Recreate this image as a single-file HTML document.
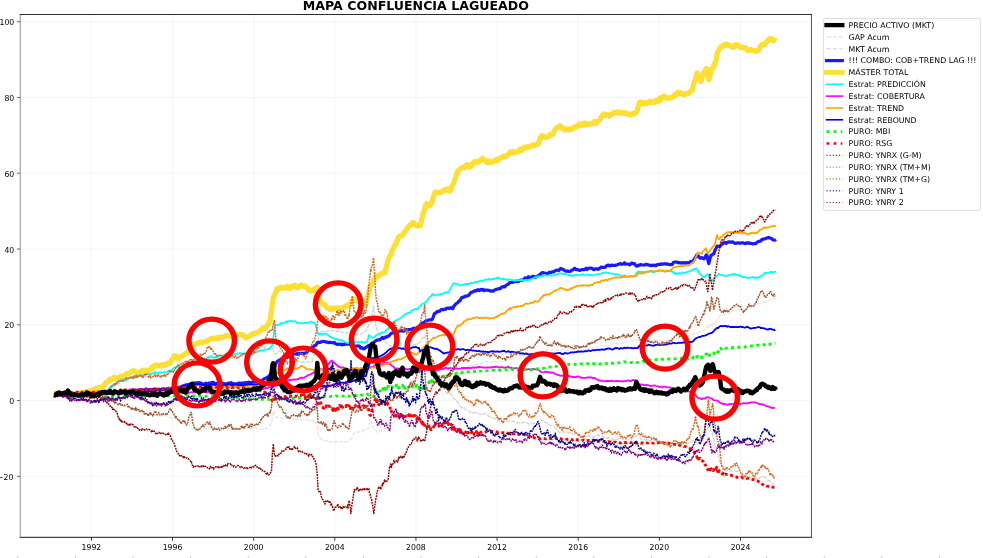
<!DOCTYPE html>
<html lang="es"><head><meta charset="utf-8"><title>MAPA CONFLUENCIA LAGUEADO</title>
<style>html,body{margin:0;padding:0;background:#fff;overflow:hidden}svg{display:block}</style></head>
<body>
<svg width="983" height="558" viewBox="0 0 983 558" style="display:block">
<rect x="0" y="0" width="983" height="558" fill="#fff"/>
<g stroke="#b0b0b0" stroke-opacity="0.2" stroke-width="0.63"><line x1="91.40" y1="14.5" x2="91.40" y2="537.35"/><line x1="172.54" y1="14.5" x2="172.54" y2="537.35"/><line x1="253.67" y1="14.5" x2="253.67" y2="537.35"/><line x1="334.81" y1="14.5" x2="334.81" y2="537.35"/><line x1="415.94" y1="14.5" x2="415.94" y2="537.35"/><line x1="497.08" y1="14.5" x2="497.08" y2="537.35"/><line x1="578.22" y1="14.5" x2="578.22" y2="537.35"/><line x1="659.35" y1="14.5" x2="659.35" y2="537.35"/><line x1="740.49" y1="14.5" x2="740.49" y2="537.35"/><line x1="20.25" y1="476.33" x2="811.45" y2="476.33"/><line x1="20.25" y1="400.56" x2="811.45" y2="400.56"/><line x1="20.25" y1="324.79" x2="811.45" y2="324.79"/><line x1="20.25" y1="249.02" x2="811.45" y2="249.02"/><line x1="20.25" y1="173.24" x2="811.45" y2="173.24"/><line x1="20.25" y1="97.47" x2="811.45" y2="97.47"/><line x1="20.25" y1="21.70" x2="811.45" y2="21.70"/></g>
<clipPath id="c"><rect x="20.25" y="14.5" width="791.2" height="522.85"/></clipPath>
<g clip-path="url(#c)">
<path d="M54.3,395.1 L55.3,394.5 L56.3,394.5 L57.3,394.5 L58.3,394.7 L59.3,394.0 L60.3,394.0 L61.3,393.8 L62.2,393.6 L63.2,393.6 L64.2,393.8 L65.2,393.9 L66.2,393.8 L67.2,394.3 L68.2,394.1 L69.2,393.0 L70.2,394.2 L71.2,394.2 L72.2,394.0 L73.2,394.4 L74.2,394.6 L75.2,394.6 L76.2,394.3 L77.2,394.5 L78.1,393.9 L79.1,394.8 L80.1,394.3 L81.1,394.4 L82.1,394.5 L83.1,394.7 L84.1,394.6 L85.1,394.9 L86.1,393.4 L87.1,393.9 L88.1,394.2 L89.1,394.3 L90.1,395.1 L91.1,394.5 L92.1,394.6 L93.0,393.9 L94.0,394.4 L95.0,393.9 L96.0,393.7 L97.0,395.2 L98.0,395.3 L99.0,395.1 L100.0,395.1 L101.0,394.9 L102.0,395.1 L103.0,396.1 L104.0,395.8 L105.0,396.8 L106.0,396.7 L107.0,397.6 L108.0,397.9 L109.0,399.4 L110.0,400.1 L111.0,400.1 L112.0,399.7 L113.0,400.2 L114.0,400.9 L115.0,401.1 L116.0,402.0 L117.0,402.9 L118.0,403.2 L119.0,403.4 L120.0,404.2 L121.0,404.4 L121.9,405.2 L122.9,405.3 L123.9,406.4 L124.9,406.4 L125.9,406.3 L126.9,406.9 L127.9,407.1 L128.9,407.3 L129.9,407.9 L131.0,408.8 L132.0,408.2 L133.0,409.0 L134.0,409.5 L135.1,410.0 L136.1,410.8 L137.1,410.6 L138.2,411.5 L139.2,411.7 L140.2,412.2 L141.2,412.5 L142.3,412.8 L143.3,413.1 L144.3,413.5 L145.3,414.4 L146.2,414.5 L147.2,414.5 L148.2,414.4 L149.2,414.0 L150.1,414.2 L151.1,415.0 L152.1,414.1 L153.1,414.5 L154.1,414.8 L155.0,414.7 L156.0,414.9 L157.0,415.2 L158.0,415.8 L158.9,415.8 L159.9,416.0 L160.9,415.5 L161.9,415.6 L162.8,415.3 L163.8,415.3 L164.8,415.0 L165.8,415.6 L166.8,416.5 L167.9,416.5 L168.9,416.8 L169.9,417.4 L170.9,417.6 L171.9,418.3 L173.0,418.5 L174.0,418.3 L175.0,418.4 L176.0,419.4 L177.0,420.0 L178.0,420.8 L179.0,421.0 L180.0,421.4 L180.9,421.0 L181.9,422.2 L182.9,422.1 L183.9,423.0 L184.9,422.8 L185.9,423.1 L186.9,423.8 L188.0,424.5 L189.0,425.1 L190.1,426.4 L191.2,427.4 L192.2,428.2 L193.3,428.7 L194.3,428.3 L195.3,428.2 L196.2,428.1 L197.2,428.2 L198.2,428.5 L199.2,428.3 L200.2,427.9 L201.2,427.7 L202.1,428.3 L203.1,428.2 L204.1,428.1 L205.1,428.1 L206.1,428.1 L207.1,428.0 L208.0,428.2 L209.0,428.2 L210.0,426.7 L211.0,427.1 L212.0,428.5 L213.0,427.6 L214.0,427.7 L215.0,428.2 L216.0,428.0 L217.0,428.5 L218.0,427.8 L219.0,427.4 L220.0,427.6 L221.0,427.5 L222.0,427.4 L223.0,428.0 L224.0,428.2 L225.0,428.3 L226.0,428.1 L227.0,428.4 L228.0,428.4 L229.0,428.1 L230.0,428.5 L231.0,428.7 L232.0,428.6 L233.0,428.8 L234.0,428.2 L235.0,428.3 L236.0,428.2 L237.0,428.9 L238.0,428.9 L239.0,429.6 L240.0,429.7 L241.0,429.0 L242.0,428.3 L243.0,428.6 L244.0,428.4 L245.0,428.4 L246.0,428.0 L247.0,428.5 L248.0,428.6 L249.0,428.7 L250.0,428.7 L251.0,428.3 L251.9,427.5 L252.9,427.8 L253.9,427.8 L254.9,427.9 L255.8,428.5 L256.8,428.4 L257.8,429.0 L258.8,428.8 L259.7,428.9 L260.7,428.9 L261.7,429.0 L262.6,428.2 L263.6,428.7 L264.6,428.6 L265.6,428.1 L266.5,428.4 L267.5,428.5 L268.6,427.4 L269.6,425.9 L270.7,424.3 L271.8,421.9 L272.6,416.6 L273.5,410.8 L274.4,413.1 L275.2,415.2 L276.1,417.7 L277.1,417.2 L278.1,417.6 L279.1,417.6 L280.1,417.3 L281.1,417.7 L282.1,418.0 L283.0,418.8 L284.0,419.0 L285.0,418.1 L286.0,417.6 L287.0,418.2 L288.0,418.5 L289.0,418.4 L290.0,418.1 L291.0,418.5 L291.9,418.4 L292.9,418.5 L293.9,419.2 L294.9,419.4 L295.8,419.1 L296.8,418.8 L297.8,419.0 L298.8,420.0 L299.8,419.6 L300.7,420.3 L301.7,419.7 L302.7,419.7 L303.7,420.0 L304.6,419.6 L305.6,419.8 L306.6,419.3 L307.6,419.9 L308.5,420.4 L309.5,420.0 L310.5,420.2 L311.6,420.3 L312.7,419.9 L313.8,421.8 L314.8,422.1 L315.9,422.6 L317.0,422.8 L318.0,433.3 L319.1,436.3 L320.2,437.2 L321.3,439.3 L322.4,439.6 L323.4,440.0 L324.5,440.7 L325.6,440.7 L326.6,440.6 L327.7,440.8 L328.7,441.3 L329.8,441.8 L330.8,442.1 L331.8,442.5 L332.8,441.9 L333.9,442.2 L334.9,442.2 L335.9,441.9 L336.9,441.4 L337.9,441.9 L339.0,441.5 L340.0,441.4 L341.0,441.1 L342.0,442.1 L343.0,441.9 L344.0,441.7 L345.0,441.6 L346.0,441.7 L347.0,441.8 L348.0,441.2 L349.1,440.0 L350.1,439.5 L351.2,439.0 L352.3,436.7 L353.3,435.0 L354.4,433.0 L355.4,432.0 L356.3,432.1 L357.3,431.8 L358.2,432.3 L359.2,432.0 L360.1,431.8 L361.1,431.0 L362.0,431.1 L363.0,430.3 L364.1,430.1 L365.2,430.2 L366.2,429.0 L367.3,428.8 L368.4,428.7 L369.4,424.0 L370.5,420.0 L371.6,423.3 L372.7,426.5 L373.8,429.3 L374.9,429.8 L376.0,430.1 L377.0,432.1 L378.1,432.6 L379.2,431.7 L380.2,430.4 L381.3,430.6 L382.4,429.2 L383.4,429.2 L384.5,428.7 L385.6,427.7 L386.7,426.5 L387.8,425.8 L388.8,424.6 L389.9,424.4 L391.0,424.3 L392.0,423.8 L393.0,423.2 L394.0,422.0 L395.0,421.4 L396.0,420.2 L397.0,419.6 L398.0,419.4 L399.0,419.7 L400.0,418.6 L401.0,417.3 L402.0,415.4 L403.0,414.8 L404.0,413.5 L405.0,412.2 L406.0,410.9 L407.0,410.5 L408.0,409.6 L409.0,409.0 L410.0,407.9 L411.0,407.0 L412.0,406.6 L413.0,405.6 L414.0,404.7 L415.0,404.0 L416.0,402.6 L417.0,400.9 L418.0,399.6 L419.0,398.2 L420.0,397.7 L421.0,397.1 L422.0,396.8 L423.0,396.5 L424.0,395.5 L425.0,395.0 L426.0,394.9 L427.0,394.1 L428.0,393.7 L429.0,392.8 L430.0,391.7 L431.0,391.1 L432.0,389.7 L433.0,389.7 L434.0,388.9 L435.0,388.9 L436.0,387.5 L437.0,387.0 L438.0,386.5 L439.0,385.7 L440.0,385.1 L441.0,384.2 L441.9,383.4 L442.9,382.5 L443.9,382.1 L444.8,381.6 L445.8,381.5 L446.8,380.9 L447.8,380.3 L448.7,379.6 L449.7,378.6 L450.7,378.3 L451.6,378.3 L452.6,377.3 L453.7,376.4 L454.7,375.7 L455.8,374.3 L456.8,373.4 L457.9,372.1 L458.9,372.0 L460.0,371.0 L461.0,370.7 L462.0,369.6 L462.9,369.4 L463.9,368.7 L464.9,368.5 L465.9,367.8 L466.9,367.5 L467.8,366.8 L468.8,366.7 L469.8,367.1 L470.8,365.9 L471.7,365.1 L472.7,365.2 L473.7,365.2 L474.7,364.7 L475.8,364.7 L476.8,364.5 L477.8,364.3 L478.8,364.4 L479.9,363.5 L480.9,363.4 L481.9,363.1 L482.9,362.4 L484.0,362.4 L485.0,361.5 L486.0,361.1 L487.0,362.0 L488.0,361.5 L489.0,362.4 L490.0,362.7 L491.0,362.2 L492.0,361.7 L493.0,360.9 L494.0,361.4 L495.0,361.0 L496.0,362.1 L497.0,361.4 L498.0,361.7 L499.0,360.7 L500.0,361.1 L501.0,361.8 L502.0,361.3 L503.0,360.7 L504.0,360.4 L505.0,360.4 L506.0,360.6 L507.0,360.0 L508.0,358.9 L509.0,359.0 L510.0,359.3 L511.0,359.8 L512.0,359.1 L513.0,358.6 L514.0,357.9 L515.0,357.9 L516.0,358.2 L517.0,357.1 L518.0,356.8 L519.0,356.0 L520.0,355.6 L521.0,355.5 L522.0,355.5 L523.0,354.9 L524.0,354.6 L525.0,355.0 L526.0,354.8 L527.0,354.6 L528.0,354.2 L529.0,353.6 L530.0,353.4 L531.0,353.2 L532.0,352.8 L533.0,352.8 L534.0,352.3 L535.0,352.4 L536.0,352.0 L537.0,352.1 L538.0,351.5 L539.0,351.1 L540.0,350.6 L541.0,351.3 L542.0,351.3 L543.0,351.1 L544.0,351.1 L545.0,350.5 L546.0,350.5 L547.0,350.1 L548.0,349.4 L549.0,349.5 L550.0,349.3 L551.0,350.2 L552.0,349.9 L553.0,349.8 L554.0,350.4 L555.0,350.3 L556.0,349.7 L557.0,350.1 L558.0,349.9 L559.0,350.8 L560.0,350.2 L561.0,350.0 L562.0,349.1 L563.0,349.5 L564.0,350.8 L565.0,350.7 L566.0,350.3 L567.0,350.6 L568.0,350.6 L569.0,350.6 L570.0,351.8 L571.0,352.2 L572.0,352.3 L573.0,352.4 L574.0,351.4 L575.0,350.4 L576.0,350.8 L577.0,350.8 L578.0,350.5 L579.0,350.3 L580.0,350.4 L581.0,350.3 L582.0,350.0 L583.0,349.9 L584.0,349.4 L585.0,349.0 L586.0,349.5 L587.0,348.9 L588.0,349.5 L589.0,349.1 L590.0,348.6 L591.0,348.7 L592.0,348.0 L593.0,347.6 L594.0,347.3 L595.0,347.2 L596.0,347.3 L597.0,347.8 L598.0,347.4 L599.0,346.5 L600.0,345.9 L601.0,345.2 L602.0,345.8 L603.0,346.1 L604.1,345.9 L605.1,345.8 L606.1,345.7 L607.1,345.6 L608.1,345.5 L609.1,345.3 L610.1,344.5 L611.2,344.9 L612.2,345.1 L613.2,344.0 L614.2,343.9 L615.2,343.4 L616.2,343.7 L617.3,343.5 L618.3,344.0 L619.3,344.1 L620.3,343.4 L621.3,342.9 L622.3,342.5 L623.4,342.7 L624.4,342.1 L625.4,342.3 L626.4,341.5 L627.4,342.0 L628.5,342.0 L629.5,341.2 L630.5,340.8 L631.5,340.9 L632.5,340.9 L633.5,339.6 L634.6,340.0 L635.6,340.7 L636.6,340.2 L637.6,339.7 L638.6,340.5 L639.6,340.5 L640.7,340.6 L641.7,340.8 L642.7,340.1 L643.7,340.0 L644.7,339.8 L645.8,339.7 L646.8,340.0 L647.8,339.9 L648.8,340.9 L649.8,341.1 L650.8,341.3 L651.9,340.4 L652.9,340.6 L653.9,340.7 L654.9,340.9 L655.9,341.1 L656.9,340.8 L658.0,340.6 L659.0,341.2 L660.0,342.1 L661.0,342.6 L662.0,341.7 L663.0,340.9 L664.1,340.8 L665.1,340.8 L666.1,341.3 L667.1,340.7 L668.1,340.0 L669.2,340.4 L670.2,339.8 L671.2,339.3 L672.2,339.5 L673.2,339.3 L674.3,338.8 L675.3,338.7 L676.3,338.6 L677.3,338.5 L678.3,338.2 L679.4,338.5 L680.4,338.2 L681.4,337.9 L682.4,338.1 L683.4,337.3 L684.5,337.4 L685.5,337.3 L686.5,336.7 L687.5,336.5 L688.5,335.5 L689.6,335.5 L690.6,334.9 L691.6,334.5 L692.6,334.4 L693.6,333.8 L694.6,333.7 L695.6,333.5 L696.7,333.5 L697.7,333.1 L698.7,332.9 L699.7,331.9 L700.7,331.3 L701.7,331.2 L702.7,330.9 L703.8,330.2 L704.8,329.1 L705.8,328.0 L706.8,327.2 L707.9,327.3 L708.9,326.2 L709.9,325.6 L710.9,325.2 L711.9,324.5 L713.0,323.2 L714.0,323.3 L715.0,322.2 L716.0,321.3 L717.0,320.2 L718.0,318.5 L719.0,317.4 L720.0,315.9 L721.0,315.2 L722.0,314.6 L723.0,314.6 L724.1,314.4 L725.1,314.0 L726.1,313.5 L727.1,313.1 L728.1,313.1 L729.2,313.1 L730.2,312.4 L731.2,312.0 L732.2,310.8 L733.3,310.3 L734.3,310.0 L735.3,309.8 L736.3,310.3 L737.3,309.4 L738.3,309.9 L739.4,310.2 L740.4,310.9 L741.4,310.1 L742.4,310.1 L743.4,310.2 L744.5,310.0 L745.5,309.0 L746.5,308.5 L747.5,307.9 L748.5,307.9 L749.6,308.0 L750.6,308.2 L751.6,307.7 L752.6,307.3 L753.6,306.9 L754.7,305.7 L755.7,305.4 L756.7,305.2 L757.7,304.3 L758.7,303.3 L759.7,303.3 L760.7,303.1 L761.7,303.1 L762.8,302.0 L763.8,301.8 L764.8,302.6 L765.8,302.6 L766.8,301.9 L767.8,301.3 L768.7,300.8 L769.7,300.1 L770.6,299.8 L771.6,299.6 L772.5,298.9 L773.5,298.8 L774.4,298.7 L775.4,297.9" fill="none" stroke="#d8d8d8" stroke-width="1.2" stroke-dasharray="4.4 1.2" stroke-opacity="0.7" stroke-linecap="butt" stroke-linejoin="round"/>
<path d="M54.3,394.2 L55.3,394.8 L56.3,394.1 L57.3,394.6 L58.3,394.2 L59.3,394.1 L60.3,395.0 L61.3,394.7 L62.2,394.4 L63.2,394.6 L64.2,394.9 L65.2,394.5 L66.2,394.6 L67.2,393.8 L68.2,393.7 L69.2,393.6 L70.2,393.1 L71.2,392.7 L72.2,392.4 L73.2,393.0 L74.2,393.3 L75.2,393.4 L76.2,393.6 L77.2,393.1 L78.1,393.4 L79.1,393.7 L80.1,394.1 L81.1,393.5 L82.1,393.4 L83.1,392.6 L84.1,392.8 L85.1,392.1 L86.1,392.1 L87.1,393.4 L88.1,392.4 L89.1,393.4 L90.1,393.6 L91.1,393.5 L92.1,393.8 L93.0,393.9 L94.0,394.3 L95.0,393.9 L96.0,393.4 L97.0,393.2 L98.0,392.8 L99.0,393.1 L100.0,392.9 L101.0,393.2 L102.0,391.8 L103.0,391.1 L104.0,390.6 L105.0,389.6 L106.0,390.8 L107.0,389.1 L108.0,389.0 L109.0,388.7 L110.0,389.4 L111.0,387.7 L112.0,388.1 L113.0,387.0 L114.0,386.4 L115.0,385.4 L116.0,385.3 L117.0,384.0 L118.0,383.5 L119.0,383.1 L120.0,383.3 L121.0,381.0 L122.0,381.4 L123.0,381.4 L124.0,380.6 L125.0,380.4 L126.0,379.7 L127.0,380.3 L128.0,379.8 L129.0,379.2 L130.0,378.7 L131.0,378.3 L132.0,378.0 L133.0,377.3 L134.0,378.3 L135.0,376.7 L136.0,374.9 L137.0,375.7 L138.0,376.2 L139.0,376.6 L140.0,376.6 L141.0,376.5 L142.0,376.7 L143.0,377.2 L144.0,376.6 L145.0,376.4 L146.0,377.4 L147.0,377.2 L148.0,376.3 L149.0,377.4 L150.0,377.3 L151.0,376.5 L152.0,375.7 L153.0,376.0 L154.0,375.6 L155.0,375.2 L156.0,374.9 L157.0,375.1 L158.0,375.9 L159.0,375.6 L160.0,374.9 L161.0,375.6 L162.0,375.6 L163.0,376.0 L164.0,376.4 L165.0,375.9 L166.0,375.1 L167.0,374.4 L168.0,373.3 L169.0,373.3 L170.0,373.5 L171.0,372.7 L172.0,371.8 L173.0,371.0 L174.0,370.1 L175.0,369.4 L176.0,369.0 L177.0,368.3 L178.0,367.9 L179.0,366.9 L180.0,367.1 L181.0,366.8 L182.0,365.8 L183.0,364.5 L184.0,364.7 L185.0,365.1 L186.0,364.2 L187.0,363.6 L188.0,363.0 L189.0,363.0 L190.0,362.1 L191.0,362.3 L192.0,361.5 L193.0,361.5 L194.0,360.8 L195.0,360.0 L196.0,359.0 L197.0,358.7 L198.0,358.7 L199.0,359.0 L200.0,358.8 L201.0,358.1 L202.0,358.2 L203.0,358.4 L204.0,357.8 L205.0,357.2 L206.0,356.8 L207.0,357.1 L208.0,356.9 L209.0,356.0 L210.0,356.1 L211.0,355.9 L212.0,355.6 L213.0,356.5 L214.0,356.8 L215.0,356.3 L216.0,356.4 L217.0,356.7 L218.0,356.3 L219.0,356.4 L220.0,356.8 L221.0,355.9 L222.0,356.5 L223.0,357.0 L224.0,357.2 L225.0,356.4 L226.0,356.9 L227.0,356.5 L228.0,357.1 L229.0,357.5 L230.0,357.5 L231.0,357.0 L232.0,356.9 L233.0,357.6 L234.0,357.1 L235.0,357.6 L236.0,357.6 L237.0,357.2 L238.0,358.3 L239.0,357.6 L240.0,358.2 L241.0,356.4 L242.0,355.2 L243.0,356.1 L244.0,356.4 L245.0,356.0 L246.0,355.8 L247.0,354.8 L248.0,354.7 L249.0,354.5 L250.0,354.6 L251.0,355.2 L252.0,355.1 L253.0,354.6 L254.0,353.6 L255.0,352.9 L256.0,352.5 L257.0,351.8 L258.0,351.9 L259.0,350.6 L260.0,351.1 L261.0,349.6 L262.0,349.5 L263.0,348.1 L264.0,348.3 L265.0,347.2 L266.0,346.5 L267.0,345.9 L268.0,344.5 L269.0,343.2 L270.0,341.7 L271.0,345.2 L272.0,347.3 L273.0,349.5 L273.9,351.2 L274.9,353.8 L275.8,354.0 L276.9,353.2 L277.9,351.9 L279.0,351.1 L280.0,351.2 L281.0,352.3 L282.0,354.1 L283.0,355.8 L284.0,357.2 L285.0,357.3 L286.0,357.5 L287.0,357.7 L288.0,357.3 L289.0,357.2 L290.0,358.4 L291.0,359.0 L292.0,359.3 L293.0,360.2 L294.0,359.8 L295.0,360.5 L296.0,360.8 L297.0,361.0 L298.0,361.3 L299.0,361.4 L300.0,361.5 L301.0,361.5 L302.0,362.5 L303.0,361.9 L304.0,362.2 L305.0,362.3 L306.0,361.8 L307.0,362.2 L308.0,361.6 L309.0,362.3 L310.0,361.7 L311.0,361.6 L312.0,362.0 L313.0,359.0 L314.0,355.9 L315.0,352.6 L316.0,348.7 L317.0,344.7 L318.1,340.6 L319.1,336.2 L320.2,331.1 L321.2,331.9 L322.1,331.9 L323.1,331.4 L324.1,331.9 L325.0,331.3 L326.0,331.2 L327.0,331.6 L328.0,330.7 L329.0,331.0 L330.1,330.3 L331.1,330.9 L332.1,330.4 L333.1,330.5 L334.1,330.1 L335.1,330.4 L336.1,331.4 L337.0,331.7 L338.0,330.9 L339.0,331.9 L340.0,332.5 L341.0,332.1 L342.0,332.7 L343.0,331.9 L344.0,331.9 L345.0,332.5 L346.0,332.9 L347.0,333.2 L348.0,332.1 L349.0,331.2 L350.0,331.7 L351.0,331.5 L352.0,332.1 L352.9,332.1 L353.9,333.3 L354.9,334.1 L355.9,334.5 L356.8,334.6 L357.8,334.8 L358.8,335.0 L359.8,334.5 L360.9,333.9 L361.9,333.3 L362.9,332.3 L364.0,332.6 L365.0,331.7 L366.1,330.4 L367.1,328.9 L368.2,326.2 L369.3,323.6 L370.3,322.9 L371.4,320.9 L372.4,313.5 L373.5,305.9 L374.5,313.7 L375.4,320.7 L376.4,328.6 L377.4,330.3 L378.4,332.2 L379.4,332.9 L380.4,335.6 L381.4,337.6 L382.4,337.8 L383.5,338.9 L384.5,340.4 L385.6,341.9 L386.6,343.0 L387.7,344.7 L388.8,345.2 L389.9,345.2 L390.9,345.8 L392.0,347.1 L393.0,347.0 L394.0,347.8 L395.0,348.4 L396.0,348.7 L397.0,349.1 L398.0,348.9 L399.0,349.0 L400.0,348.8 L401.0,348.4 L402.0,347.6 L403.0,347.6 L404.0,347.2 L405.0,346.7 L406.0,347.2 L407.0,347.5 L408.0,347.2 L409.0,347.8 L410.0,347.8 L411.0,347.4 L412.0,346.2 L413.0,344.9 L414.0,344.9 L415.0,344.6 L416.0,344.4 L417.0,343.9 L418.0,343.9 L419.0,342.8 L420.0,342.5 L421.0,340.6 L422.0,338.4 L423.0,337.5 L424.0,337.5 L425.0,335.3 L426.0,340.8 L427.0,345.1 L428.0,349.7 L429.0,354.3 L430.0,359.0 L431.0,363.0 L432.0,367.8 L433.0,370.4 L434.0,373.1 L435.0,374.9 L436.0,378.0 L437.0,381.0 L438.0,383.9 L439.0,383.8 L440.0,385.2 L441.0,385.5 L442.0,387.5 L443.0,389.3 L444.0,390.1 L445.0,390.9 L446.0,392.1 L447.0,393.2 L448.0,393.3 L449.0,394.0 L450.0,393.4 L451.0,394.3 L452.0,395.4 L453.0,396.9 L453.9,399.0 L454.9,399.3 L455.9,399.5 L456.9,401.4 L457.9,402.5 L458.8,404.1 L459.8,405.7 L460.8,406.4 L461.7,407.5 L462.7,408.4 L463.7,407.6 L464.7,408.2 L465.6,409.8 L466.6,409.8 L467.6,410.7 L468.6,411.0 L469.5,411.2 L470.5,412.6 L471.4,413.0 L472.4,412.6 L473.4,413.1 L474.3,412.4 L475.2,412.4 L476.2,413.3 L477.1,413.5 L478.1,413.1 L479.1,413.7 L480.0,414.1 L481.1,414.7 L482.2,414.9 L483.2,414.3 L484.3,413.9 L485.4,413.9 L486.5,413.8 L487.6,415.2 L488.7,416.2 L489.8,416.9 L490.8,417.0 L491.9,417.0 L493.0,417.9 L494.1,418.1 L495.1,418.9 L496.2,418.6 L497.3,419.5 L498.3,421.2 L499.4,421.2 L500.4,420.6 L501.3,420.9 L502.3,422.0 L503.2,422.5 L504.2,421.9 L505.1,421.5 L506.1,421.4 L507.0,421.0 L508.0,421.2 L509.0,421.3 L509.9,420.8 L510.9,421.0 L511.9,421.3 L512.9,421.3 L513.8,421.1 L514.8,422.1 L515.8,423.2 L516.8,422.8 L517.7,422.5 L518.7,422.8 L519.7,422.7 L520.7,422.3 L521.8,423.3 L522.8,422.6 L523.8,422.4 L524.8,422.4 L525.8,422.3 L526.8,422.6 L527.9,423.2 L528.9,424.0 L529.9,424.0 L530.9,423.8 L531.9,423.0 L532.9,423.3 L534.0,423.0 L535.0,423.3 L536.0,424.0 L537.0,422.9 L537.9,421.6 L538.8,420.1 L539.8,419.2 L540.8,420.1 L541.9,420.3 L542.9,421.0 L544.0,422.4 L545.0,422.3 L546.0,422.7 L547.0,422.8 L548.0,424.3 L549.0,424.8 L550.1,425.3 L551.1,425.6 L552.1,425.9 L553.1,426.2 L554.2,426.3 L555.3,427.8 L556.4,429.2 L557.4,429.5 L558.5,431.3 L559.6,432.7 L560.6,431.8 L561.5,431.8 L562.5,432.0 L563.5,431.9 L564.5,432.4 L565.4,431.8 L566.4,432.1 L567.4,432.4 L568.4,432.9 L569.3,432.8 L570.3,432.7 L571.3,433.5 L572.2,432.8 L573.2,434.0 L574.2,434.3 L575.1,434.2 L576.1,434.7 L577.1,434.5 L578.0,434.5 L579.0,435.5 L580.1,435.6 L581.1,436.4 L582.2,436.1 L583.2,435.7 L584.3,435.6 L585.4,436.9 L586.4,436.8 L587.5,436.4 L588.5,435.9 L589.6,435.6 L590.6,435.9 L591.7,436.3 L592.8,436.8 L593.8,437.1 L594.9,436.8 L595.9,436.1 L597.0,435.6 L598.0,434.6 L599.0,435.0 L600.0,436.0 L601.0,436.3 L602.0,436.9 L603.0,436.5 L604.0,437.5 L605.0,437.9 L606.0,438.1 L607.0,438.5 L608.0,437.5 L609.0,437.9 L610.0,437.9 L611.0,439.2 L611.9,439.0 L612.9,438.7 L613.9,439.3 L614.9,438.7 L615.8,439.6 L616.8,439.0 L617.8,439.1 L618.8,438.7 L619.8,439.4 L620.7,438.3 L621.7,439.1 L622.7,438.9 L623.7,439.2 L624.6,438.8 L625.6,439.3 L626.6,439.5 L627.6,439.9 L628.5,440.0 L629.5,440.2 L630.5,440.6 L631.6,439.3 L632.7,437.9 L633.8,436.8 L634.8,436.8 L635.9,435.9 L637.0,435.9 L638.1,436.4 L639.1,436.6 L640.2,437.9 L641.3,439.5 L642.3,439.6 L643.4,439.6 L644.4,439.3 L645.4,440.1 L646.3,439.8 L647.3,439.7 L648.3,440.3 L649.3,440.3 L650.2,440.4 L651.2,440.1 L652.2,439.9 L653.2,440.3 L654.1,440.5 L655.1,440.9 L656.1,440.6 L657.1,440.8 L658.0,441.1 L659.0,441.0 L660.0,441.3 L661.0,441.8 L662.0,441.7 L663.0,441.7 L664.0,441.2 L665.0,441.7 L666.0,441.8 L667.0,441.8 L668.0,441.6 L669.0,442.3 L670.0,443.7 L671.0,443.5 L672.0,443.3 L673.0,443.5 L674.0,443.1 L675.0,443.3 L676.0,443.1 L677.0,443.1 L678.0,443.6 L679.0,443.9 L680.0,444.0 L681.0,443.8 L682.0,444.2 L683.0,443.9 L684.0,444.3 L685.0,443.8 L685.9,443.6 L686.9,443.8 L687.9,443.7 L688.9,442.5 L689.9,442.3 L690.9,442.4 L691.8,441.6 L692.8,440.4 L693.8,440.7 L694.8,441.5 L695.9,442.3 L696.9,442.8 L697.9,443.3 L699.0,443.8 L700.0,444.8 L701.0,442.8 L701.9,440.9 L702.9,438.5 L703.8,437.2 L704.8,434.9 L705.7,433.3 L706.7,430.1 L707.8,428.4 L708.8,426.4 L709.9,428.1 L710.9,430.7 L712.0,432.5 L713.1,436.8 L714.2,441.1 L715.3,446.7 L716.4,450.2 L717.4,453.6 L718.5,456.3 L719.5,460.3 L720.6,463.8 L721.7,464.8 L722.8,466.2 L723.8,466.8 L724.9,469.0 L726.0,470.0 L727.0,470.8 L728.0,470.6 L728.9,470.5 L729.9,471.0 L730.9,471.2 L731.9,470.7 L732.9,471.0 L733.9,471.5 L734.8,471.4 L735.8,470.9 L736.8,471.2 L737.8,471.4 L738.7,472.0 L739.7,472.8 L740.7,473.4 L741.7,473.9 L742.6,473.7 L743.6,474.8 L744.6,475.3 L745.6,475.8 L746.5,476.5 L747.5,478.0 L748.5,477.0 L749.5,476.4 L750.4,477.3 L751.4,477.0 L752.4,478.0 L753.4,477.4 L754.4,477.4 L755.4,478.1 L756.3,478.6 L757.3,478.6 L758.3,478.7 L759.4,478.0 L760.5,477.2 L761.5,476.7 L762.6,477.0 L763.7,476.7 L764.8,477.2 L765.8,478.1 L766.9,479.2 L767.9,480.4 L769.0,480.7 L770.1,481.1 L771.2,481.9 L772.2,483.7 L773.3,483.8 L774.4,484.6" fill="none" stroke="#c4c4c4" stroke-width="1.2" stroke-dasharray="4.4 1.2" stroke-opacity="0.8" stroke-linecap="butt" stroke-linejoin="round"/>
<path d="M54.3,394.2 L55.3,394.4 L56.3,394.1 L57.3,394.3 L58.3,394.6 L59.2,394.6 L60.2,395.1 L61.2,394.3 L62.2,394.2 L63.2,393.9 L64.2,393.6 L65.2,393.8 L66.2,394.0 L67.2,394.2 L68.1,394.4 L69.1,395.3 L70.1,395.1 L71.1,393.9 L72.1,394.1 L73.1,393.8 L74.1,393.7 L75.1,394.4 L76.0,394.1 L77.0,393.2 L78.0,393.7 L79.0,393.7 L80.0,393.3 L81.0,393.2 L82.0,393.2 L83.0,393.5 L84.0,393.5 L85.0,393.7 L86.0,394.6 L87.0,393.9 L88.0,393.5 L89.0,393.5 L90.0,394.1 L91.0,393.6 L92.0,394.3 L93.0,393.4 L94.0,393.0 L95.0,393.3 L96.0,393.0 L97.0,393.0 L98.0,393.4 L99.0,393.8 L100.0,393.7 L101.0,393.4 L102.0,393.9 L103.0,393.8 L104.0,393.4 L105.0,393.8 L106.0,393.0 L107.0,393.0 L108.0,393.2 L109.0,393.0 L110.0,392.6 L111.0,392.7 L112.0,392.4 L113.0,392.1 L114.0,391.8 L115.0,392.6 L116.0,392.2 L117.0,392.7 L118.0,392.6 L119.0,392.2 L120.0,392.4 L121.0,392.2 L122.0,392.1 L123.0,391.3 L124.0,391.5 L125.0,391.9 L126.0,391.9 L127.0,392.1 L128.0,392.4 L129.0,392.1 L130.0,392.6 L131.0,391.2 L132.0,391.0 L133.0,389.8 L134.0,390.7 L135.0,390.8 L136.0,391.5 L137.0,390.9 L138.0,389.9 L139.0,390.7 L140.0,390.0 L141.0,389.5 L142.1,389.7 L143.1,390.2 L144.2,389.9 L145.2,390.0 L146.2,389.0 L147.3,390.1 L148.3,389.8 L149.4,389.7 L150.4,389.8 L151.4,389.7 L152.5,389.7 L153.5,389.1 L154.5,389.1 L155.5,389.4 L156.6,389.8 L157.6,389.5 L158.6,389.4 L159.7,389.4 L160.7,389.5 L161.7,389.4 L162.7,389.1 L163.8,388.8 L164.8,389.4 L165.8,389.2 L166.8,388.9 L167.9,390.3 L168.9,389.8 L169.9,389.4 L170.9,388.8 L172.0,387.9 L173.0,388.4 L174.0,388.0 L175.0,387.8 L176.1,388.0 L177.1,388.1 L178.1,387.7 L179.1,387.2 L180.1,387.7 L181.1,387.1 L182.1,386.0 L183.1,386.0 L184.1,385.6 L185.0,385.2 L186.0,385.1 L187.0,384.7 L188.0,385.2 L189.0,384.5 L190.0,384.0 L191.1,384.1 L192.2,383.2 L193.3,383.4 L194.4,382.9 L195.4,383.4 L196.4,382.8 L197.5,383.2 L198.5,382.5 L199.5,382.7 L200.6,383.1 L201.6,383.5 L202.6,384.5 L203.6,384.9 L204.6,383.7 L205.6,383.2 L206.7,383.9 L207.7,383.9 L208.7,383.0 L209.7,383.4 L210.7,382.8 L211.7,382.7 L212.7,382.4 L213.7,382.6 L214.8,383.9 L215.8,383.7 L216.8,383.4 L217.8,384.4 L218.8,383.6 L219.8,383.4 L220.8,383.2 L221.9,383.5 L222.9,383.3 L223.9,384.0 L224.9,383.7 L225.9,383.9 L226.9,383.9 L228.0,383.4 L229.0,383.1 L230.0,383.4 L231.0,382.6 L232.0,383.2 L233.1,383.6 L234.1,383.8 L235.1,383.9 L236.1,384.0 L237.1,383.7 L238.2,384.0 L239.2,383.0 L240.2,383.6 L241.2,383.1 L242.2,383.4 L243.2,383.1 L244.3,382.9 L245.3,382.6 L246.3,383.4 L247.3,382.6 L248.3,382.1 L249.4,382.5 L250.4,382.6 L251.4,382.6 L252.4,382.0 L253.3,381.7 L254.3,382.1 L255.3,381.4 L256.2,381.7 L257.2,381.8 L258.2,381.5 L259.2,380.7 L260.1,381.5 L261.1,381.1 L262.0,380.5 L263.0,379.8 L263.9,378.9 L264.9,378.5 L265.8,378.2 L266.8,377.4 L267.7,377.2 L268.8,376.5 L269.9,375.1 L270.9,373.5 L272.0,372.6 L272.9,370.8 L273.9,369.0 L274.9,366.4 L275.8,363.6 L277.2,361.4 L278.1,361.0 L278.9,360.3 L279.8,360.1 L280.7,359.4 L281.8,358.6 L282.9,359.1 L283.9,357.5 L285.0,357.5 L286.1,357.4 L287.2,357.4 L288.2,356.7 L289.3,356.4 L290.3,355.4 L291.3,355.2 L292.3,354.0 L293.4,353.9 L294.4,354.0 L295.4,354.0 L296.4,353.7 L297.4,354.3 L298.4,353.3 L299.4,353.5 L300.5,353.3 L301.5,353.3 L302.5,353.2 L303.5,354.0 L304.5,353.0 L305.4,353.0 L306.4,352.8 L307.4,351.7 L308.3,350.6 L309.3,349.4 L310.2,348.5 L311.2,349.1 L312.1,347.2 L313.1,347.0 L314.2,345.7 L315.2,345.7 L316.3,344.5 L317.4,342.6 L318.4,342.3 L319.4,342.4 L320.4,342.3 L321.3,341.7 L322.3,341.5 L323.3,341.3 L324.3,341.5 L325.3,341.8 L326.3,342.1 L327.3,342.0 L328.3,342.6 L329.4,342.4 L330.4,342.3 L331.4,342.5 L332.4,342.8 L333.4,343.0 L334.4,342.5 L335.4,343.7 L336.4,344.0 L337.4,344.5 L338.4,344.1 L339.4,344.3 L340.4,344.3 L341.3,344.2 L342.3,344.9 L343.3,344.3 L344.3,344.5 L345.3,343.6 L346.3,344.2 L347.3,344.2 L348.2,344.0 L349.2,344.3 L350.1,343.8 L351.1,344.1 L352.1,345.0 L353.0,344.3 L354.0,345.7 L354.9,346.5 L355.9,346.3 L356.8,346.0 L357.8,345.9 L358.8,346.0 L359.7,346.5 L360.7,348.1 L361.6,347.6 L362.6,348.3 L363.5,349.0 L364.5,348.5 L365.6,347.5 L366.8,347.0 L367.9,345.7 L369.0,345.5 L370.1,345.6 L371.1,344.4 L372.1,343.1 L373.2,342.8 L374.2,342.2 L375.3,341.1 L376.3,340.5 L377.4,340.0 L378.4,339.9 L379.5,340.0 L380.5,339.2 L381.5,338.3 L382.5,337.5 L383.6,338.5 L384.6,337.9 L385.7,336.8 L386.8,337.1 L387.8,336.2 L388.9,335.9 L389.9,334.7 L390.9,333.7 L391.9,333.0 L393.0,333.0 L394.0,332.7 L395.0,332.3 L396.0,332.9 L396.9,332.7 L397.9,331.4 L398.9,331.2 L399.9,331.0 L400.8,330.2 L401.8,331.0 L402.8,330.9 L403.9,331.1 L404.9,330.3 L405.9,329.6 L406.9,330.0 L407.9,329.8 L409.0,329.5 L410.0,329.5 L411.0,329.3 L412.0,328.9 L413.1,328.4 L414.1,328.2 L415.1,329.1 L416.1,328.5 L417.1,327.3 L418.2,327.6 L419.2,326.4 L420.2,325.1 L421.2,324.1 L422.2,322.9 L423.2,323.3 L424.3,322.3 L425.3,321.3 L426.3,320.8 L427.3,320.7 L428.3,320.0 L429.4,319.8 L430.4,319.8 L431.4,319.9 L432.4,319.1 L433.4,316.5 L434.4,313.5 L435.4,313.2 L436.4,312.3 L437.4,311.3 L438.5,311.5 L439.5,311.2 L440.5,310.3 L441.5,309.5 L442.5,309.4 L443.6,309.8 L444.6,309.0 L445.6,309.3 L446.6,308.3 L447.6,308.1 L448.6,308.2 L449.6,308.6 L450.7,307.7 L451.7,308.1 L452.7,308.8 L453.7,306.4 L454.8,305.1 L455.8,304.0 L456.8,303.1 L457.8,302.6 L458.8,301.1 L459.9,300.9 L460.9,299.0 L461.9,297.4 L462.9,297.4 L463.9,297.2 L464.9,296.0 L465.9,296.2 L467.0,296.1 L468.0,295.7 L469.0,294.9 L470.0,293.6 L471.0,292.4 L472.1,292.2 L473.1,291.8 L474.1,291.1 L475.1,290.5 L476.1,290.9 L477.1,290.1 L478.1,289.7 L479.2,290.6 L480.2,289.9 L481.2,289.3 L482.2,290.2 L483.2,289.4 L484.2,290.7 L485.2,290.1 L486.3,290.1 L487.3,290.0 L488.3,290.2 L489.3,290.5 L490.3,291.1 L491.4,290.8 L492.4,291.2 L493.4,291.1 L494.4,290.0 L495.4,289.8 L496.5,289.3 L497.5,289.0 L498.5,288.8 L499.5,288.7 L500.6,288.4 L501.6,287.0 L502.6,286.9 L503.6,286.5 L504.6,286.9 L505.6,285.8 L506.6,285.0 L507.7,284.3 L508.7,284.0 L509.7,282.6 L510.7,282.5 L511.7,282.3 L512.8,282.2 L513.8,281.9 L514.8,281.6 L515.8,281.5 L516.8,280.8 L517.9,281.7 L518.9,281.3 L519.9,280.2 L520.9,280.0 L521.9,280.3 L522.9,279.7 L524.0,279.3 L525.0,277.9 L526.0,278.6 L527.0,278.2 L528.0,276.9 L529.0,276.9 L530.0,277.7 L531.0,277.6 L532.0,276.6 L533.1,276.4 L534.1,276.6 L535.1,277.4 L536.1,277.0 L537.1,276.6 L538.2,275.7 L539.2,275.2 L540.2,274.2 L541.3,273.3 L542.3,272.6 L543.3,272.7 L544.3,273.5 L545.3,273.2 L546.4,273.6 L547.4,273.5 L548.4,273.1 L549.4,272.2 L550.4,272.7 L551.5,272.2 L552.5,271.8 L553.5,272.0 L554.5,271.3 L555.5,270.6 L556.5,270.2 L557.5,270.0 L558.6,270.7 L559.6,269.5 L560.6,268.4 L561.6,268.8 L562.6,269.4 L563.7,269.7 L564.7,270.6 L565.7,271.1 L566.7,271.3 L567.7,270.9 L568.7,271.4 L569.8,271.5 L570.8,271.3 L571.8,270.1 L572.8,270.0 L573.8,269.1 L574.8,268.3 L575.8,269.4 L576.8,269.7 L577.8,269.7 L578.9,270.1 L579.9,270.4 L580.9,269.9 L581.9,269.7 L582.9,269.7 L583.9,269.7 L585.0,269.3 L586.0,268.3 L587.0,269.5 L588.0,268.6 L589.0,268.1 L590.1,268.3 L591.1,268.1 L592.1,268.4 L593.1,269.4 L594.1,269.6 L595.2,268.9 L596.2,268.9 L597.2,268.8 L598.2,269.3 L599.2,268.7 L600.2,267.9 L601.2,267.0 L602.2,267.3 L603.3,267.3 L604.3,267.3 L605.3,267.2 L606.2,266.0 L607.2,265.6 L608.1,264.9 L609.1,265.7 L610.1,265.9 L611.2,265.0 L612.2,265.4 L613.2,265.3 L614.2,265.3 L615.3,265.5 L616.3,265.0 L617.3,264.7 L618.3,264.3 L619.3,264.0 L620.3,263.6 L621.4,264.2 L622.4,264.2 L623.4,263.8 L624.4,262.8 L625.4,264.2 L626.4,264.0 L627.5,264.0 L628.5,264.2 L629.5,264.8 L630.5,264.3 L631.5,263.1 L632.6,263.4 L633.6,263.7 L634.6,263.7 L635.6,265.5 L636.6,266.1 L637.6,265.9 L638.7,265.1 L639.7,265.3 L640.7,264.5 L641.7,265.0 L642.7,265.0 L643.8,265.0 L644.8,265.1 L645.8,264.3 L646.8,264.4 L647.8,264.8 L648.9,264.8 L649.9,265.5 L650.9,265.7 L651.9,265.1 L652.9,265.6 L653.9,265.2 L654.9,265.3 L656.0,265.7 L657.0,264.8 L658.0,264.4 L659.0,264.5 L660.0,264.5 L661.0,263.8 L662.0,264.2 L663.0,264.1 L664.1,263.9 L665.1,263.7 L666.1,264.2 L667.1,263.9 L668.2,264.4 L669.2,264.4 L670.2,264.6 L671.2,264.6 L672.2,264.6 L673.2,262.7 L674.3,262.0 L675.3,262.0 L676.3,262.1 L677.3,262.0 L678.3,262.9 L679.4,262.5 L680.4,262.7 L681.4,263.1 L682.4,262.8 L683.4,262.7 L684.4,262.8 L685.5,263.3 L686.5,262.6 L687.5,262.9 L688.5,262.8 L689.5,262.6 L690.5,261.4 L691.5,261.8 L692.6,261.2 L693.6,260.4 L694.6,258.4 L695.6,257.4 L696.6,255.1 L697.6,255.6 L698.7,256.4 L699.7,257.7 L700.7,258.2 L701.8,257.6 L702.8,258.4 L703.8,258.9 L704.8,257.8 L705.8,255.7 L706.8,254.6 L707.8,259.8 L708.8,263.6 L709.8,259.2 L710.9,255.4 L711.9,255.1 L712.9,254.0 L713.9,253.7 L714.9,250.3 L716.0,248.5 L717.0,246.2 L718.0,246.4 L719.0,246.4 L720.0,246.4 L721.0,244.9 L722.1,244.4 L723.1,242.9 L724.1,243.0 L725.1,242.6 L726.2,243.4 L727.2,242.3 L728.2,242.2 L729.2,241.9 L730.2,242.1 L731.2,242.2 L732.2,241.8 L733.3,242.2 L734.3,243.1 L735.3,243.5 L736.4,243.2 L737.4,242.9 L738.4,242.8 L739.4,243.1 L740.4,243.1 L741.4,243.0 L742.5,242.8 L743.5,242.9 L744.5,243.5 L745.5,243.6 L746.5,242.9 L747.5,243.2 L748.5,242.8 L749.6,243.3 L750.6,243.4 L751.6,243.4 L752.6,244.0 L753.6,243.7 L754.7,243.5 L755.7,243.6 L756.7,242.5 L757.7,241.9 L758.7,241.3 L759.8,241.3 L760.8,240.8 L761.8,239.7 L762.8,239.1 L763.8,239.1 L764.8,238.8 L765.8,238.5 L766.9,237.8 L767.9,238.0 L768.9,237.4 L769.9,238.0 L770.9,238.3 L771.9,238.8 L773.0,240.0 L774.0,240.0 L775.0,240.2 L776.0,239.5" fill="none" stroke="#0000ff" stroke-width="3.2" stroke-opacity="0.9" stroke-linecap="butt" stroke-linejoin="round"/>
<path d="M54.3,393.8 L55.0,393.6 L55.7,394.1 L56.4,393.2 L57.1,393.6 L57.8,393.0 L58.5,393.9 L59.1,394.1 L59.8,394.6 L60.5,394.2 L61.2,394.3 L61.9,394.1 L62.6,393.7 L63.3,393.9 L64.0,393.4 L64.7,393.1 L65.3,393.2 L66.0,392.8 L66.7,392.2 L67.3,392.7 L68.0,392.0 L68.7,392.0 L69.3,392.5 L70.0,392.7 L70.7,393.1 L71.3,393.6 L72.0,395.0 L72.7,394.6 L73.5,394.4 L74.2,394.5 L74.9,395.1 L75.6,394.4 L76.3,393.9 L77.1,394.8 L77.8,393.7 L78.5,393.5 L79.2,393.8 L80.0,394.6 L80.7,393.7 L81.4,392.4 L82.1,392.8 L82.7,392.4 L83.4,392.2 L84.1,392.3 L84.8,392.1 L85.4,392.0 L86.1,391.5 L86.8,391.8 L87.5,392.0 L88.2,391.5 L88.9,390.9 L89.6,391.0 L90.2,390.8 L90.9,390.1 L91.6,389.8 L92.3,390.2 L93.0,389.9 L93.7,389.5 L94.3,389.4 L95.0,389.2 L95.7,389.0 L96.3,388.0 L97.0,388.9 L97.7,388.6 L98.3,388.0 L99.0,388.3 L99.7,387.8 L100.4,387.2 L101.0,387.0 L101.7,387.2 L102.4,386.4 L103.1,386.2 L103.7,386.1 L104.4,384.5 L105.1,383.6 L105.8,383.4 L106.5,382.0 L107.1,381.5 L107.8,381.6 L108.5,381.4 L109.2,380.8 L109.8,379.2 L110.5,379.8 L111.2,379.1 L111.9,379.1 L112.6,378.9 L113.2,377.9 L113.9,377.4 L114.6,377.2 L115.3,378.4 L116.0,377.8 L116.6,377.8 L117.3,377.7 L118.0,377.9 L118.7,378.0 L119.4,378.0 L120.0,377.3 L120.7,376.1 L121.4,376.8 L122.1,376.8 L122.8,377.0 L123.4,376.4 L124.1,375.7 L124.8,375.5 L125.5,374.5 L126.2,373.9 L126.8,373.4 L127.5,373.5 L128.2,374.1 L128.9,373.7 L129.6,373.4 L130.2,372.8 L130.9,372.2 L131.6,371.4 L132.3,371.4 L133.0,370.6 L133.6,370.7 L134.3,370.8 L135.0,371.7 L135.7,372.2 L136.3,372.7 L137.0,373.2 L137.7,372.8 L138.4,372.8 L139.1,373.1 L139.7,372.4 L140.4,372.3 L141.1,371.6 L141.8,370.6 L142.4,370.6 L143.1,370.2 L143.8,370.2 L144.5,370.3 L145.1,370.7 L145.8,370.0 L146.5,371.4 L147.1,372.0 L147.8,371.7 L148.5,370.6 L149.2,370.1 L149.8,369.9 L150.5,369.4 L151.2,368.9 L151.9,367.4 L152.5,366.6 L153.2,367.0 L153.9,366.5 L154.6,365.7 L155.2,365.5 L155.9,365.1 L156.6,365.0 L157.3,365.9 L157.9,365.7 L158.6,366.1 L159.3,365.9 L160.0,365.1 L160.7,365.0 L161.3,366.0 L162.0,365.3 L162.7,364.7 L163.4,365.3 L164.1,365.0 L164.7,364.8 L165.4,365.2 L166.1,364.0 L166.8,364.2 L167.5,363.7 L168.1,363.1 L168.8,363.0 L169.5,363.7 L170.2,363.5 L170.9,361.3 L171.6,359.8 L172.3,359.4 L173.1,358.3 L173.8,356.2 L174.5,355.9 L175.2,355.9 L175.8,355.8 L176.4,356.4 L177.1,357.4 L177.8,358.5 L178.4,359.1 L179.1,358.2 L179.8,357.4 L180.4,356.5 L181.1,356.4 L181.8,356.0 L182.5,356.0 L183.1,355.2 L183.8,354.9 L184.5,354.4 L185.2,353.8 L185.9,353.2 L186.6,352.7 L187.3,352.2 L188.0,352.4 L188.7,351.3 L189.4,349.6 L190.2,348.8 L190.9,347.7 L191.6,347.1 L192.3,345.5 L193.0,345.0 L193.6,344.5 L194.3,344.4 L195.0,344.4 L195.7,344.1 L196.3,343.7 L197.0,343.7 L197.7,343.5 L198.3,343.4 L199.0,342.7 L199.7,342.8 L200.3,342.2 L201.0,341.9 L201.7,342.1 L202.3,342.9 L203.0,342.8 L203.7,342.2 L204.5,341.6 L205.2,341.7 L205.9,341.7 L206.7,341.6 L207.4,340.8 L208.2,340.4 L208.9,339.8 L209.6,339.6 L210.3,339.2 L210.9,339.1 L211.6,338.3 L212.3,338.1 L213.0,338.7 L213.6,338.3 L214.3,338.7 L215.0,338.1 L215.7,338.1 L216.4,338.3 L217.0,337.8 L217.7,337.5 L218.4,338.7 L219.1,337.9 L219.8,337.4 L220.4,337.1 L221.1,337.2 L221.8,337.1 L222.5,337.4 L223.1,337.4 L223.8,336.9 L224.5,336.5 L225.2,335.9 L225.9,335.4 L226.7,335.4 L227.4,336.0 L228.1,336.0 L228.8,336.2 L229.6,336.3 L230.3,335.9 L231.0,336.5 L231.7,335.7 L232.4,335.2 L233.1,334.9 L233.8,335.4 L234.6,335.0 L235.3,334.5 L236.0,334.7 L236.7,335.0 L237.4,334.6 L238.1,334.3 L238.9,334.6 L239.6,334.6 L240.3,334.5 L241.0,334.3 L241.7,334.8 L242.3,335.3 L243.0,334.8 L243.7,336.0 L244.4,336.4 L245.0,336.6 L245.7,338.0 L246.4,338.0 L247.1,337.2 L247.8,336.9 L248.5,336.8 L249.2,336.7 L249.9,336.2 L250.6,335.2 L251.3,334.7 L252.0,334.1 L252.7,333.6 L253.4,333.9 L254.1,333.6 L254.7,333.7 L255.4,333.1 L256.1,332.6 L256.8,332.7 L257.4,332.3 L258.1,332.8 L258.8,331.7 L259.4,331.5 L260.1,331.1 L260.7,329.9 L261.4,330.2 L262.1,329.8 L262.7,328.0 L263.4,328.4 L264.1,328.7 L264.8,327.5 L265.5,328.2 L266.1,327.4 L266.8,325.9 L267.5,325.9 L268.1,324.7 L268.8,323.0 L269.4,321.1 L270.0,321.2 L270.6,316.2 L271.3,312.1 L271.9,307.5 L272.6,303.0 L273.2,298.7 L273.9,295.9 L274.7,295.1 L275.4,293.3 L276.2,291.0 L277.0,288.7 L277.7,288.4 L278.3,289.5 L279.0,289.2 L279.7,288.5 L280.3,287.5 L281.0,287.8 L281.7,287.2 L282.4,287.4 L283.0,287.9 L283.7,288.3 L284.4,287.9 L285.1,287.3 L285.8,287.2 L286.4,288.1 L287.1,287.7 L287.8,286.3 L288.5,287.3 L289.2,287.0 L289.8,288.7 L290.5,287.2 L291.2,286.5 L291.9,286.3 L292.6,286.7 L293.3,286.4 L293.9,285.8 L294.6,285.3 L295.3,286.3 L296.0,286.6 L296.7,286.4 L297.4,287.7 L298.0,287.5 L298.7,287.4 L299.4,286.3 L300.0,286.0 L300.7,285.4 L301.4,284.9 L302.1,285.7 L302.8,286.3 L303.4,286.5 L304.1,286.7 L304.8,286.0 L305.5,286.2 L306.2,287.4 L306.8,288.0 L307.5,288.3 L308.2,289.5 L308.8,289.7 L309.5,290.2 L310.2,290.9 L310.9,290.4 L311.5,291.1 L312.2,290.9 L312.9,290.8 L313.6,290.9 L314.2,288.8 L314.9,288.8 L315.6,288.0 L316.3,287.5 L317.0,287.1 L317.7,287.5 L318.7,297.2 L319.4,299.7 L320.2,300.4 L320.9,301.8 L321.7,303.3 L322.4,304.4 L323.1,304.5 L323.8,304.5 L324.4,304.9 L325.1,304.7 L325.8,306.5 L326.5,307.3 L327.2,307.8 L327.8,308.3 L328.5,308.2 L329.2,308.5 L329.9,309.6 L330.6,308.7 L331.4,308.1 L332.1,309.0 L332.8,309.4 L333.5,308.8 L334.3,308.4 L335.0,307.9 L335.7,308.6 L336.4,307.9 L337.1,307.9 L337.8,308.1 L338.5,308.9 L339.2,308.4 L339.9,308.4 L340.6,308.0 L341.3,307.8 L342.0,307.7 L342.7,307.7 L343.4,308.0 L344.1,307.1 L344.7,306.5 L345.4,306.1 L346.1,306.2 L346.8,306.4 L347.5,305.1 L348.1,305.2 L348.8,304.3 L349.5,304.7 L350.2,303.8 L350.9,302.5 L351.6,301.6 L352.2,301.2 L352.9,300.0 L353.6,299.7 L354.3,299.1 L355.0,299.5 L355.8,300.1 L356.5,300.9 L357.3,300.5 L358.0,300.9 L358.7,301.5 L359.3,300.7 L360.0,302.0 L360.7,302.3 L361.3,302.7 L362.0,303.3 L362.7,303.9 L363.4,304.5 L364.1,305.1 L364.8,304.8 L365.5,305.6 L366.2,303.0 L366.8,299.8 L367.5,297.1 L368.3,294.5 L369.1,291.5 L369.8,288.7 L370.6,285.4 L371.3,284.8 L371.9,284.7 L372.6,283.1 L373.3,280.6 L373.9,280.7 L374.6,279.0 L375.3,277.5 L376.0,275.8 L376.6,276.3 L377.3,276.8 L378.0,276.7 L378.7,275.6 L379.3,275.8 L380.0,274.8 L380.7,273.6 L381.4,273.5 L382.1,273.5 L382.8,273.3 L383.4,273.3 L384.1,271.7 L384.8,273.0 L385.6,269.5 L386.4,266.9 L387.1,263.2 L387.9,260.4 L388.6,258.9 L389.3,256.6 L390.0,255.8 L390.8,254.9 L391.5,252.7 L392.2,250.2 L392.9,249.1 L393.6,247.4 L394.3,246.3 L394.9,244.9 L395.6,244.4 L396.3,242.7 L397.0,240.5 L397.7,239.8 L398.4,237.3 L399.0,236.8 L399.7,236.2 L400.4,236.0 L401.1,235.9 L401.7,235.4 L402.4,235.3 L403.1,234.0 L403.8,233.2 L404.6,232.0 L405.3,231.0 L406.1,230.1 L406.8,228.8 L407.6,227.9 L408.3,226.8 L409.0,226.6 L409.7,225.4 L410.4,224.6 L411.0,225.1 L411.7,223.9 L412.4,222.7 L413.1,223.4 L413.7,222.8 L414.4,223.7 L415.1,224.5 L415.7,224.9 L416.4,225.7 L417.1,225.8 L417.8,226.1 L418.4,225.1 L419.1,225.2 L419.8,224.7 L420.5,225.5 L421.2,222.2 L421.9,218.1 L422.6,215.4 L423.3,212.8 L423.9,211.7 L424.6,209.4 L425.3,206.1 L425.9,204.5 L426.6,203.5 L427.4,204.2 L428.1,204.2 L428.9,205.2 L429.7,206.0 L430.4,205.1 L431.2,203.6 L431.9,201.7 L432.7,199.3 L433.4,197.1 L434.1,194.8 L434.8,192.4 L435.5,192.6 L436.1,191.9 L436.8,192.6 L437.5,192.6 L438.1,192.9 L438.8,192.9 L439.5,192.4 L440.2,192.3 L440.9,192.4 L441.5,191.7 L442.2,191.5 L442.9,190.7 L443.6,190.8 L444.3,190.5 L444.9,189.4 L445.6,190.1 L446.3,189.1 L447.0,189.0 L447.8,189.1 L448.5,189.2 L449.2,191.0 L450.0,191.1 L450.8,188.6 L451.6,187.5 L452.3,185.3 L453.1,184.1 L453.9,183.1 L454.6,180.1 L455.4,177.7 L456.1,175.4 L456.8,173.6 L457.5,171.7 L458.2,170.8 L458.9,169.9 L459.6,169.6 L460.3,169.1 L461.0,167.8 L461.7,167.9 L462.4,167.6 L463.1,167.7 L463.8,167.6 L464.5,167.9 L465.2,165.8 L465.9,165.3 L466.6,165.0 L467.3,164.4 L468.0,165.5 L468.7,166.1 L469.4,166.8 L470.1,166.3 L470.8,166.7 L471.4,165.9 L472.1,164.6 L472.8,163.3 L473.4,162.2 L474.1,162.1 L474.8,161.4 L475.4,162.6 L476.1,161.8 L476.8,162.0 L477.5,162.0 L478.2,162.2 L478.9,161.2 L479.6,160.4 L480.2,160.7 L480.9,160.6 L481.6,159.0 L482.3,158.2 L483.0,159.0 L483.8,159.6 L484.5,160.1 L485.2,160.8 L485.9,160.5 L486.6,162.5 L487.4,162.6 L488.1,163.0 L488.8,162.7 L489.5,161.2 L490.3,161.8 L491.0,161.7 L491.7,162.3 L492.4,161.9 L493.1,162.0 L493.8,161.0 L494.4,160.5 L495.1,160.4 L495.8,159.7 L496.5,159.3 L497.2,159.6 L497.8,160.4 L498.5,159.4 L499.2,159.3 L499.9,158.0 L500.6,157.5 L501.3,157.5 L502.1,157.5 L502.8,156.5 L503.5,156.7 L504.2,156.4 L504.9,156.8 L505.7,156.6 L506.4,156.1 L507.1,155.2 L507.8,154.9 L508.6,153.9 L509.3,153.2 L510.0,152.1 L510.7,151.8 L511.4,151.6 L512.0,152.0 L512.7,152.3 L513.4,151.5 L514.1,151.7 L514.8,152.0 L515.4,152.4 L516.1,151.9 L516.8,151.8 L517.5,151.2 L518.2,151.6 L518.8,150.3 L519.5,150.5 L520.2,149.0 L520.9,150.4 L521.6,150.6 L522.2,148.8 L522.9,148.6 L523.6,147.9 L524.3,147.1 L525.0,147.4 L525.6,147.1 L526.3,148.0 L527.0,147.4 L527.7,146.6 L528.4,146.7 L529.0,146.9 L529.7,147.1 L530.4,146.9 L531.1,145.7 L531.8,145.3 L532.5,145.4 L533.2,145.0 L534.0,145.6 L534.7,145.2 L535.4,145.1 L536.1,144.8 L536.8,144.8 L537.5,143.8 L538.3,143.9 L539.0,141.6 L539.8,139.5 L540.6,137.0 L541.3,136.9 L541.9,135.7 L542.6,135.8 L543.3,136.9 L544.0,137.2 L544.7,136.9 L545.3,137.7 L546.0,137.4 L546.7,137.4 L547.4,137.1 L548.1,136.5 L548.7,136.5 L549.4,135.4 L550.1,134.4 L550.8,135.4 L551.4,134.7 L552.1,134.4 L552.8,134.5 L553.5,132.9 L554.3,131.0 L555.0,129.9 L555.8,128.3 L556.6,128.3 L557.3,127.5 L558.1,126.8 L558.9,126.7 L559.6,126.0 L560.2,125.8 L560.9,127.1 L561.6,128.3 L562.3,128.4 L563.0,128.1 L563.6,129.2 L564.3,129.6 L565.0,130.2 L565.6,129.0 L566.3,129.5 L567.0,129.4 L567.7,128.9 L568.4,129.5 L569.0,129.8 L569.7,129.1 L570.4,128.8 L571.1,129.5 L571.7,129.3 L572.4,128.7 L573.1,128.6 L573.8,128.1 L574.5,126.9 L575.1,126.6 L575.8,126.7 L576.5,126.9 L577.2,125.7 L577.9,125.2 L578.6,124.9 L579.2,124.1 L579.9,125.0 L580.6,125.0 L581.3,125.4 L582.0,123.7 L582.7,123.5 L583.3,125.0 L584.0,123.9 L584.7,123.0 L585.4,123.7 L586.1,124.9 L586.7,125.0 L587.4,124.1 L588.1,124.5 L588.8,124.3 L589.5,124.0 L590.2,123.7 L590.8,123.7 L591.5,123.7 L592.2,123.7 L592.9,123.7 L593.6,123.1 L594.2,121.7 L594.9,122.4 L595.6,121.6 L596.3,123.4 L596.9,122.4 L597.6,121.4 L598.3,120.9 L599.1,120.4 L599.8,119.4 L600.6,118.4 L601.4,116.9 L602.1,115.7 L602.7,115.8 L603.4,114.6 L604.1,113.9 L604.8,115.0 L605.5,115.4 L606.2,114.7 L607.0,114.8 L607.7,115.6 L608.4,116.1 L609.1,115.2 L609.8,116.0 L610.5,114.2 L611.2,114.4 L611.9,114.5 L612.5,114.0 L613.2,113.7 L613.9,112.4 L614.6,112.3 L615.3,112.9 L616.0,112.4 L616.6,112.9 L617.3,112.9 L618.0,111.8 L618.7,112.1 L619.3,113.1 L620.0,112.3 L620.7,112.9 L621.4,113.3 L622.2,112.5 L622.9,112.6 L623.6,113.3 L624.3,113.6 L625.1,112.7 L625.8,113.3 L626.5,113.4 L627.2,113.4 L627.9,114.3 L628.6,114.3 L629.3,114.2 L630.1,114.5 L630.8,114.5 L631.5,115.0 L632.2,114.4 L632.9,113.2 L633.6,114.0 L634.3,113.9 L635.0,113.4 L635.6,112.7 L636.3,112.1 L637.0,111.7 L637.8,108.1 L638.6,105.8 L639.4,102.9 L640.1,102.2 L640.8,102.5 L641.5,102.3 L642.2,102.3 L643.0,102.7 L643.7,104.1 L644.4,102.7 L645.1,102.7 L645.8,102.9 L646.5,102.8 L647.1,103.4 L647.8,102.6 L648.5,102.2 L649.2,102.1 L649.8,101.3 L650.5,102.2 L651.2,101.4 L651.9,101.9 L652.5,102.6 L653.2,101.8 L653.9,101.5 L654.6,101.3 L655.4,102.2 L656.1,101.7 L656.8,100.2 L657.5,101.0 L658.2,101.3 L659.0,99.5 L659.7,98.1 L660.4,100.3 L661.1,99.4 L661.9,97.1 L662.6,97.4 L663.4,97.4 L664.1,95.9 L664.8,97.3 L665.4,97.8 L666.1,97.8 L666.8,97.5 L667.5,98.1 L668.1,97.8 L668.8,98.3 L669.5,98.5 L670.2,97.7 L671.0,97.6 L671.7,97.6 L672.4,97.2 L673.1,96.5 L673.9,96.6 L674.6,94.6 L675.3,94.4 L676.1,94.1 L676.8,94.5 L677.5,92.5 L678.2,92.3 L679.0,92.2 L679.7,92.3 L680.4,93.9 L681.1,93.7 L681.8,93.5 L682.4,93.8 L683.1,94.4 L683.8,94.2 L684.5,94.8 L685.1,93.3 L685.8,93.8 L686.5,93.7 L687.2,93.7 L687.8,93.9 L688.5,92.9 L689.2,92.6 L689.9,92.3 L690.5,91.5 L691.2,90.8 L691.9,90.4 L692.6,89.2 L693.2,85.7 L693.9,83.5 L694.7,81.0 L695.5,79.0 L696.2,75.5 L697.0,73.0 L697.7,74.1 L698.4,75.0 L699.0,75.6 L699.7,77.6 L700.4,80.3 L701.1,81.5 L701.8,78.6 L702.4,77.0 L703.1,74.1 L703.9,71.9 L704.6,71.3 L705.4,69.8 L706.1,68.4 L706.8,71.3 L707.5,74.0 L708.1,77.1 L708.8,79.8 L709.6,77.5 L710.4,73.4 L711.2,69.4 L712.0,68.3 L712.8,68.1 L713.5,66.6 L714.3,64.1 L715.0,64.5 L715.6,61.5 L716.3,59.4 L717.3,52.7 L718.1,51.7 L718.8,50.2 L719.6,48.1 L720.4,47.6 L721.1,46.7 L721.8,46.5 L722.5,46.7 L723.1,46.0 L723.8,44.6 L724.5,44.3 L725.2,45.0 L725.8,45.3 L726.5,44.2 L727.2,44.3 L727.8,44.5 L728.5,44.9 L729.2,45.3 L729.9,45.6 L730.5,45.7 L731.2,46.4 L731.9,47.2 L732.6,47.3 L733.4,46.4 L734.1,47.0 L734.9,46.0 L735.6,44.7 L736.3,45.5 L737.1,44.9 L737.8,44.8 L738.5,46.1 L739.2,46.4 L740.0,47.2 L740.7,47.7 L741.4,47.1 L742.1,47.5 L742.8,47.3 L743.4,47.6 L744.1,47.9 L744.8,47.9 L745.5,47.7 L746.3,48.9 L747.0,49.6 L747.8,50.6 L748.5,50.5 L749.3,50.4 L750.1,50.0 L750.9,49.4 L751.7,50.0 L752.5,50.5 L753.2,50.4 L754.0,51.0 L754.7,50.8 L755.4,51.0 L756.1,50.7 L756.9,51.2 L757.6,50.9 L758.3,50.4 L759.0,49.9 L759.7,47.2 L760.4,46.2 L761.1,45.4 L761.8,44.4 L762.4,45.2 L763.1,45.2 L763.8,45.0 L764.4,44.4 L765.1,44.3 L765.8,42.9 L766.5,42.0 L767.2,41.2 L768.0,40.7 L768.7,39.3 L769.5,39.6 L770.2,38.5 L771.0,39.0 L771.8,39.4 L772.5,39.2 L773.3,40.7 L774.0,40.5 L774.8,40.8 L775.5,40.7 L776.3,41.2" fill="none" stroke="#ffd700" stroke-width="5.2" stroke-opacity="0.8" stroke-linecap="butt" stroke-linejoin="round"/>
<path d="M54.3,394.4 L55.3,393.6 L56.3,393.5 L57.3,393.8 L58.3,394.6 L59.3,394.4 L60.3,393.6 L61.3,393.9 L62.2,393.5 L63.2,394.2 L64.2,394.0 L65.2,394.7 L66.2,394.4 L67.2,393.8 L68.2,393.3 L69.2,393.4 L70.2,393.8 L71.2,394.4 L72.2,394.3 L73.2,393.8 L74.2,394.0 L75.2,393.4 L76.2,393.8 L77.2,393.5 L78.1,394.2 L79.1,394.4 L80.1,394.3 L81.1,393.6 L82.1,393.9 L83.1,394.0 L84.1,393.6 L85.1,393.4 L86.1,394.1 L87.1,393.7 L88.1,393.9 L89.1,394.3 L90.1,393.4 L91.1,394.2 L92.1,394.4 L93.0,393.7 L94.0,393.3 L95.0,392.9 L96.0,393.6 L97.0,392.5 L98.0,393.3 L99.0,393.5 L100.0,393.2 L101.0,392.8 L102.0,392.6 L103.0,392.3 L104.0,392.5 L105.0,391.8 L106.0,391.4 L106.9,390.8 L107.9,389.6 L108.8,388.8 L109.8,387.6 L110.7,386.7 L111.7,386.0 L112.7,386.0 L113.8,384.8 L114.8,383.9 L115.8,383.1 L116.8,382.2 L117.9,381.1 L118.9,381.3 L119.9,380.5 L121.0,379.9 L122.0,379.4 L123.0,379.5 L124.1,380.4 L125.1,380.7 L126.2,379.9 L127.2,379.1 L128.2,378.4 L129.3,377.4 L130.3,377.4 L131.3,377.2 L132.3,377.9 L133.3,377.2 L134.3,376.5 L135.3,375.8 L136.3,375.3 L137.3,376.0 L138.3,376.2 L139.3,375.7 L140.3,375.2 L141.3,375.6 L142.3,375.5 L143.3,375.6 L144.3,375.4 L145.3,374.8 L146.3,374.0 L147.3,374.1 L148.3,374.1 L149.3,374.0 L150.3,374.1 L151.3,374.0 L152.3,373.3 L153.3,373.2 L154.3,372.1 L155.2,372.7 L156.2,372.6 L157.1,373.0 L158.1,373.2 L159.1,372.5 L160.0,372.4 L161.0,372.8 L161.9,372.4 L162.9,372.3 L163.8,372.0 L164.8,372.3 L165.8,372.3 L166.9,371.8 L167.9,371.2 L169.0,370.5 L170.0,371.3 L171.0,370.5 L172.0,369.6 L172.9,368.8 L173.9,367.9 L174.9,367.6 L175.9,367.8 L176.9,366.7 L177.9,366.9 L178.9,367.0 L179.9,366.9 L181.0,366.9 L182.0,367.5 L183.0,367.2 L184.0,367.4 L185.0,367.3 L186.0,365.9 L187.0,366.2 L188.0,365.6 L189.0,364.8 L190.0,364.7 L191.0,364.9 L192.0,363.7 L193.0,362.8 L194.0,362.5 L195.0,361.3 L196.0,360.8 L197.0,360.8 L198.0,360.9 L199.0,360.8 L200.0,360.6 L201.0,360.5 L202.0,359.6 L203.0,359.0 L204.0,358.6 L204.9,358.3 L205.9,358.6 L206.8,358.6 L207.8,357.3 L208.8,357.5 L209.7,356.9 L210.7,356.4 L211.7,357.1 L212.7,357.5 L213.8,357.6 L214.8,357.4 L215.8,357.7 L216.8,356.7 L217.8,356.8 L218.8,356.3 L219.9,355.9 L220.9,355.3 L221.9,356.2 L222.9,356.7 L223.9,356.6 L225.0,355.9 L226.0,355.8 L227.0,355.2 L228.0,355.0 L229.0,355.6 L230.0,355.8 L231.0,355.5 L232.0,355.3 L233.0,354.7 L234.0,354.5 L235.0,354.1 L236.0,354.0 L237.0,353.5 L238.0,353.7 L239.0,353.3 L240.0,353.1 L241.0,353.1 L242.1,353.8 L243.1,354.0 L244.1,353.4 L245.2,353.0 L246.2,353.5 L247.3,353.6 L248.3,353.5 L249.3,353.7 L250.4,354.4 L251.4,354.2 L252.4,354.3 L253.3,353.4 L254.3,352.9 L255.3,352.7 L256.2,352.3 L257.2,351.7 L258.2,351.0 L259.2,350.8 L260.1,350.5 L261.1,350.4 L262.1,350.6 L263.2,350.4 L264.2,350.4 L265.2,349.8 L266.2,349.5 L267.2,349.2 L268.3,349.0 L269.3,348.8 L270.4,347.2 L271.4,346.3 L272.5,345.2 L273.7,334.9 L274.4,326.4 L275.3,325.5 L276.3,325.3 L277.2,325.1 L278.2,324.6 L279.2,324.6 L280.1,324.1 L281.1,323.1 L282.1,323.2 L283.1,323.3 L284.1,322.6 L285.1,322.7 L286.1,321.3 L287.1,322.3 L288.1,321.4 L289.1,321.2 L290.1,321.1 L291.1,320.9 L292.2,321.5 L293.2,321.5 L294.2,321.4 L295.2,321.1 L296.3,322.2 L297.3,323.1 L298.3,322.8 L299.3,322.8 L300.3,323.4 L301.3,323.1 L302.3,323.3 L303.3,323.3 L304.3,323.1 L305.3,322.9 L306.3,323.0 L307.3,322.7 L308.3,322.6 L309.4,322.3 L310.4,321.6 L311.4,321.7 L312.4,322.1 L313.5,322.9 L314.5,322.8 L315.6,324.9 L316.6,328.4 L317.4,331.5 L318.1,334.0 L319.1,334.0 L320.1,334.1 L321.1,334.0 L322.1,334.6 L323.0,334.1 L324.0,333.9 L325.0,333.5 L326.0,333.7 L327.0,334.3 L328.0,335.0 L329.0,335.9 L330.1,337.1 L331.1,337.0 L332.1,337.9 L333.1,338.3 L334.1,338.4 L335.1,338.6 L336.0,339.2 L337.0,338.8 L338.0,340.0 L339.0,340.1 L339.9,339.9 L340.9,339.6 L341.9,340.6 L342.9,341.1 L343.8,341.6 L344.8,341.7 L345.8,342.4 L346.8,342.7 L347.7,343.1 L348.7,342.7 L349.6,342.7 L350.6,342.2 L351.6,342.1 L352.5,341.9 L353.5,342.0 L354.4,342.1 L355.4,342.2 L356.3,342.2 L357.3,342.3 L358.3,342.0 L359.3,341.7 L360.3,341.6 L361.3,342.0 L362.3,342.2 L363.3,342.4 L364.3,343.1 L365.3,342.0 L366.3,342.1 L367.3,341.3 L368.1,338.3 L368.8,335.2 L369.9,335.8 L371.0,336.9 L372.0,337.7 L373.1,337.8 L374.2,337.2 L375.2,336.4 L376.3,334.9 L377.4,334.9 L378.4,334.1 L379.5,333.6 L380.5,333.3 L381.5,332.7 L382.5,332.3 L383.6,332.5 L384.6,331.9 L385.6,331.1 L386.5,329.9 L387.5,328.9 L388.4,328.9 L389.4,328.7 L390.3,327.9 L391.4,327.1 L392.5,324.8 L393.5,323.4 L394.6,321.4 L395.6,320.9 L396.6,320.5 L397.6,319.3 L398.6,319.4 L399.6,318.6 L400.6,317.9 L401.5,317.2 L402.5,316.7 L403.5,315.5 L404.5,314.6 L405.5,314.4 L406.5,313.8 L407.5,313.1 L408.5,312.9 L409.4,313.1 L410.4,312.0 L411.4,310.5 L412.3,310.4 L413.3,309.6 L414.2,309.5 L415.2,308.9 L416.2,308.8 L417.1,309.3 L418.1,308.6 L419.1,306.9 L420.2,305.8 L421.2,304.9 L422.2,303.8 L423.2,303.6 L424.3,303.0 L425.3,302.6 L426.3,301.7 L427.3,300.3 L428.3,298.9 L429.4,297.7 L430.4,296.7 L431.4,295.4 L432.4,293.9 L433.4,295.2 L434.4,295.6 L435.4,295.1 L436.4,294.7 L437.5,294.6 L438.5,294.8 L439.5,294.6 L440.5,293.8 L441.5,294.0 L442.6,294.1 L443.6,293.2 L444.6,292.5 L445.6,292.6 L446.6,292.0 L447.7,292.5 L448.7,292.5 L449.7,289.8 L450.7,288.5 L451.7,286.2 L452.7,284.4 L453.7,283.5 L454.7,283.4 L455.7,283.8 L456.8,283.7 L457.8,284.7 L458.8,284.4 L459.8,285.6 L460.9,285.3 L461.9,284.8 L462.9,284.8 L463.9,284.3 L464.9,284.7 L465.9,283.8 L467.0,284.0 L468.0,284.2 L469.0,284.1 L470.0,282.9 L471.0,283.3 L472.1,283.2 L473.1,283.2 L474.1,282.2 L475.1,282.0 L476.1,282.2 L477.1,281.8 L478.2,281.6 L479.2,281.1 L480.2,280.8 L481.2,280.6 L482.2,281.5 L483.3,280.8 L484.3,280.1 L485.3,279.4 L486.3,279.7 L487.3,279.7 L488.4,279.4 L489.4,278.7 L490.4,279.8 L491.4,279.4 L492.4,279.0 L493.4,279.1 L494.4,278.7 L495.5,278.7 L496.5,277.9 L497.5,278.0 L498.5,277.4 L499.5,278.5 L500.6,278.8 L501.6,278.9 L502.6,279.1 L503.6,278.7 L504.6,279.1 L505.7,279.4 L506.7,279.9 L507.7,279.6 L508.7,279.5 L509.7,279.7 L510.8,279.9 L511.8,280.0 L512.8,280.2 L513.8,280.5 L514.8,280.5 L515.8,280.5 L516.9,280.4 L517.9,279.8 L518.9,280.3 L519.9,280.2 L520.9,280.1 L521.9,279.6 L523.0,280.4 L524.0,280.6 L525.0,280.0 L526.0,279.9 L527.0,280.0 L528.0,280.5 L529.0,279.9 L530.1,279.9 L531.1,279.0 L532.1,278.7 L533.1,278.4 L534.1,278.0 L535.2,277.3 L536.2,277.5 L537.2,276.8 L538.2,276.4 L539.2,276.3 L540.3,276.7 L541.3,276.7 L542.3,276.1 L543.3,275.4 L544.3,274.9 L545.3,275.2 L546.3,275.6 L547.3,275.9 L548.4,275.6 L549.4,275.1 L550.4,275.3 L551.4,275.8 L552.4,275.5 L553.4,275.3 L554.5,274.7 L555.5,274.3 L556.5,274.7 L557.5,273.9 L558.5,274.2 L559.6,273.5 L560.6,273.2 L561.6,273.7 L562.6,274.0 L563.6,273.8 L564.7,274.0 L565.7,274.2 L566.7,274.5 L567.7,274.6 L568.7,275.2 L569.8,274.9 L570.8,275.6 L571.8,276.1 L572.8,275.6 L573.8,275.6 L574.8,275.2 L575.8,274.6 L576.8,274.9 L577.8,275.3 L578.9,275.0 L579.9,275.1 L580.9,275.0 L581.9,274.1 L582.9,274.3 L583.9,275.0 L584.9,275.5 L586.0,274.8 L587.0,274.3 L588.0,274.8 L589.0,274.8 L590.0,275.0 L591.1,274.9 L592.1,275.3 L593.1,275.6 L594.1,275.0 L595.1,274.7 L596.2,274.4 L597.2,274.4 L598.2,274.2 L599.2,274.0 L600.2,273.9 L601.3,273.5 L602.3,272.9 L603.3,273.0 L604.3,272.8 L605.3,272.4 L606.3,272.4 L607.3,272.8 L608.2,272.9 L609.2,273.0 L610.2,273.4 L611.2,273.7 L612.2,273.7 L613.2,273.7 L614.2,274.1 L615.2,274.8 L616.2,274.4 L617.3,274.5 L618.3,274.5 L619.3,274.8 L620.3,275.6 L621.3,276.5 L622.3,276.2 L623.4,275.6 L624.4,275.4 L625.4,275.9 L626.4,276.4 L627.5,276.6 L628.5,276.7 L629.5,276.2 L630.5,275.9 L631.5,276.0 L632.6,276.5 L633.6,276.2 L634.6,275.9 L635.6,275.0 L636.6,272.7 L637.6,272.0 L638.6,271.4 L639.6,271.9 L640.7,271.7 L641.7,272.3 L642.7,271.9 L643.7,272.0 L644.7,272.2 L645.7,272.0 L646.8,271.5 L647.8,271.6 L648.8,271.5 L649.8,271.8 L650.8,270.4 L651.8,271.5 L652.9,272.4 L653.9,272.2 L654.9,271.5 L655.9,271.2 L656.9,271.0 L658.0,270.7 L659.0,271.5 L660.0,270.4 L661.0,270.3 L662.0,270.7 L663.0,270.3 L664.1,271.4 L665.1,271.2 L666.1,271.2 L667.1,271.0 L668.1,271.0 L669.2,270.8 L670.2,271.4 L671.2,271.0 L672.2,271.4 L673.2,272.5 L674.3,272.6 L675.3,274.2 L676.3,273.7 L677.3,273.4 L678.4,273.9 L679.4,272.9 L680.4,273.6 L681.4,272.8 L682.4,272.4 L683.5,272.7 L684.5,273.2 L685.5,272.6 L686.5,272.2 L687.5,271.9 L688.5,271.5 L689.5,271.3 L690.6,271.0 L691.6,270.4 L692.6,269.9 L693.6,269.0 L694.6,269.2 L695.6,268.7 L696.6,268.5 L697.6,270.3 L698.7,271.8 L699.7,273.5 L700.7,274.5 L701.8,275.8 L702.8,276.5 L703.8,277.2 L704.8,276.8 L705.8,275.5 L706.8,275.4 L707.8,274.3 L708.8,275.8 L709.8,278.0 L710.9,280.4 L711.9,281.4 L712.9,279.8 L714.0,278.9 L715.0,278.5 L716.0,276.3 L717.0,275.5 L718.0,274.6 L719.0,273.6 L720.0,275.0 L721.0,275.1 L722.0,275.2 L723.1,275.1 L724.1,275.8 L725.1,276.1 L726.1,275.9 L727.1,275.4 L728.1,275.5 L729.2,275.2 L730.2,274.6 L731.2,274.4 L732.2,274.1 L733.3,274.7 L734.3,273.8 L735.3,274.5 L736.3,274.8 L737.3,274.9 L738.4,275.0 L739.4,275.8 L740.4,275.7 L741.4,276.5 L742.4,276.8 L743.4,277.0 L744.5,276.9 L745.5,277.2 L746.5,277.7 L747.5,278.4 L748.5,278.1 L749.5,277.7 L750.5,277.5 L751.6,277.4 L752.6,276.8 L753.6,277.5 L754.6,278.1 L755.6,277.2 L756.7,277.8 L757.7,277.4 L758.7,277.5 L759.7,277.3 L760.7,276.2 L761.8,275.8 L762.8,274.8 L763.8,274.0 L764.8,273.0 L765.8,273.1 L766.8,273.0 L767.9,273.3 L768.9,273.0 L769.9,272.1 L770.9,271.9 L771.9,272.6 L772.9,272.0 L774.0,272.2 L775.0,271.7 L776.0,271.9" fill="none" stroke="#00ffff" stroke-width="1.8" stroke-linecap="butt" stroke-linejoin="round"/>
<path d="M54.3,394.1 L55.3,394.3 L56.3,394.2 L57.3,394.1 L58.3,393.8 L59.3,393.9 L60.3,394.3 L61.3,394.3 L62.3,394.5 L63.3,394.4 L64.3,394.4 L65.3,394.3 L66.3,393.7 L67.3,394.1 L68.3,394.2 L69.3,394.3 L70.2,393.6 L71.2,393.3 L72.2,393.3 L73.2,393.5 L74.2,393.8 L75.2,393.8 L76.2,394.0 L77.2,393.8 L78.2,393.9 L79.2,394.0 L80.2,393.7 L81.2,394.3 L82.2,394.3 L83.2,394.4 L84.2,394.0 L85.2,393.7 L86.2,393.6 L87.2,393.7 L88.2,393.9 L89.2,393.9 L90.2,393.7 L91.2,393.4 L92.2,393.4 L93.2,393.9 L94.2,393.6 L95.2,393.7 L96.2,393.8 L97.2,393.3 L98.2,393.5 L99.2,393.9 L100.2,393.2 L101.2,393.3 L102.2,393.4 L103.1,393.2 L104.1,393.5 L105.1,393.5 L106.1,393.1 L107.1,393.5 L108.1,393.7 L109.1,393.9 L110.1,394.1 L111.1,394.0 L112.1,393.8 L113.1,393.2 L114.1,393.5 L115.1,393.3 L116.1,393.2 L117.1,392.9 L118.1,392.8 L119.1,392.9 L120.1,393.5 L121.1,392.8 L122.1,392.6 L123.1,393.0 L124.1,393.6 L125.1,393.6 L126.1,392.9 L127.1,392.3 L128.1,392.8 L129.1,392.8 L130.1,392.7 L131.1,393.2 L132.1,393.5 L133.1,393.4 L134.1,393.4 L135.0,393.4 L136.0,393.8 L137.0,393.7 L138.0,393.6 L139.0,393.5 L140.0,392.9 L141.0,393.4 L142.0,393.5 L143.0,393.5 L144.0,392.7 L145.0,392.7 L146.0,393.1 L147.0,392.5 L148.0,392.7 L149.0,393.1 L150.0,392.7 L151.0,393.3 L152.0,393.3 L153.0,393.1 L154.0,393.1 L155.0,393.2 L156.0,393.1 L157.0,393.3 L158.0,392.9 L159.0,392.7 L160.0,393.1 L161.0,392.9 L162.0,392.6 L163.0,392.9 L164.0,393.3 L165.0,392.9 L166.0,392.4 L167.0,392.4 L168.0,392.5 L169.0,392.4 L170.0,392.9 L171.0,392.4 L172.0,392.9 L173.0,392.3 L174.0,392.2 L175.0,392.5 L176.0,392.8 L177.0,392.9 L178.0,392.8 L179.0,392.7 L180.0,392.6 L181.0,392.6 L182.0,392.5 L183.0,392.5 L184.0,392.6 L185.0,392.4 L186.0,392.6 L187.0,392.6 L188.0,393.0 L189.0,392.8 L190.0,392.4 L191.0,392.2 L192.0,392.1 L193.0,392.4 L194.0,392.2 L195.0,392.2 L196.0,392.7 L197.0,391.6 L198.0,391.5 L199.0,391.8 L200.0,392.0 L201.0,392.0 L202.0,391.9 L203.0,392.1 L204.0,392.1 L205.0,391.8 L206.0,392.6 L207.0,392.3 L208.0,391.9 L209.0,391.8 L210.0,391.7 L211.0,391.7 L212.0,390.9 L213.0,391.1 L214.0,391.7 L215.0,391.3 L216.0,391.5 L217.0,391.8 L218.0,392.0 L219.0,392.3 L220.0,391.4 L221.0,391.4 L222.0,391.4 L223.0,391.6 L224.0,391.9 L225.0,390.9 L226.0,391.5 L227.0,391.0 L228.0,391.4 L229.0,391.0 L230.0,391.2 L231.0,391.6 L232.0,391.5 L233.0,391.4 L234.0,391.6 L235.0,391.5 L236.0,391.4 L237.0,391.8 L238.0,391.8 L239.0,391.5 L240.0,392.2 L241.0,391.4 L242.0,391.5 L243.0,391.3 L244.0,391.2 L245.0,391.4 L246.0,391.3 L247.0,391.4 L248.0,390.8 L249.0,390.4 L250.0,390.8 L251.0,390.4 L252.0,390.1 L253.0,389.7 L254.0,390.3 L255.0,390.3 L256.0,390.5 L257.0,389.8 L258.0,389.6 L259.0,389.0 L260.0,389.2 L260.9,389.5 L261.9,388.8 L262.9,389.1 L263.9,389.0 L264.9,388.5 L265.9,387.7 L266.9,388.1 L267.9,387.8 L268.9,387.4 L269.9,387.4 L270.9,387.3 L271.9,387.3 L272.9,386.3 L273.9,386.2 L274.9,386.1 L275.9,385.8 L276.9,384.9 L277.9,384.1 L278.9,384.0 L279.9,383.5 L280.9,383.0 L281.9,382.9 L282.9,382.1 L283.9,380.9 L284.9,380.8 L285.9,380.2 L286.8,380.6 L287.8,380.5 L288.8,380.1 L289.8,380.0 L290.8,380.0 L291.7,379.7 L292.7,379.8 L293.7,379.3 L294.7,379.5 L295.7,379.6 L296.6,379.7 L297.6,379.0 L298.6,379.1 L299.6,378.2 L300.6,378.0 L301.5,377.5 L302.5,378.1 L303.5,377.7 L304.6,377.3 L305.7,376.7 L306.8,376.1 L307.8,375.3 L308.9,374.8 L310.0,374.7 L311.0,374.0 L312.0,373.5 L312.9,373.2 L313.9,372.4 L314.9,371.4 L316.0,370.1 L317.0,369.2 L318.1,367.3 L319.2,367.8 L320.3,368.8 L321.4,369.6 L322.4,369.3 L323.3,369.2 L324.3,368.9 L325.3,367.3 L326.4,365.8 L327.4,364.8 L328.4,364.2 L329.4,362.9 L330.5,361.6 L331.5,360.4 L332.5,361.0 L333.6,362.2 L334.6,363.0 L335.6,364.3 L336.6,364.6 L337.7,366.0 L338.7,366.9 L339.7,366.7 L340.7,367.5 L341.8,367.7 L342.8,367.3 L343.8,367.6 L344.8,368.2 L345.9,368.4 L346.9,369.0 L347.9,369.4 L348.9,369.6 L349.9,369.8 L351.0,370.3 L352.0,370.4 L353.0,370.5 L354.0,369.6 L355.0,370.0 L356.0,370.2 L357.0,369.9 L358.0,369.6 L359.0,370.1 L360.0,369.2 L361.0,369.4 L362.0,370.0 L363.0,369.3 L364.0,369.4 L365.0,369.7 L366.0,369.0 L367.0,368.7 L368.0,368.5 L368.9,367.7 L369.9,367.3 L370.9,367.1 L371.9,367.0 L372.9,366.5 L373.9,366.1 L374.9,365.4 L375.8,365.1 L376.8,365.2 L377.8,364.8 L378.8,364.2 L379.8,363.8 L380.7,364.5 L381.7,364.4 L382.6,364.0 L383.6,362.8 L384.5,362.9 L385.5,362.9 L386.4,363.1 L387.4,362.7 L388.4,363.2 L389.3,364.0 L390.3,364.0 L391.2,365.2 L392.2,366.0 L393.1,366.4 L394.1,367.6 L395.0,368.7 L396.0,368.7 L397.0,368.5 L397.9,368.7 L398.9,368.7 L399.8,368.6 L400.8,368.4 L401.8,369.1 L402.7,369.3 L403.7,368.6 L404.6,368.3 L405.6,369.0 L406.5,369.1 L407.5,369.5 L408.5,369.4 L409.6,368.9 L410.6,369.0 L411.7,368.4 L412.7,368.5 L413.8,368.8 L414.8,369.2 L415.8,369.0 L416.9,369.1 L417.9,369.4 L419.0,369.6 L420.0,369.8 L421.0,369.8 L422.0,369.6 L423.1,369.9 L424.1,369.9 L425.1,369.6 L426.1,369.6 L427.1,369.8 L428.1,369.9 L429.2,370.0 L430.2,370.1 L431.2,370.2 L432.2,370.2 L433.2,369.9 L434.3,370.3 L435.3,370.7 L436.3,370.8 L437.3,370.4 L438.3,370.3 L439.3,369.7 L440.4,369.0 L441.4,369.1 L442.4,368.8 L443.4,369.0 L444.4,368.5 L445.4,367.8 L446.4,367.8 L447.5,368.7 L448.5,368.5 L449.5,368.1 L450.5,368.0 L451.5,368.3 L452.5,368.5 L453.6,368.5 L454.6,368.8 L455.6,368.7 L456.6,368.5 L457.6,368.5 L458.7,368.8 L459.7,368.7 L460.7,368.7 L461.7,368.0 L462.7,367.8 L463.8,368.0 L464.8,367.8 L465.8,368.0 L466.8,368.0 L467.8,368.0 L468.9,367.6 L469.9,368.3 L470.9,368.2 L471.9,367.6 L472.9,367.4 L473.9,368.0 L475.0,367.4 L476.0,367.5 L477.0,367.5 L478.0,367.2 L479.0,366.8 L480.0,367.0 L481.1,367.1 L482.1,367.5 L483.1,367.6 L484.1,367.4 L485.1,367.6 L486.1,367.6 L487.1,367.5 L488.1,367.5 L489.1,367.4 L490.2,367.6 L491.2,367.2 L492.2,367.2 L493.2,367.3 L494.2,367.0 L495.2,367.0 L496.1,366.6 L497.1,366.8 L498.1,367.2 L499.1,367.4 L500.1,367.4 L501.0,367.3 L502.0,366.9 L503.0,367.6 L504.0,367.6 L505.0,367.8 L505.9,367.3 L506.9,367.2 L507.9,366.6 L509.0,367.4 L510.1,368.0 L511.1,367.6 L512.2,368.0 L513.3,368.6 L514.4,368.3 L515.4,368.0 L516.5,368.2 L517.5,368.4 L518.5,368.3 L519.6,368.8 L520.6,369.1 L521.7,369.4 L522.7,369.7 L523.7,370.1 L524.8,370.2 L525.8,369.6 L526.8,369.4 L527.9,369.2 L528.9,369.1 L529.9,369.3 L531.0,369.4 L532.0,369.6 L533.1,369.2 L534.1,369.0 L535.1,369.3 L536.2,369.3 L537.2,369.4 L538.2,370.0 L539.2,370.4 L540.1,371.3 L541.1,372.0 L542.1,372.4 L543.1,372.3 L544.2,372.3 L545.2,371.6 L546.2,371.8 L547.3,372.2 L548.3,372.0 L549.4,372.4 L550.4,372.6 L551.4,372.3 L552.5,372.5 L553.5,372.6 L554.5,373.4 L555.4,374.0 L556.4,374.4 L557.3,374.6 L558.3,375.1 L559.3,375.3 L560.3,375.7 L561.4,375.8 L562.4,375.6 L563.4,375.4 L564.5,375.6 L565.5,375.7 L566.5,375.6 L567.5,375.9 L568.4,376.0 L569.4,376.2 L570.4,376.5 L571.3,376.4 L572.3,377.2 L573.2,376.9 L574.2,377.1 L575.2,377.0 L576.1,377.3 L577.1,376.4 L578.1,376.4 L579.0,376.8 L580.0,377.1 L581.0,377.8 L581.9,377.6 L582.9,377.8 L583.9,377.8 L584.9,377.8 L585.8,377.8 L586.8,377.5 L587.8,377.6 L588.8,377.2 L589.7,377.7 L590.7,377.4 L591.7,377.5 L592.7,378.2 L593.6,377.9 L594.6,377.9 L595.7,378.8 L596.8,379.3 L597.8,379.7 L598.9,380.5 L599.9,380.7 L600.9,380.9 L601.9,380.5 L602.9,381.1 L604.0,381.4 L605.0,381.1 L606.0,381.0 L607.0,380.8 L608.0,381.2 L609.0,380.8 L610.0,381.0 L611.0,380.8 L612.1,380.7 L613.1,381.0 L614.1,381.4 L615.1,381.2 L616.1,380.9 L617.1,381.2 L618.1,381.0 L619.2,381.1 L620.2,381.4 L621.2,381.5 L622.2,381.0 L623.2,381.6 L624.3,381.2 L625.3,381.2 L626.3,380.8 L627.3,380.7 L628.4,380.2 L629.4,380.9 L630.4,381.2 L631.4,380.5 L632.4,380.1 L633.5,379.8 L634.5,380.5 L635.5,380.3 L636.5,381.5 L637.5,382.5 L638.4,383.6 L639.4,384.4 L640.4,384.7 L641.4,384.4 L642.4,384.7 L643.4,385.0 L644.4,385.2 L645.4,385.2 L646.3,385.0 L647.3,385.2 L648.3,385.2 L649.3,385.8 L650.3,386.0 L651.3,385.8 L652.3,385.7 L653.3,385.6 L654.3,385.5 L655.3,385.7 L656.3,386.0 L657.4,386.3 L658.4,386.5 L659.4,387.2 L660.4,386.7 L661.4,386.7 L662.4,387.6 L663.4,386.7 L664.4,386.7 L665.5,386.9 L666.5,387.1 L667.5,387.3 L668.5,387.3 L669.5,387.5 L670.5,387.7 L671.5,388.2 L672.5,387.8 L673.5,387.9 L674.5,388.4 L675.5,388.5 L676.5,388.7 L677.5,389.4 L678.5,389.5 L679.5,390.0 L680.5,390.5 L681.5,390.7 L682.5,391.1 L683.5,391.2 L684.5,390.9 L685.5,391.1 L686.4,391.4 L687.4,391.3 L688.3,391.4 L689.3,391.7 L690.2,391.4 L691.2,391.7 L692.1,392.3 L693.1,391.9 L694.2,393.2 L695.2,394.4 L696.3,396.2 L697.4,397.5 L698.5,398.1 L699.5,398.2 L700.6,398.7 L701.7,399.2 L702.8,398.3 L703.9,398.6 L705.0,398.5 L706.0,397.5 L707.1,397.5 L708.2,397.1 L709.3,397.8 L710.3,398.3 L711.4,398.3 L712.5,399.0 L713.5,400.1 L714.6,400.3 L715.7,400.4 L716.8,400.6 L717.9,400.9 L718.9,401.8 L720.0,402.8 L721.1,403.2 L722.2,403.4 L723.2,404.3 L724.3,404.0 L725.4,404.0 L726.4,404.5 L727.5,404.8 L728.5,404.3 L729.5,404.0 L730.5,404.2 L731.5,404.2 L732.5,403.8 L733.5,403.8 L734.4,403.7 L735.4,403.9 L736.4,403.8 L737.4,403.7 L738.4,403.5 L739.4,403.8 L740.4,404.0 L741.4,403.6 L742.4,403.7 L743.4,403.2 L744.4,403.2 L745.4,403.3 L746.4,403.6 L747.3,403.2 L748.3,403.0 L749.3,402.9 L750.3,402.3 L751.3,402.4 L752.3,402.3 L753.3,402.4 L754.3,402.4 L755.2,402.2 L756.2,402.8 L757.1,403.3 L758.1,403.4 L759.0,404.0 L760.0,404.1 L760.9,404.2 L761.9,404.6 L762.9,404.4 L763.8,404.7 L764.8,405.2 L765.7,405.9 L766.7,406.1 L767.6,406.4 L768.6,406.5 L769.5,406.9 L770.5,407.7 L771.6,407.4 L772.6,408.2 L773.7,407.9 L774.8,407.9" fill="none" stroke="#ff00ff" stroke-width="1.8" stroke-linecap="butt" stroke-linejoin="round"/>
<path d="M54.3,394.3 L55.3,395.3 L56.3,395.2 L57.3,395.1 L58.3,394.9 L59.3,394.6 L60.3,394.6 L61.3,394.3 L62.3,393.8 L63.3,393.5 L64.3,393.2 L65.3,393.6 L66.3,393.9 L67.3,394.5 L68.3,394.4 L69.3,394.2 L70.2,394.3 L71.2,394.0 L72.2,393.1 L73.2,393.8 L74.2,393.5 L75.2,393.6 L76.2,393.5 L77.2,394.7 L78.2,394.6 L79.2,394.2 L80.2,393.4 L81.2,393.7 L82.2,393.2 L83.2,393.7 L84.2,392.9 L85.2,393.0 L86.2,393.5 L87.2,393.0 L88.2,393.1 L89.2,393.2 L90.2,393.5 L91.2,393.1 L92.2,393.3 L93.2,394.0 L94.2,392.9 L95.2,392.6 L96.2,392.9 L97.2,392.6 L98.2,392.1 L99.2,393.0 L100.2,393.3 L101.2,393.5 L102.2,393.6 L103.1,393.5 L104.1,392.7 L105.1,391.7 L106.1,392.3 L107.1,391.9 L108.1,392.2 L109.1,392.5 L110.1,391.9 L111.1,392.0 L112.1,392.9 L113.1,392.9 L114.1,392.0 L115.1,392.0 L116.1,392.1 L117.1,392.4 L118.1,392.6 L119.1,392.3 L120.1,392.1 L121.1,392.5 L122.1,391.7 L123.1,392.3 L124.1,392.3 L125.1,391.9 L126.1,391.6 L127.1,391.8 L128.1,391.2 L129.1,390.5 L130.1,391.2 L131.1,392.0 L132.1,391.8 L133.1,391.7 L134.1,391.7 L135.0,391.2 L136.0,391.5 L137.0,391.8 L138.0,391.7 L139.0,391.9 L140.0,391.2 L141.0,391.4 L142.0,391.0 L143.0,390.9 L144.0,391.2 L145.0,391.2 L146.0,391.6 L147.0,391.6 L148.0,390.9 L149.0,391.5 L150.0,390.6 L151.0,390.7 L152.0,390.9 L153.0,390.8 L154.0,391.0 L155.0,390.8 L156.0,390.3 L157.0,390.7 L158.0,390.6 L159.0,390.1 L160.0,390.2 L161.0,390.3 L162.0,390.4 L163.0,390.0 L164.0,390.1 L165.0,390.0 L166.0,390.7 L167.0,390.2 L168.0,390.5 L169.0,390.2 L170.0,390.4 L171.0,391.0 L172.0,390.2 L173.0,390.0 L174.0,389.4 L175.0,389.1 L176.0,389.0 L177.0,389.2 L178.0,389.6 L179.0,389.8 L180.0,389.3 L181.0,389.2 L182.0,388.5 L183.0,389.0 L184.0,388.8 L185.0,388.4 L186.0,388.3 L187.0,388.7 L188.0,388.7 L189.0,388.9 L190.0,388.6 L191.0,388.6 L192.0,388.4 L193.0,387.8 L194.0,387.9 L195.0,388.0 L196.0,387.8 L197.0,388.3 L198.0,389.0 L199.0,389.1 L200.0,388.6 L201.0,387.8 L202.0,387.8 L203.0,387.6 L204.0,387.8 L205.0,388.3 L206.0,388.0 L207.1,387.3 L208.1,388.0 L209.1,387.9 L210.1,388.3 L211.1,387.7 L212.1,388.6 L213.1,387.7 L214.1,387.7 L215.1,387.9 L216.1,386.7 L217.1,386.7 L218.1,386.4 L219.1,387.5 L220.2,387.7 L221.2,387.1 L222.2,386.5 L223.2,386.1 L224.2,386.7 L225.2,386.6 L226.2,387.0 L227.2,386.8 L228.2,386.2 L229.2,387.3 L230.2,387.4 L231.2,386.9 L232.3,386.8 L233.3,387.4 L234.3,387.5 L235.3,386.7 L236.3,387.4 L237.3,386.9 L238.3,387.1 L239.3,386.4 L240.3,386.3 L241.3,386.8 L242.3,386.2 L243.3,386.4 L244.3,386.7 L245.4,386.3 L246.4,387.0 L247.4,387.0 L248.4,386.7 L249.4,387.0 L250.4,387.3 L251.4,387.4 L252.4,386.7 L253.3,386.6 L254.3,386.2 L255.3,385.3 L256.2,385.1 L257.2,385.8 L258.1,384.9 L259.1,384.9 L260.1,385.3 L261.0,384.5 L262.0,384.2 L263.0,383.2 L264.0,382.9 L265.0,381.8 L266.0,381.5 L267.0,380.6 L268.0,380.3 L269.0,379.1 L270.0,378.4 L271.0,378.5 L272.0,378.2 L273.0,375.6 L274.0,375.5 L275.0,373.9 L276.0,373.2 L277.1,373.2 L278.1,372.5 L279.1,371.9 L280.2,370.8 L281.2,371.0 L282.3,371.5 L283.3,370.2 L284.3,370.3 L285.2,370.0 L286.2,369.6 L287.2,368.4 L288.2,368.5 L289.2,368.7 L290.1,369.5 L291.1,368.8 L292.1,368.7 L293.1,368.6 L294.1,369.2 L295.0,368.6 L296.0,368.8 L297.0,368.5 L297.9,368.0 L298.8,367.9 L299.8,367.0 L300.7,366.7 L301.6,365.7 L302.6,366.3 L303.5,366.9 L304.5,367.2 L305.4,368.1 L306.4,369.0 L307.3,369.2 L308.3,369.5 L309.3,369.5 L310.2,369.2 L311.2,369.3 L312.2,369.6 L313.2,369.8 L314.3,370.2 L315.4,369.9 L316.4,369.7 L317.5,368.9 L318.6,368.9 L319.7,369.3 L320.6,369.3 L321.6,369.6 L322.5,371.1 L323.5,371.4 L324.4,371.3 L325.4,371.1 L326.3,371.7 L327.2,372.8 L328.2,372.4 L329.1,372.4 L330.1,372.3 L331.1,371.7 L332.0,371.7 L333.0,371.4 L333.9,371.1 L334.9,371.3 L335.8,370.7 L336.8,370.2 L337.7,370.0 L338.7,370.5 L339.7,370.2 L340.6,370.9 L341.6,370.0 L342.5,369.7 L343.5,368.8 L344.4,369.0 L345.4,369.5 L346.3,370.0 L347.3,369.6 L348.2,369.3 L349.2,369.9 L350.1,369.4 L351.1,369.2 L352.0,369.3 L353.0,368.4 L353.9,368.6 L354.9,368.0 L355.9,367.9 L356.9,367.7 L357.9,368.0 L358.9,368.6 L360.0,368.6 L361.0,367.8 L362.0,368.1 L363.0,368.4 L364.0,368.9 L365.0,369.4 L366.0,368.5 L367.0,369.3 L368.0,368.6 L369.0,369.0 L370.0,368.4 L371.0,368.0 L372.0,367.7 L373.0,367.4 L374.0,367.5 L375.0,367.7 L376.0,367.9 L377.0,368.0 L378.0,366.7 L379.0,366.6 L380.0,366.4 L381.1,365.8 L382.1,365.6 L383.2,365.1 L384.2,364.3 L385.3,363.8 L386.3,364.1 L387.4,363.7 L388.4,363.8 L389.3,362.8 L390.3,362.1 L391.3,361.7 L392.2,361.3 L393.2,361.2 L394.1,360.6 L395.1,360.6 L396.0,360.4 L397.0,359.7 L397.9,359.5 L398.9,359.2 L399.8,359.3 L400.8,359.3 L401.8,358.9 L402.7,358.1 L403.7,357.9 L404.6,357.5 L405.6,356.4 L406.5,356.0 L407.5,354.9 L408.5,354.1 L409.4,353.1 L410.4,352.0 L411.3,352.9 L412.3,352.8 L413.2,353.3 L414.2,353.8 L415.2,354.6 L416.1,354.8 L417.2,354.3 L418.2,353.0 L419.3,351.9 L420.4,350.9 L421.5,349.9 L422.5,348.8 L423.6,347.4 L424.7,346.4 L425.6,345.4 L426.6,345.1 L427.5,343.6 L428.4,342.9 L429.4,341.5 L430.3,341.0 L431.3,339.9 L432.4,338.6 L433.4,338.1 L434.4,337.6 L435.4,337.6 L436.4,337.3 L437.5,336.7 L438.5,336.0 L439.5,335.6 L440.5,335.3 L441.5,335.4 L442.6,335.0 L443.6,335.0 L444.6,334.9 L445.6,334.9 L446.6,334.8 L447.6,334.6 L448.6,336.0 L449.7,335.7 L450.7,335.1 L451.7,334.9 L452.7,335.1 L453.7,333.9 L454.8,331.4 L455.8,328.7 L456.8,327.2 L457.8,325.5 L458.8,325.5 L459.9,325.8 L460.9,324.6 L461.9,324.0 L462.9,323.3 L463.9,321.3 L464.9,321.3 L465.9,320.7 L467.0,319.2 L468.0,319.6 L469.0,319.1 L470.0,319.2 L471.0,319.3 L472.1,318.8 L473.1,317.8 L474.1,317.9 L475.1,317.8 L476.1,317.4 L477.1,317.3 L478.1,317.5 L479.2,318.2 L480.2,317.9 L481.2,317.7 L482.2,318.1 L483.2,318.2 L484.3,318.0 L485.3,317.7 L486.3,317.4 L487.3,318.1 L488.3,318.2 L489.4,318.8 L490.4,318.3 L491.4,318.2 L492.4,318.2 L493.4,318.4 L494.4,317.7 L495.5,317.1 L496.5,317.0 L497.5,316.0 L498.5,316.2 L499.5,315.1 L500.6,314.1 L501.6,314.0 L502.6,313.4 L503.6,313.7 L504.6,313.2 L505.6,312.5 L506.6,310.8 L507.7,310.3 L508.7,309.4 L509.7,308.2 L510.7,309.1 L511.7,307.9 L512.8,307.5 L513.8,307.2 L514.8,306.9 L515.8,307.0 L516.8,307.0 L517.8,306.2 L518.8,306.3 L519.8,306.3 L520.9,306.0 L521.9,306.2 L522.9,305.4 L523.9,304.9 L524.9,304.3 L526.0,303.6 L527.0,303.5 L528.0,303.8 L529.0,303.6 L530.0,303.1 L531.1,302.7 L532.1,302.8 L533.1,302.9 L534.1,301.6 L535.2,301.0 L536.2,301.5 L537.2,301.7 L538.2,301.6 L539.2,300.8 L540.2,299.0 L541.2,297.6 L542.3,297.0 L543.3,295.5 L544.3,294.8 L545.3,295.5 L546.3,294.2 L547.3,294.3 L548.4,294.7 L549.4,294.6 L550.4,293.8 L551.4,292.7 L552.4,292.3 L553.5,291.3 L554.5,291.0 L555.5,290.4 L556.5,289.9 L557.5,289.8 L558.6,289.2 L559.6,288.3 L560.6,287.8 L561.6,288.1 L562.6,288.4 L563.7,288.7 L564.7,289.5 L565.7,289.6 L566.7,290.4 L567.7,290.1 L568.7,289.9 L569.7,289.4 L570.8,288.2 L571.8,288.9 L572.8,288.0 L573.8,287.1 L574.8,286.9 L575.8,286.9 L576.8,285.9 L577.8,285.6 L578.8,285.8 L579.9,285.8 L580.9,285.5 L581.9,285.3 L582.9,285.5 L583.9,285.2 L584.9,285.5 L586.0,285.5 L587.0,285.1 L588.0,285.8 L589.0,286.0 L590.0,284.8 L591.1,284.7 L592.1,285.2 L593.1,284.4 L594.1,283.2 L595.1,282.8 L596.2,282.5 L597.2,282.1 L598.2,282.2 L599.2,282.1 L600.3,281.9 L601.3,280.6 L602.3,280.4 L603.3,280.9 L604.3,280.4 L605.3,279.8 L606.2,279.7 L607.2,280.6 L608.2,279.5 L609.2,279.2 L610.2,278.9 L611.2,278.5 L612.2,278.5 L613.2,278.2 L614.2,277.7 L615.2,277.7 L616.3,277.5 L617.3,277.3 L618.3,277.5 L619.3,277.5 L620.3,277.5 L621.3,277.6 L622.3,276.9 L623.4,277.1 L624.4,277.0 L625.4,276.6 L626.4,276.9 L627.5,276.9 L628.5,276.8 L629.5,277.1 L630.5,276.5 L631.5,276.7 L632.6,276.4 L633.6,276.4 L634.6,276.4 L635.6,275.9 L636.7,275.2 L637.7,274.4 L638.7,272.8 L639.7,272.9 L640.7,273.5 L641.7,273.7 L642.7,273.4 L643.8,273.1 L644.8,272.5 L645.8,272.5 L646.8,271.8 L647.8,271.9 L648.8,271.4 L649.8,271.2 L650.8,270.9 L651.9,271.3 L652.9,271.2 L653.9,271.4 L654.9,271.5 L655.9,271.4 L657.0,270.9 L658.0,270.9 L659.0,270.3 L660.0,270.3 L661.0,270.8 L662.1,270.8 L663.1,270.9 L664.1,271.0 L665.1,271.9 L666.1,270.8 L667.2,270.5 L668.2,271.4 L669.2,270.8 L670.2,270.2 L671.2,270.2 L672.2,268.5 L673.3,267.8 L674.3,267.5 L675.3,267.2 L676.3,266.6 L677.3,266.7 L678.3,266.3 L679.4,266.4 L680.4,266.0 L681.4,266.1 L682.4,266.2 L683.4,266.3 L684.4,265.8 L685.4,265.3 L686.5,265.4 L687.5,265.7 L688.5,265.6 L689.5,265.0 L690.5,264.3 L691.5,263.5 L692.6,262.5 L693.6,262.8 L694.6,260.0 L695.7,257.5 L696.7,255.1 L697.7,252.3 L698.7,252.8 L699.7,253.2 L700.7,253.5 L701.7,253.9 L702.7,251.4 L703.8,250.7 L704.8,249.6 L705.8,248.1 L706.8,251.0 L707.8,253.6 L708.8,252.2 L709.9,251.0 L710.9,249.6 L711.9,248.1 L713.0,246.5 L714.0,245.6 L715.0,244.4 L716.0,239.0 L717.0,235.2 L718.0,237.6 L719.0,239.4 L720.0,238.1 L721.1,237.0 L722.1,236.4 L723.1,235.2 L724.1,234.8 L725.2,233.6 L726.2,232.7 L727.2,232.6 L728.2,232.1 L729.2,232.1 L730.2,232.2 L731.3,232.2 L732.3,232.1 L733.3,232.1 L734.3,232.7 L735.3,232.4 L736.3,232.9 L737.3,232.6 L738.4,232.9 L739.4,233.0 L740.4,232.7 L741.4,232.4 L742.4,233.4 L743.4,232.5 L744.5,232.9 L745.5,233.2 L746.5,233.9 L747.5,234.1 L748.5,234.4 L749.5,233.7 L750.5,233.1 L751.6,232.7 L752.6,232.9 L753.6,233.1 L754.7,233.4 L755.7,232.6 L756.7,233.1 L757.7,232.3 L758.7,231.3 L759.8,229.9 L760.8,229.7 L761.8,229.4 L762.8,228.5 L763.8,227.7 L764.8,227.1 L765.8,228.1 L766.8,227.4 L767.8,227.7 L768.8,227.2 L769.9,226.6 L770.9,226.4 L771.9,226.3 L772.9,226.4 L774.0,225.8 L775.0,226.1 L776.0,226.4" fill="none" stroke="#ffa500" stroke-width="1.8" stroke-linecap="butt" stroke-linejoin="round"/>
<path d="M54.3,393.9 L55.3,394.1 L56.3,394.5 L57.3,394.8 L58.3,394.8 L59.3,394.5 L60.3,394.4 L61.3,394.2 L62.2,393.7 L63.2,393.7 L64.2,394.2 L65.2,394.2 L66.2,394.0 L67.2,393.7 L68.2,393.8 L69.2,393.7 L70.2,393.8 L71.2,394.0 L72.2,393.3 L73.2,393.5 L74.2,393.2 L75.2,393.2 L76.2,393.1 L77.2,393.8 L78.1,394.0 L79.1,394.1 L80.1,393.7 L81.1,393.3 L82.1,393.4 L83.1,393.6 L84.1,393.6 L85.1,393.9 L86.1,393.7 L87.1,394.2 L88.1,394.2 L89.1,394.5 L90.1,394.2 L91.1,393.9 L92.1,393.5 L93.0,393.8 L94.0,394.0 L95.0,393.8 L96.0,393.8 L97.0,393.6 L98.0,393.4 L99.0,393.4 L100.0,392.9 L101.0,392.8 L102.0,393.1 L103.0,393.2 L104.0,393.5 L105.0,393.6 L106.0,393.5 L107.0,393.3 L108.0,392.5 L109.0,392.7 L110.0,392.6 L111.0,392.9 L112.0,392.8 L113.0,392.7 L114.0,392.5 L115.0,392.5 L116.0,392.0 L117.0,391.8 L118.0,392.5 L119.0,392.6 L120.0,392.4 L121.0,392.3 L122.0,392.2 L123.0,393.2 L124.0,392.9 L125.0,392.6 L126.0,392.2 L127.0,391.4 L128.0,391.7 L129.0,392.3 L130.0,392.4 L131.0,392.2 L132.0,391.9 L133.0,391.5 L134.0,391.6 L135.0,391.5 L136.0,391.2 L137.0,391.9 L138.0,391.4 L139.0,391.3 L140.0,390.6 L141.0,391.5 L142.0,391.4 L143.0,391.3 L144.0,391.4 L145.0,391.0 L146.0,390.9 L147.0,391.1 L148.0,390.8 L149.0,391.0 L150.0,391.3 L151.0,391.3 L152.0,391.5 L153.0,391.4 L154.0,391.5 L155.0,391.1 L156.0,390.9 L157.0,390.3 L158.0,390.2 L159.0,389.9 L160.0,389.9 L161.0,389.6 L162.0,389.8 L163.0,390.5 L164.0,389.9 L165.0,389.9 L166.0,389.9 L167.0,389.4 L168.0,389.3 L169.0,389.1 L170.0,389.2 L171.0,388.9 L172.0,389.7 L173.0,389.6 L174.0,389.5 L175.0,389.8 L176.0,389.6 L177.0,389.1 L178.0,388.9 L179.0,388.4 L180.0,388.1 L181.0,387.9 L182.0,386.8 L183.0,386.2 L184.0,386.1 L185.0,386.1 L186.0,385.7 L187.0,385.4 L188.0,385.5 L189.0,385.3 L190.0,384.8 L191.0,384.3 L192.0,383.5 L193.0,384.0 L194.0,384.2 L195.0,384.1 L196.0,384.5 L197.0,384.5 L198.0,384.6 L199.0,384.3 L200.0,384.9 L201.0,384.7 L202.0,384.9 L203.0,385.0 L204.0,384.8 L205.0,384.9 L206.0,384.8 L207.0,384.8 L208.0,384.9 L209.0,384.8 L210.0,385.1 L211.0,385.0 L212.0,384.7 L213.0,384.9 L214.0,384.8 L215.0,385.0 L216.0,384.3 L217.0,384.7 L218.0,384.1 L219.0,384.4 L220.0,385.6 L221.0,385.5 L222.0,385.6 L223.0,385.1 L224.0,384.7 L225.0,384.8 L226.0,385.0 L227.0,384.9 L228.0,384.7 L229.0,384.6 L230.0,384.6 L231.0,385.2 L232.0,385.1 L233.0,384.9 L234.0,384.9 L235.0,384.6 L236.0,384.4 L237.0,384.7 L238.0,385.2 L239.0,385.2 L240.0,384.7 L241.0,385.3 L242.0,385.2 L243.0,385.7 L244.0,385.3 L245.0,384.8 L246.0,384.9 L247.0,384.9 L248.0,384.6 L249.0,384.5 L250.0,384.6 L251.0,384.4 L252.0,384.7 L253.0,384.7 L254.0,384.4 L255.0,384.3 L256.0,384.5 L257.0,384.4 L258.0,383.9 L259.0,383.9 L260.0,384.4 L261.0,384.1 L262.0,383.6 L263.0,384.0 L264.0,384.4 L265.0,383.9 L266.0,382.8 L267.0,382.5 L268.0,383.2 L269.0,381.8 L270.0,380.8 L271.0,379.6 L272.0,378.2 L273.0,380.1 L274.0,381.4 L275.0,382.9 L276.0,384.4 L277.0,384.5 L278.0,385.3 L279.0,384.8 L280.0,384.6 L281.0,385.3 L282.0,385.1 L283.0,385.4 L284.0,385.4 L285.0,386.1 L286.0,386.2 L287.0,386.6 L288.0,386.5 L289.0,386.7 L290.0,386.3 L291.0,386.8 L292.0,387.0 L293.0,386.9 L294.0,386.9 L295.0,386.7 L296.0,386.7 L297.0,387.2 L298.0,386.7 L299.0,386.5 L300.0,386.7 L301.0,386.6 L302.0,386.3 L303.0,386.8 L304.0,387.1 L305.0,386.6 L306.0,387.0 L307.0,386.2 L308.0,386.6 L309.0,385.8 L310.0,386.0 L311.0,386.0 L312.0,386.0 L313.0,386.2 L314.0,385.9 L315.0,385.8 L316.0,385.7 L317.0,386.4 L318.0,386.2 L319.0,386.3 L320.0,386.3 L321.0,386.6 L322.0,386.2 L323.0,386.0 L324.0,386.0 L325.0,386.3 L326.0,385.9 L327.0,386.0 L328.0,386.0 L329.0,386.0 L330.0,385.8 L331.0,385.9 L332.0,385.3 L333.0,384.8 L334.0,384.4 L335.0,384.1 L336.0,383.7 L337.0,383.8 L338.0,383.8 L339.0,383.0 L340.0,383.1 L341.0,382.9 L342.0,382.7 L343.0,382.7 L344.0,383.0 L345.0,382.9 L346.0,382.0 L347.0,382.2 L348.0,381.9 L349.0,382.4 L350.0,382.0 L351.0,381.8 L352.0,381.6 L353.0,381.0 L354.0,380.7 L355.0,380.5 L356.0,380.9 L357.0,380.3 L358.0,380.0 L359.0,379.6 L360.0,379.2 L361.0,378.7 L362.0,378.6 L363.0,376.9 L364.0,376.5 L365.0,376.0 L366.0,376.0 L367.0,372.1 L368.0,368.8 L369.0,365.4 L370.0,362.8 L371.0,360.6 L372.0,358.0 L373.0,358.1 L373.9,357.9 L374.9,357.9 L375.9,357.7 L376.9,357.0 L377.8,357.2 L378.8,356.8 L379.8,356.5 L380.7,355.9 L381.7,355.6 L382.7,354.6 L383.6,354.5 L384.6,353.6 L385.6,352.8 L386.5,352.1 L387.5,350.8 L388.4,350.2 L389.4,349.4 L390.3,348.9 L391.3,348.7 L392.2,348.2 L393.2,348.0 L394.1,347.8 L395.1,348.0 L396.0,348.0 L397.0,348.2 L397.9,348.5 L398.9,348.1 L399.9,348.2 L400.8,348.5 L401.8,348.9 L402.7,348.4 L403.7,348.7 L404.6,349.2 L405.6,349.7 L406.5,349.8 L407.5,349.8 L408.4,350.1 L409.4,348.5 L410.4,348.7 L411.3,348.0 L412.2,347.5 L413.2,347.1 L414.2,347.4 L415.1,347.2 L416.1,347.0 L417.1,347.5 L418.0,348.0 L419.0,348.0 L420.0,351.6 L421.0,350.5 L422.0,350.3 L423.0,350.0 L424.1,349.8 L425.1,348.9 L426.1,348.7 L427.1,348.2 L428.1,347.0 L429.1,347.3 L430.2,347.2 L431.2,347.5 L432.2,348.0 L433.2,348.1 L434.2,348.8 L435.3,348.9 L436.3,348.6 L437.3,349.1 L438.3,349.8 L439.3,350.2 L440.4,351.0 L441.4,351.8 L442.4,352.6 L443.4,353.1 L444.4,353.6 L445.4,352.9 L446.5,352.8 L447.5,352.5 L448.5,352.3 L449.6,352.1 L450.6,351.5 L451.7,351.2 L452.7,350.7 L453.7,350.2 L454.8,349.6 L455.8,349.4 L456.9,349.7 L458.0,349.0 L459.1,349.3 L460.1,349.5 L461.2,349.5 L462.3,349.1 L463.3,349.1 L464.3,349.5 L465.2,349.8 L466.2,350.2 L467.2,349.9 L468.2,349.7 L469.2,350.2 L470.1,350.0 L471.1,350.1 L472.1,350.5 L473.1,350.7 L474.1,350.5 L475.1,350.8 L476.1,350.8 L477.1,351.2 L478.1,351.2 L479.1,350.9 L480.1,351.6 L481.1,351.5 L482.1,351.6 L483.1,351.4 L484.1,351.6 L485.1,351.6 L486.1,351.8 L487.1,351.9 L488.2,352.1 L489.2,352.1 L490.2,351.7 L491.2,351.4 L492.2,351.2 L493.2,351.6 L494.3,351.3 L495.3,351.8 L496.3,351.7 L497.3,351.5 L498.3,351.5 L499.4,351.9 L500.4,351.7 L501.4,351.4 L502.4,351.1 L503.4,350.8 L504.5,351.0 L505.5,351.7 L506.5,351.9 L507.5,351.7 L508.5,351.1 L509.6,351.9 L510.6,352.1 L511.6,351.6 L512.6,351.9 L513.6,351.8 L514.6,352.4 L515.7,352.7 L516.7,352.5 L517.7,352.0 L518.7,352.3 L519.7,353.4 L520.7,353.5 L521.7,353.2 L522.7,353.6 L523.7,353.4 L524.7,354.0 L525.7,353.4 L526.7,353.5 L527.7,354.2 L528.7,354.5 L529.7,354.6 L530.7,354.1 L531.7,354.1 L532.8,354.2 L533.8,353.9 L534.8,353.8 L535.8,354.0 L536.9,353.7 L537.9,353.7 L538.9,353.5 L539.9,353.0 L541.0,352.6 L542.0,352.6 L543.0,352.5 L544.0,353.1 L545.0,353.1 L546.1,352.6 L547.1,353.3 L548.1,354.0 L549.1,353.5 L550.1,353.6 L551.2,353.4 L552.2,353.6 L553.2,353.5 L554.2,353.6 L555.2,353.5 L556.3,353.3 L557.3,353.2 L558.3,353.1 L559.3,353.0 L560.3,353.0 L561.3,353.9 L562.3,353.8 L563.3,354.1 L564.3,353.2 L565.3,353.0 L566.3,353.3 L567.3,353.5 L568.3,353.4 L569.3,353.0 L570.3,352.5 L571.3,352.7 L572.3,352.2 L573.3,352.5 L574.3,352.4 L575.3,352.2 L576.3,352.1 L577.3,351.6 L578.2,351.4 L579.2,351.8 L580.2,351.6 L581.2,351.4 L582.1,351.7 L583.1,351.7 L584.1,351.6 L585.1,350.9 L586.0,351.3 L587.0,351.3 L588.0,350.7 L589.0,350.5 L590.0,350.8 L590.9,351.0 L591.9,350.5 L592.9,350.0 L593.9,350.4 L594.8,350.0 L595.8,350.2 L596.8,349.9 L597.8,349.8 L598.8,349.6 L599.7,350.0 L600.7,349.6 L601.7,349.5 L602.7,349.3 L603.6,349.9 L604.6,349.6 L605.6,349.0 L606.6,349.0 L607.5,348.5 L608.5,348.6 L609.5,348.4 L610.5,348.9 L611.5,349.3 L612.4,349.7 L613.4,349.1 L614.4,348.6 L615.4,347.9 L616.3,348.2 L617.3,348.0 L618.3,348.5 L619.3,349.0 L620.3,348.2 L621.3,348.2 L622.4,348.7 L623.4,348.0 L624.4,347.7 L625.4,348.1 L626.4,348.2 L627.4,347.5 L628.5,347.9 L629.5,347.8 L630.5,347.8 L631.5,347.9 L632.5,348.4 L633.5,348.4 L634.6,347.8 L635.6,348.2 L636.6,348.2 L637.6,348.1 L638.7,346.6 L639.8,345.3 L640.8,345.4 L641.8,345.8 L642.7,345.8 L643.7,345.7 L644.7,345.6 L645.7,345.6 L646.6,345.3 L647.6,345.3 L648.6,344.7 L649.6,344.9 L650.5,345.3 L651.5,345.3 L652.5,345.6 L653.5,345.8 L654.5,345.4 L655.4,344.8 L656.4,344.9 L657.4,344.5 L658.4,344.9 L659.3,344.8 L660.3,345.0 L661.3,344.8 L662.3,344.5 L663.3,345.0 L664.3,344.6 L665.2,344.5 L666.2,344.4 L667.2,344.1 L668.2,343.9 L669.2,343.4 L670.2,343.5 L671.1,343.7 L672.1,343.3 L673.1,342.8 L674.1,342.8 L675.1,343.1 L676.1,343.3 L677.0,343.2 L678.0,342.8 L679.0,342.8 L680.0,342.7 L681.0,342.9 L681.9,342.9 L682.9,342.4 L683.9,342.5 L684.8,342.5 L685.8,342.8 L686.8,343.2 L687.7,342.3 L688.7,342.1 L689.7,342.0 L690.6,341.9 L691.6,342.0 L692.6,341.6 L693.6,340.6 L694.6,339.4 L695.6,338.5 L696.6,338.1 L697.6,337.5 L698.7,337.2 L699.7,337.0 L700.7,336.9 L701.7,336.1 L702.7,335.9 L703.7,335.8 L704.8,335.6 L705.8,335.2 L706.8,334.8 L707.8,334.2 L708.8,333.7 L709.8,333.4 L710.9,333.0 L711.9,333.0 L712.9,331.9 L714.0,330.8 L715.0,329.7 L716.0,328.8 L717.0,327.9 L718.0,328.0 L719.1,326.9 L720.1,326.3 L721.1,325.8 L722.1,326.0 L723.1,326.3 L724.1,325.8 L725.1,326.1 L726.2,326.0 L727.2,326.8 L728.2,326.2 L729.2,326.6 L730.2,327.0 L731.2,326.9 L732.2,327.0 L733.2,326.9 L734.3,327.0 L735.3,327.2 L736.3,327.0 L737.3,327.2 L738.3,327.0 L739.4,327.1 L740.4,326.5 L741.4,327.0 L742.4,327.0 L743.4,327.2 L744.5,327.7 L745.5,327.3 L746.5,327.1 L747.5,326.6 L748.5,327.5 L749.6,327.9 L750.6,328.7 L751.6,328.3 L752.6,328.2 L753.6,328.0 L754.7,327.9 L755.7,327.8 L756.7,327.5 L757.7,327.2 L758.7,327.2 L759.7,327.1 L760.7,328.0 L761.7,327.9 L762.8,328.1 L763.8,328.3 L764.8,328.4 L765.8,329.1 L766.8,329.3 L767.8,329.6 L768.7,329.1 L769.7,329.0 L770.6,328.6 L771.6,329.4 L772.5,329.4 L773.5,329.8 L774.4,330.3 L775.4,329.8" fill="none" stroke="#0000ff" stroke-width="1.8" stroke-linecap="butt" stroke-linejoin="round"/>
<path d="M54.3,394.4 L54.8,394.4 L55.3,394.5 L55.8,394.5 L56.3,394.7 L56.8,394.5 L57.3,394.6 L57.8,394.7 L58.4,394.7 L58.9,394.8 L59.4,394.9 L59.9,395.3 L60.4,395.3 L60.9,395.2 L61.4,395.3 L61.9,395.2 L62.4,395.2 L62.9,395.3 L63.4,395.3 L63.9,395.3 L64.4,395.3 L64.9,395.3 L65.4,395.6 L65.9,395.8 L66.5,396.1 L67.0,395.9 L67.5,395.8 L68.0,395.8 L68.5,395.9 L69.0,395.9 L69.5,396.1 L70.0,396.0 L70.5,395.9 L71.0,396.1 L71.5,396.0 L72.0,396.2 L72.5,396.1 L73.0,396.1 L73.5,395.9 L74.0,395.9 L74.5,396.0 L75.0,396.1 L75.5,396.1 L76.0,396.1 L76.5,395.9 L77.0,396.0 L77.5,396.0 L78.0,395.9 L78.5,396.1 L79.0,396.1 L79.5,396.0 L80.0,396.0 L80.5,396.1 L81.0,396.1 L81.5,396.1 L82.0,396.1 L82.5,396.3 L83.0,396.4 L83.5,396.5 L84.0,396.3 L84.5,396.2 L85.0,396.3 L85.5,396.3 L86.0,396.4 L86.5,396.4 L87.0,396.4 L87.5,396.3 L88.0,396.3 L88.5,396.2 L89.0,396.1 L89.5,396.2 L90.0,396.1 L90.5,396.2 L91.0,396.4 L91.5,396.6 L92.0,396.5 L92.5,396.4 L93.0,396.5 L93.5,396.6 L94.0,396.6 L94.5,396.4 L95.0,396.3 L95.5,396.5 L96.0,396.3 L96.5,396.4 L97.0,396.6 L97.5,396.7 L98.0,396.5 L98.5,396.5 L99.0,396.4 L99.5,396.3 L100.0,396.4 L100.5,396.4 L101.0,396.5 L101.5,396.4 L102.0,396.4 L102.5,396.4 L103.0,396.5 L103.5,396.2 L104.0,396.5 L104.5,396.5 L105.0,396.6 L105.5,396.7 L106.0,396.7 L106.5,396.7 L107.0,396.7 L107.5,396.8 L108.0,396.8 L108.5,396.9 L109.0,396.8 L109.5,396.6 L110.0,396.7 L110.5,396.5 L111.0,396.6 L111.5,396.6 L112.0,396.4 L112.5,396.5 L113.0,396.5 L113.5,396.4 L114.0,396.4 L114.5,396.6 L115.0,396.7 L115.5,396.6 L116.0,396.6 L116.5,396.6 L117.0,396.5 L117.5,396.7 L118.0,396.6 L118.5,396.8 L119.0,396.5 L119.5,396.4 L120.0,396.6 L120.5,396.6 L121.0,396.4 L121.5,396.8 L122.0,396.8 L122.5,396.8 L123.0,396.4 L123.5,396.6 L124.0,396.6 L124.5,396.6 L125.0,396.5 L125.5,396.3 L126.0,396.3 L126.5,396.4 L127.0,396.6 L127.5,396.6 L128.0,396.6 L128.5,396.6 L129.0,396.6 L129.5,396.8 L130.0,396.6 L130.5,396.3 L131.0,396.4 L131.5,396.4 L132.0,396.2 L132.5,396.1 L133.0,396.3 L133.5,396.2 L134.0,396.2 L134.5,396.2 L135.0,396.4 L135.5,396.3 L136.0,396.2 L136.5,396.0 L137.0,396.0 L137.5,396.2 L138.0,396.1 L138.5,396.2 L139.0,396.3 L139.5,396.3 L140.0,396.2 L140.5,396.2 L141.0,396.3 L141.5,396.2 L142.0,396.0 L142.5,396.0 L143.0,396.2 L143.5,396.0 L144.0,396.0 L144.5,396.0 L145.0,396.1 L145.5,396.0 L146.0,396.1 L146.5,395.9 L147.0,396.0 L147.5,395.8 L148.0,395.9 L148.5,395.8 L149.0,395.7 L149.5,395.8 L150.0,395.7 L150.5,395.9 L151.0,395.6 L151.5,395.9 L152.0,395.8 L152.5,396.0 L153.0,396.0 L153.5,395.9 L154.0,395.8 L154.5,395.7 L155.0,395.8 L155.5,395.8 L156.0,395.6 L156.5,395.6 L157.0,395.7 L157.5,395.7 L158.0,395.7 L158.5,395.8 L159.0,395.4 L159.5,395.5 L160.0,395.8 L160.5,395.8 L161.0,395.7 L161.5,395.5 L162.0,395.5 L162.5,395.8 L163.0,395.7 L163.5,395.7 L164.0,395.7 L164.5,395.8 L165.0,395.6 L165.5,395.4 L166.0,395.5 L166.5,395.6 L167.0,395.3 L167.5,395.5 L168.0,395.6 L168.5,395.6 L169.0,395.6 L169.5,395.4 L170.0,395.5 L170.5,395.4 L171.0,395.7 L171.5,395.7 L172.0,395.8 L172.5,395.6 L173.0,395.5 L173.5,395.6 L174.0,395.7 L174.5,395.8 L175.0,395.7 L175.5,395.7 L176.0,395.8 L176.5,395.7 L177.0,395.7 L177.5,395.9 L178.0,396.0 L178.5,395.9 L179.0,395.7 L179.5,395.7 L180.0,395.4 L180.5,395.7 L181.0,395.9 L181.5,395.9 L182.0,395.8 L182.5,395.7 L183.0,395.7 L183.5,395.8 L184.0,395.9 L184.5,396.1 L185.0,396.2 L185.5,396.1 L186.0,396.2 L186.5,395.7 L187.0,395.7 L187.5,395.8 L188.0,395.7 L188.5,395.8 L189.0,395.9 L189.5,396.0 L190.0,396.0 L190.5,396.0 L191.0,395.9 L191.5,396.0 L192.0,396.1 L192.5,396.0 L193.0,396.0 L193.5,396.0 L194.0,396.0 L194.5,395.9 L195.0,395.8 L195.5,395.8 L196.0,396.0 L196.5,396.0 L197.0,396.1 L197.5,396.1 L198.0,395.9 L198.5,396.0 L199.0,395.7 L199.5,396.0 L200.0,396.2 L200.5,396.0 L201.0,396.0 L201.5,395.8 L202.0,395.9 L202.5,396.0 L203.0,396.1 L203.5,396.2 L204.0,396.2 L204.5,396.4 L205.0,396.5 L205.5,396.4 L206.0,396.4 L206.5,396.3 L207.0,396.1 L207.5,396.1 L208.0,396.5 L208.5,396.4 L209.0,396.3 L209.5,396.4 L210.0,396.5 L210.5,396.6 L211.0,396.8 L211.5,396.7 L212.0,396.6 L212.5,396.6 L213.0,396.5 L213.5,396.5 L214.0,396.6 L214.5,396.7 L215.0,396.9 L215.5,396.9 L216.0,396.9 L216.5,397.0 L217.0,396.8 L217.5,397.1 L218.0,397.1 L218.5,397.3 L219.0,397.2 L219.5,397.0 L220.0,397.3 L220.5,397.2 L221.0,397.0 L221.5,396.8 L222.0,396.7 L222.5,397.0 L223.0,397.2 L223.5,397.2 L224.0,397.4 L224.5,397.4 L225.0,397.5 L225.5,397.3 L226.0,397.2 L226.5,397.2 L227.0,397.4 L227.5,397.4 L228.0,397.5 L228.5,397.5 L229.0,397.5 L229.5,397.6 L230.0,397.3 L230.5,397.5 L231.0,397.7 L231.5,397.8 L232.0,397.8 L232.5,397.7 L233.0,397.6 L233.5,397.8 L234.0,397.7 L234.5,397.9 L235.0,397.9 L235.5,397.8 L236.0,397.9 L236.5,398.1 L237.0,398.1 L237.5,397.8 L238.0,397.9 L238.5,398.0 L239.0,398.0 L239.5,398.1 L240.0,398.2 L240.5,398.1 L241.0,398.1 L241.5,398.3 L242.0,398.3 L242.5,398.3 L243.0,398.4 L243.5,398.5 L244.0,398.5 L244.5,398.5 L245.0,398.3 L245.5,398.2 L246.0,398.2 L246.5,398.3 L247.0,398.3 L247.5,398.2 L248.0,398.3 L248.5,398.3 L249.0,398.3 L249.5,398.4 L250.0,398.4 L250.5,398.5 L251.0,398.7 L251.5,398.7 L252.0,398.6 L252.5,398.7 L253.0,398.7 L253.5,398.7 L254.0,398.7 L254.5,398.7 L255.0,399.0 L255.5,399.1 L256.0,399.2 L256.5,399.2 L257.0,399.2 L257.5,398.9 L258.0,399.0 L258.5,399.2 L259.0,399.0 L259.5,398.9 L260.0,399.2 L260.5,399.3 L261.0,399.4 L261.5,399.2 L262.0,399.3 L262.5,399.3 L263.0,399.4 L263.5,399.2 L264.0,399.3 L264.5,399.0 L265.0,399.1 L265.5,399.2 L266.0,399.3 L266.5,399.3 L267.0,399.3 L267.5,399.4 L268.0,399.4 L268.5,399.2 L269.0,399.4 L269.5,399.5 L270.0,399.4 L270.5,399.2 L271.0,399.4 L271.5,399.4 L272.0,399.1 L272.5,399.2 L273.0,399.1 L273.5,399.5 L274.0,399.3 L274.5,399.1 L275.0,399.2 L275.5,399.3 L276.0,399.0 L276.5,399.0 L277.0,399.0 L277.5,399.1 L278.0,399.1 L278.5,399.0 L279.0,399.0 L279.5,399.0 L280.0,398.8 L280.5,398.7 L281.0,398.9 L281.5,399.0 L282.0,399.2 L282.5,399.1 L283.0,399.0 L283.5,398.8 L284.0,399.0 L284.5,398.7 L285.0,398.6 L285.5,398.7 L286.0,398.6 L286.5,399.0 L287.0,398.8 L287.5,398.5 L288.0,398.5 L288.5,398.7 L289.0,398.5 L289.5,398.7 L290.0,398.8 L290.5,398.4 L291.0,398.5 L291.5,398.5 L292.0,398.5 L292.5,398.5 L293.0,398.5 L293.5,398.3 L294.0,398.4 L294.5,398.2 L295.0,398.4 L295.5,398.4 L296.0,398.4 L296.5,398.2 L297.0,398.2 L297.5,398.0 L298.0,397.9 L298.5,398.0 L299.0,397.7 L299.5,398.0 L300.0,398.0 L300.5,397.7 L301.0,397.8 L301.5,397.9 L302.0,398.0 L302.5,397.8 L303.0,397.8 L303.5,397.5 L304.0,397.6 L304.5,397.7 L305.0,397.6 L305.5,397.6 L306.0,397.5 L306.5,397.5 L307.0,397.3 L307.5,397.1 L308.0,397.1 L308.5,397.4 L309.0,397.5 L309.5,397.4 L310.0,397.0 L310.5,397.1 L311.0,397.0 L311.5,397.4 L312.0,397.3 L312.5,397.0 L313.0,396.9 L313.5,396.8 L314.0,396.8 L314.5,396.7 L315.0,396.7 L315.5,396.7 L316.0,396.9 L316.5,396.7 L317.0,396.7 L317.5,396.7 L318.0,396.4 L318.5,396.4 L319.0,396.5 L319.5,396.3 L320.0,396.3 L320.5,396.4 L321.0,396.4 L321.5,396.4 L322.0,396.6 L322.5,396.6 L323.0,396.7 L323.5,396.7 L324.0,396.6 L324.5,396.6 L325.0,396.5 L325.5,396.6 L326.0,396.8 L326.5,396.6 L327.0,396.7 L327.5,396.7 L328.0,396.6 L328.5,396.6 L329.0,396.5 L329.5,396.6 L330.0,396.5 L330.5,396.3 L331.0,396.4 L331.5,396.2 L332.0,396.3 L332.5,396.3 L333.0,396.4 L333.5,396.5 L334.0,396.4 L334.5,396.3 L335.0,396.2 L335.5,395.9 L336.0,396.0 L336.5,395.9 L337.0,396.1 L337.5,396.1 L338.0,396.3 L338.5,396.3 L339.0,396.1 L339.5,396.0 L340.0,396.0 L340.5,396.2 L341.0,396.3 L341.5,396.2 L342.0,396.1 L342.5,396.1 L343.0,396.0 L343.5,396.2 L344.0,396.2 L344.5,396.1 L345.0,396.1 L345.5,396.2 L346.0,396.5 L346.5,396.1 L347.0,396.0 L347.5,396.2 L348.0,396.2 L348.5,396.2 L349.0,396.3 L349.5,396.1 L350.0,396.1 L350.5,396.1 L351.0,396.0 L351.5,396.2 L352.0,396.0 L352.5,395.8 L353.0,395.9 L353.5,395.6 L354.0,395.6 L354.5,395.4 L355.0,395.6 L355.5,395.6 L356.0,395.4 L356.5,395.7 L356.9,395.6 L357.4,395.6 L357.9,395.7 L358.4,395.6 L358.9,395.6 L359.4,395.4 L359.9,395.2 L360.4,395.1 L360.9,395.2 L361.4,395.0 L361.9,395.1 L362.4,395.0 L362.9,394.7 L363.4,394.6 L363.8,394.7 L364.3,394.7 L364.8,394.5 L365.3,394.6 L365.8,394.4 L366.3,394.5 L366.8,394.3 L367.3,394.1 L367.8,394.4 L368.3,394.8 L368.8,395.1 L369.4,395.1 L369.9,395.2 L370.4,395.2 L370.9,395.3 L371.4,395.6 L371.9,395.7 L372.4,396.1 L373.0,396.1 L373.5,396.2 L374.0,396.7 L374.5,396.9 L375.0,395.8 L375.5,395.1 L375.9,394.2 L376.4,393.5 L376.9,391.9 L377.4,390.3 L377.9,391.4 L378.4,390.1 L378.9,391.0 L379.5,391.1 L380.0,390.9 L380.5,390.5 L381.0,389.5 L381.5,389.3 L382.0,391.0 L382.5,390.3 L383.1,388.5 L383.6,389.1 L384.1,388.1 L384.6,389.4 L385.1,388.1 L385.6,389.4 L386.1,387.4 L386.6,387.2 L387.1,385.5 L387.6,386.7 L388.1,386.2 L388.6,387.8 L389.2,388.5 L389.7,388.0 L390.2,387.8 L390.7,386.9 L391.2,386.6 L391.7,386.6 L392.2,387.0 L392.7,388.4 L393.2,388.5 L393.7,387.9 L394.2,388.1 L394.7,387.9 L395.2,387.3 L395.7,386.7 L396.2,385.1 L396.7,387.1 L397.2,386.2 L397.7,387.5 L398.2,387.6 L398.7,388.0 L399.2,386.7 L399.7,385.2 L400.2,385.5 L400.7,385.2 L401.2,385.5 L401.7,385.1 L402.2,385.2 L402.7,385.6 L403.2,386.4 L403.7,386.3 L404.2,389.7 L404.7,388.0 L405.2,388.3 L405.7,388.0 L406.2,387.3 L406.7,387.0 L407.2,387.8 L407.7,386.3 L408.2,386.6 L408.7,386.5 L409.2,387.1 L409.7,386.3 L410.2,386.2 L410.7,388.1 L411.2,387.5 L411.7,387.2 L412.2,386.0 L412.7,386.7 L413.2,386.2 L413.7,387.7 L414.2,386.3 L414.7,386.4 L415.2,386.3 L415.7,386.5 L416.2,386.1 L416.7,385.2 L417.2,385.7 L417.7,387.0 L418.2,387.3 L418.7,388.6 L419.2,387.1 L419.7,386.1 L420.2,389.1 L420.7,389.5 L421.2,389.1 L421.7,388.8 L422.2,386.3 L422.7,385.7 L423.2,385.1 L423.7,386.1 L424.2,388.4 L424.7,387.4 L425.1,386.0 L425.6,386.2 L426.1,387.9 L426.5,388.4 L427.0,387.3 L427.4,385.5 L427.9,384.0 L428.4,383.3 L428.9,382.7 L429.3,381.6 L429.8,382.3 L430.3,382.4 L430.8,380.6 L431.3,381.4 L431.8,380.5 L432.3,381.2 L432.8,379.7 L433.3,378.9 L433.8,379.0 L434.3,379.7 L434.8,377.5 L435.3,377.1 L435.8,377.9 L436.3,377.6 L436.8,378.5 L437.3,379.7 L437.8,379.7 L438.3,378.0 L438.8,377.9 L439.3,377.3 L439.8,376.6 L440.4,376.7 L440.9,376.7 L441.4,376.5 L441.9,376.5 L442.4,376.4 L442.9,376.5 L443.4,376.5 L443.9,376.3 L444.4,376.2 L444.9,376.0 L445.4,376.2 L445.9,376.0 L446.4,375.9 L447.0,375.8 L447.5,375.6 L448.0,375.3 L448.5,375.4 L449.0,375.3 L449.5,374.9 L450.0,374.9 L450.6,374.8 L451.1,374.7 L451.6,374.5 L452.1,374.3 L452.6,374.5 L453.1,374.4 L453.6,374.2 L454.1,374.2 L454.6,374.1 L455.1,374.0 L455.6,373.8 L456.1,373.5 L456.6,373.2 L457.2,373.4 L457.7,373.2 L458.2,373.3 L458.7,373.3 L459.2,373.2 L459.7,373.2 L460.2,372.9 L460.7,372.9 L461.2,373.0 L461.7,372.8 L462.2,372.8 L462.7,372.5 L463.2,372.5 L463.7,372.4 L464.2,372.4 L464.8,372.4 L465.3,372.5 L465.8,372.1 L466.3,372.0 L466.8,372.0 L467.3,371.9 L467.8,371.9 L468.3,371.9 L468.8,371.8 L469.3,372.0 L469.8,371.7 L470.3,371.7 L470.8,371.7 L471.3,371.6 L471.8,371.7 L472.3,371.6 L472.8,371.5 L473.2,371.4 L473.7,371.5 L474.2,371.6 L474.7,371.6 L475.2,371.5 L475.7,371.3 L476.2,371.3 L476.7,371.4 L477.2,371.3 L477.7,371.3 L478.2,371.1 L478.7,371.0 L479.2,371.4 L479.7,371.1 L480.2,371.1 L480.7,371.0 L481.1,371.2 L481.6,371.1 L482.1,371.0 L482.6,371.1 L483.1,371.0 L483.6,370.9 L484.1,370.9 L484.6,370.9 L485.1,370.7 L485.6,370.9 L486.1,370.8 L486.6,370.8 L487.1,370.7 L487.6,370.7 L488.1,370.7 L488.6,370.6 L489.1,370.6 L489.5,370.7 L490.0,370.6 L490.5,370.6 L491.0,370.5 L491.5,370.6 L492.0,370.4 L492.5,370.3 L493.0,370.3 L493.5,370.3 L494.0,370.3 L494.5,370.3 L495.0,370.4 L495.5,370.4 L496.0,370.4 L496.5,370.3 L497.0,370.3 L497.4,370.4 L497.9,370.2 L498.4,370.3 L498.9,370.1 L499.4,370.2 L499.9,370.2 L500.4,370.3 L500.9,370.1 L501.4,370.1 L501.9,370.1 L502.4,370.1 L502.9,370.1 L503.4,370.0 L503.9,370.1 L504.4,369.9 L504.9,369.7 L505.4,369.8 L505.8,369.6 L506.3,369.7 L506.8,370.0 L507.3,369.9 L507.8,369.9 L508.3,369.7 L508.8,369.6 L509.3,369.8 L509.8,369.8 L510.3,369.7 L510.8,369.7 L511.3,369.5 L511.8,369.5 L512.3,369.5 L512.8,369.7 L513.3,369.5 L513.7,369.5 L514.2,369.4 L514.7,369.7 L515.2,369.8 L515.7,369.6 L516.2,369.7 L516.7,369.6 L517.2,369.5 L517.7,369.8 L518.2,369.7 L518.7,369.7 L519.2,369.5 L519.7,369.4 L520.2,369.6 L520.7,369.6 L521.2,369.6 L521.8,369.5 L522.3,369.5 L522.8,369.6 L523.3,369.5 L523.8,369.4 L524.3,369.3 L524.8,369.3 L525.3,369.4 L525.8,369.4 L526.3,369.2 L526.8,369.4 L527.3,369.6 L527.8,369.7 L528.3,369.5 L528.8,369.5 L529.3,369.5 L529.9,369.6 L530.4,369.6 L530.9,369.3 L531.4,369.4 L531.9,369.4 L532.4,369.4 L532.9,369.3 L533.4,369.4 L533.9,369.4 L534.4,369.3 L534.9,369.1 L535.4,369.2 L535.9,369.1 L536.4,369.0 L536.9,368.9 L537.4,368.9 L537.9,368.6 L538.4,368.8 L538.9,368.8 L539.4,368.7 L539.9,368.5 L540.4,368.5 L540.9,368.5 L541.4,368.3 L541.9,368.2 L542.4,368.2 L542.9,368.3 L543.3,368.3 L543.8,368.3 L544.3,368.1 L544.8,368.0 L545.3,367.8 L545.8,367.8 L546.3,367.7 L546.8,367.7 L547.3,367.6 L547.8,367.3 L548.2,367.1 L548.7,367.1 L549.2,367.2 L549.7,367.1 L550.2,367.2 L550.7,367.0 L551.2,366.9 L551.7,366.8 L552.2,366.9 L552.7,366.7 L553.2,366.7 L553.7,366.6 L554.2,366.6 L554.6,366.7 L555.1,366.6 L555.6,366.4 L556.1,366.3 L556.6,366.2 L557.1,366.3 L557.6,366.3 L558.1,366.3 L558.6,366.1 L559.1,365.9 L559.6,365.7 L560.1,365.7 L560.6,365.6 L561.1,365.6 L561.6,365.6 L562.1,365.6 L562.5,365.3 L563.0,365.2 L563.5,365.2 L564.0,365.0 L564.5,364.9 L565.0,365.1 L565.5,365.0 L566.0,365.1 L566.5,364.8 L567.0,364.8 L567.5,364.7 L568.0,364.5 L568.5,364.3 L569.0,364.4 L569.5,364.6 L570.0,364.6 L570.5,364.7 L571.0,364.5 L571.5,364.6 L572.0,364.5 L572.5,364.3 L573.0,364.3 L573.5,364.2 L574.0,364.2 L574.5,364.4 L575.0,364.2 L575.5,364.3 L576.0,364.3 L576.5,364.2 L577.0,364.3 L577.5,364.0 L578.0,363.9 L578.5,364.1 L579.0,364.2 L579.5,364.1 L580.0,363.9 L580.5,363.9 L581.0,364.0 L581.5,363.9 L582.0,363.9 L582.5,364.0 L583.0,364.0 L583.5,364.1 L584.0,363.9 L584.5,363.8 L585.0,364.0 L585.5,364.1 L586.0,364.0 L586.5,363.8 L587.0,363.8 L587.5,363.7 L588.0,363.9 L588.5,363.7 L589.0,363.8 L589.5,363.8 L590.0,363.8 L590.5,363.9 L591.0,363.8 L591.5,363.7 L592.0,363.9 L592.5,363.7 L593.0,363.8 L593.5,363.9 L594.0,363.8 L594.5,363.7 L595.0,363.9 L595.5,364.0 L596.0,363.9 L596.5,364.0 L597.0,364.0 L597.5,364.0 L598.0,363.9 L598.5,363.7 L599.0,364.0 L599.5,364.0 L600.0,363.7 L600.5,363.9 L601.0,364.1 L601.5,363.9 L602.0,363.9 L602.5,363.6 L603.0,363.7 L603.6,363.8 L604.1,363.6 L604.6,363.4 L605.1,363.4 L605.6,363.3 L606.1,363.4 L606.6,363.6 L607.1,363.6 L607.6,363.7 L608.1,363.6 L608.6,363.5 L609.2,363.3 L609.7,363.4 L610.2,363.2 L610.7,363.2 L611.2,363.2 L611.7,363.2 L612.2,363.3 L612.7,363.2 L613.2,363.3 L613.7,363.2 L614.2,363.0 L614.7,363.0 L615.2,362.9 L615.8,363.1 L616.3,362.8 L616.8,362.9 L617.3,363.0 L617.8,362.9 L618.3,362.8 L618.8,362.9 L619.3,362.9 L619.8,362.7 L620.3,362.6 L620.8,362.3 L621.4,362.5 L621.9,362.4 L622.4,362.3 L622.9,362.0 L623.4,361.9 L623.9,361.7 L624.4,361.7 L624.9,362.0 L625.4,362.1 L625.9,362.0 L626.4,362.1 L626.9,362.2 L627.5,362.4 L628.0,362.4 L628.5,362.3 L629.0,362.3 L629.5,362.3 L630.0,362.4 L630.5,362.5 L631.0,362.4 L631.5,362.6 L632.0,362.3 L632.5,362.5 L633.0,362.5 L633.5,362.4 L634.1,362.3 L634.6,362.5 L635.1,362.3 L635.6,362.5 L636.1,362.6 L636.6,362.7 L637.1,362.5 L637.6,362.4 L638.1,362.1 L638.6,362.1 L639.1,361.9 L639.6,361.8 L640.1,362.0 L640.5,361.9 L641.0,361.7 L641.5,361.6 L642.0,361.5 L642.5,361.3 L643.0,361.4 L643.5,361.3 L644.0,361.3 L644.5,361.5 L645.0,361.4 L645.5,361.2 L646.0,361.1 L646.5,360.9 L647.0,361.1 L647.4,360.9 L647.9,360.5 L648.4,360.4 L648.9,360.3 L649.4,360.1 L649.9,360.1 L650.4,360.1 L650.9,360.2 L651.4,360.0 L651.9,359.9 L652.4,359.7 L652.9,359.8 L653.4,359.8 L653.9,359.6 L654.4,359.8 L655.0,359.8 L655.5,359.6 L656.0,359.6 L656.5,359.5 L657.0,359.6 L657.5,359.6 L658.0,359.7 L658.5,359.6 L659.0,359.6 L659.5,359.3 L660.0,359.3 L660.5,359.4 L661.0,359.3 L661.5,359.3 L662.0,359.2 L662.5,359.2 L663.0,359.2 L663.6,359.3 L664.1,359.1 L664.6,359.1 L665.1,359.3 L665.6,359.3 L666.1,359.4 L666.6,359.3 L667.1,359.3 L667.6,359.1 L668.1,359.1 L668.6,359.0 L669.1,359.0 L669.6,359.0 L670.1,358.9 L670.6,359.0 L671.0,359.1 L671.5,359.1 L672.0,358.8 L672.5,358.8 L673.0,358.7 L673.5,358.7 L674.0,358.8 L674.5,358.8 L675.0,358.9 L675.5,358.8 L676.0,358.7 L676.5,358.6 L677.0,358.6 L677.5,358.6 L677.9,358.8 L678.4,358.7 L678.9,358.6 L679.4,358.7 L679.9,358.7 L680.4,358.5 L680.9,358.5 L681.4,358.4 L681.9,358.4 L682.4,358.5 L682.9,358.9 L683.4,359.0 L684.0,358.9 L684.5,359.0 L685.0,358.6 L685.5,358.7 L686.0,358.6 L686.5,358.8 L687.0,358.8 L687.5,358.8 L688.0,358.8 L688.5,358.9 L689.0,358.9 L689.6,358.9 L690.1,359.1 L690.6,359.0 L691.1,359.6 L691.6,359.3 L692.1,358.1 L692.6,358.1 L693.1,357.7 L693.6,357.0 L694.1,357.5 L694.6,357.7 L695.1,357.5 L695.6,358.4 L696.1,357.3 L696.7,357.3 L697.2,356.5 L697.7,356.5 L698.2,356.8 L698.7,357.2 L699.2,357.2 L699.7,357.5 L700.2,357.2 L700.7,357.7 L701.2,357.1 L701.7,357.9 L702.2,357.2 L702.7,357.3 L703.2,356.9 L703.8,356.0 L704.3,355.6 L704.8,356.0 L705.3,355.3 L705.8,354.3 L706.3,353.9 L706.8,353.9 L707.3,355.2 L707.9,355.0 L708.4,354.1 L708.9,353.5 L709.4,355.6 L709.9,354.4 L710.4,354.4 L710.9,353.9 L711.4,353.5 L711.9,353.1 L712.4,353.3 L712.9,353.0 L713.4,352.9 L714.0,353.8 L714.5,353.5 L715.0,353.1 L715.5,352.9 L716.0,353.2 L716.5,353.6 L717.0,354.2 L717.5,352.4 L718.0,351.5 L718.5,351.6 L719.0,349.9 L719.5,349.1 L720.0,349.3 L720.6,348.1 L721.1,348.9 L721.6,349.0 L722.1,348.2 L722.6,347.8 L723.1,347.8 L723.6,348.1 L724.1,348.2 L724.6,347.4 L725.1,347.9 L725.6,348.1 L726.1,348.2 L726.6,348.1 L727.2,348.1 L727.7,348.0 L728.2,347.9 L728.7,348.0 L729.2,348.1 L729.7,347.9 L730.2,347.7 L730.7,347.8 L731.2,347.6 L731.7,347.9 L732.2,347.8 L732.7,347.6 L733.2,347.4 L733.7,347.7 L734.2,347.6 L734.8,347.5 L735.3,347.6 L735.8,347.7 L736.3,347.6 L736.8,347.4 L737.3,347.4 L737.8,347.3 L738.3,347.2 L738.8,347.3 L739.3,347.3 L739.9,347.1 L740.4,347.0 L740.9,347.1 L741.4,347.1 L741.9,347.1 L742.4,347.0 L742.9,347.0 L743.4,347.1 L743.9,347.0 L744.4,346.8 L745.0,346.9 L745.5,346.6 L746.0,346.6 L746.5,346.5 L747.0,346.3 L747.5,346.2 L748.0,346.2 L748.5,346.2 L749.0,345.9 L749.5,345.9 L750.0,345.9 L750.6,346.1 L751.1,346.0 L751.6,345.9 L752.1,345.8 L752.6,345.9 L753.1,345.7 L753.6,345.7 L754.1,345.6 L754.6,345.5 L755.1,345.5 L755.7,345.5 L756.2,345.4 L756.7,345.3 L757.2,345.2 L757.7,345.3 L758.2,345.2 L758.7,345.0 L759.2,344.8 L759.7,344.8 L760.2,345.0 L760.8,344.8 L761.3,344.9 L761.8,344.9 L762.3,345.0 L762.8,344.9 L763.3,344.7 L763.8,344.6 L764.3,344.7 L764.8,344.7 L765.3,344.6 L765.8,344.5 L766.3,344.8 L766.8,344.5 L767.3,344.7 L767.8,344.6 L768.3,344.5 L768.8,344.3 L769.4,344.5 L769.9,344.0 L770.4,344.2 L770.9,344.1 L771.4,343.9 L771.9,343.9 L772.4,344.0 L772.9,343.8 L773.4,343.8 L773.9,343.9 L774.4,343.9 L774.9,343.7 L775.4,343.7" fill="none" stroke="#00ff00" stroke-width="2.8" stroke-dasharray="3 3.5" stroke-linecap="butt" stroke-linejoin="round"/>
<path d="M54.3,394.0 L54.8,394.1 L55.3,394.2 L55.8,394.1 L56.3,393.8 L56.8,393.8 L57.3,393.9 L57.8,394.0 L58.3,393.7 L58.8,393.5 L59.3,393.7 L59.9,393.7 L60.4,393.9 L60.9,393.9 L61.4,393.7 L61.9,393.5 L62.4,393.9 L62.9,393.6 L63.4,393.3 L63.9,393.1 L64.4,393.2 L64.9,393.2 L65.4,393.1 L65.9,393.1 L66.4,393.1 L66.9,393.2 L67.4,393.2 L67.9,393.1 L68.4,392.7 L68.9,392.9 L69.4,392.6 L70.0,392.6 L70.5,392.4 L71.0,392.5 L71.5,392.4 L72.0,392.5 L72.5,393.0 L73.0,392.7 L73.5,392.7 L74.0,392.3 L74.5,392.3 L75.0,392.4 L75.5,392.3 L76.0,392.3 L76.5,392.3 L77.0,392.1 L77.5,392.3 L78.0,392.1 L78.5,392.4 L79.0,392.3 L79.5,392.3 L80.0,392.3 L80.5,392.4 L81.0,392.2 L81.5,392.3 L82.0,392.2 L82.5,392.4 L83.0,392.4 L83.5,392.3 L84.0,392.1 L84.5,392.2 L85.0,392.2 L85.5,392.4 L86.0,392.2 L86.5,392.2 L87.0,392.2 L87.5,392.2 L88.0,392.1 L88.5,392.1 L89.0,392.0 L89.5,391.8 L90.0,391.8 L90.5,392.0 L91.0,392.2 L91.5,392.2 L92.0,392.3 L92.5,392.2 L93.0,392.2 L93.5,392.1 L94.0,392.1 L94.5,392.3 L95.0,392.1 L95.5,391.9 L96.0,392.2 L96.5,392.1 L97.0,392.1 L97.5,392.1 L98.0,391.8 L98.5,392.2 L99.0,392.3 L99.5,392.1 L100.0,392.1 L100.5,391.9 L101.0,391.6 L101.5,391.6 L102.0,391.6 L102.5,391.7 L103.0,391.6 L103.5,391.5 L104.0,391.5 L104.5,391.2 L105.0,391.3 L105.5,391.3 L106.0,391.1 L106.5,390.7 L107.0,390.6 L107.5,390.7 L108.0,390.8 L108.5,390.9 L109.0,390.6 L109.5,390.5 L110.0,390.6 L110.5,390.4 L111.0,390.0 L111.5,390.2 L112.0,390.5 L112.5,390.5 L113.0,390.2 L113.5,390.1 L114.0,390.2 L114.5,390.5 L115.0,390.5 L115.5,390.3 L116.0,390.5 L116.5,390.3 L117.0,390.5 L117.5,390.2 L118.0,390.1 L118.5,390.2 L119.0,390.4 L119.5,390.3 L120.0,390.3 L120.5,389.9 L121.0,389.9 L121.5,389.9 L122.0,389.9 L122.5,390.0 L123.0,390.0 L123.5,390.1 L124.0,390.1 L124.5,390.0 L125.0,390.0 L125.5,390.1 L126.0,390.2 L126.5,390.0 L127.0,390.0 L127.5,389.8 L128.0,390.1 L128.5,390.3 L129.0,390.1 L129.5,390.0 L130.0,389.8 L130.5,389.9 L131.0,389.9 L131.5,390.3 L132.0,390.2 L132.5,389.9 L133.0,389.6 L133.5,389.9 L134.0,389.9 L134.5,389.7 L135.0,389.8 L135.5,389.6 L136.0,390.2 L136.5,390.2 L137.0,390.2 L137.5,390.0 L138.0,389.6 L138.5,389.7 L139.0,389.5 L139.5,389.8 L140.0,389.5 L140.5,389.5 L141.0,389.8 L141.5,390.1 L142.0,389.8 L142.5,389.5 L143.0,389.8 L143.5,389.9 L144.0,389.7 L144.5,389.6 L145.0,389.6 L145.5,389.5 L146.0,389.5 L146.5,389.8 L147.0,389.9 L147.5,390.1 L148.0,389.9 L148.5,389.8 L149.0,389.6 L149.5,389.6 L150.0,389.5 L150.5,389.3 L151.0,389.5 L151.5,389.8 L152.0,389.8 L152.5,389.9 L153.0,389.7 L153.5,389.5 L154.0,389.5 L154.5,389.4 L155.0,389.2 L155.5,389.0 L156.0,388.9 L156.5,389.0 L157.0,389.1 L157.5,389.1 L158.0,389.3 L158.5,389.3 L159.0,389.3 L159.5,389.3 L160.0,389.1 L160.5,388.7 L161.0,388.9 L161.5,388.8 L162.0,389.0 L162.5,389.0 L163.0,389.1 L163.5,389.1 L164.0,388.6 L164.5,388.8 L165.0,388.6 L165.5,388.5 L166.0,388.5 L166.5,388.7 L167.0,388.7 L167.5,388.8 L168.0,388.4 L168.5,388.3 L169.0,388.0 L169.5,388.2 L170.0,388.3 L170.5,388.2 L171.0,388.3 L171.5,388.3 L172.0,388.4 L172.5,388.2 L173.0,388.1 L173.5,388.0 L174.0,388.3 L174.5,388.4 L175.0,388.2 L175.5,388.1 L176.0,388.1 L176.5,388.0 L177.0,387.9 L177.5,387.9 L178.0,387.7 L178.5,387.6 L179.0,387.9 L179.5,387.9 L180.0,387.8 L180.5,387.7 L181.0,387.7 L181.5,387.7 L182.0,387.6 L182.5,387.6 L183.0,387.6 L183.5,387.4 L184.0,387.3 L184.5,387.2 L185.0,387.1 L185.5,387.4 L186.0,387.0 L186.5,387.1 L187.0,387.1 L187.5,387.0 L188.0,387.1 L188.5,387.3 L189.0,387.2 L189.5,387.1 L190.0,387.0 L190.5,387.0 L191.0,387.1 L191.5,387.0 L192.0,386.8 L192.5,386.6 L193.0,386.6 L193.5,386.5 L194.0,386.8 L194.5,386.8 L195.0,386.7 L195.5,386.9 L196.0,386.7 L196.5,386.8 L197.0,386.9 L197.5,386.6 L198.0,386.4 L198.5,386.5 L199.0,386.7 L199.5,387.0 L200.0,386.7 L200.5,386.9 L201.0,386.8 L201.5,386.8 L202.0,386.7 L202.5,386.8 L203.0,386.6 L203.5,386.6 L204.0,386.5 L204.5,386.8 L205.0,387.2 L205.5,387.5 L206.0,387.2 L206.5,386.9 L207.0,386.9 L207.5,386.8 L208.0,387.2 L208.5,387.2 L209.0,387.0 L209.5,387.2 L210.0,387.2 L210.5,386.9 L211.0,386.9 L211.5,387.0 L212.0,387.1 L212.5,387.1 L213.0,387.1 L213.5,387.2 L214.0,387.1 L214.5,387.0 L215.0,387.3 L215.5,387.3 L216.0,387.4 L216.5,387.1 L217.0,387.1 L217.5,387.3 L218.0,387.1 L218.5,387.4 L219.0,387.3 L219.5,387.4 L220.0,387.3 L220.5,387.4 L221.0,387.6 L221.5,387.4 L222.0,387.6 L222.5,387.4 L223.0,387.3 L223.5,387.5 L224.0,387.3 L224.5,387.3 L225.0,387.5 L225.5,387.7 L226.0,387.3 L226.5,387.5 L227.0,387.8 L227.5,387.8 L228.0,387.7 L228.5,387.5 L229.0,387.5 L229.5,387.4 L230.0,387.4 L230.5,387.5 L231.0,387.5 L231.5,387.7 L232.0,387.7 L232.5,387.4 L233.0,387.7 L233.5,387.5 L234.0,387.5 L234.5,387.6 L235.0,387.6 L235.5,387.5 L236.0,387.6 L236.5,388.0 L237.0,387.8 L237.5,387.8 L238.0,387.9 L238.5,388.0 L239.0,388.0 L239.5,388.1 L240.0,387.7 L240.5,387.6 L241.0,387.8 L241.5,387.9 L242.0,388.1 L242.5,388.1 L243.0,388.0 L243.5,388.0 L244.0,388.1 L244.5,388.2 L245.0,388.4 L245.5,388.3 L246.0,388.3 L246.5,388.3 L247.0,388.6 L247.5,388.9 L248.0,389.0 L248.5,389.1 L249.0,389.2 L249.5,389.2 L250.0,389.3 L250.5,389.1 L251.0,389.2 L251.5,389.2 L252.0,389.5 L252.5,389.5 L253.0,389.6 L253.5,389.7 L254.0,390.0 L254.5,389.9 L255.0,389.8 L255.5,390.1 L256.0,390.0 L256.5,390.2 L257.0,390.2 L257.5,390.3 L258.0,390.2 L258.5,390.5 L259.0,390.5 L259.5,390.5 L260.0,391.0 L260.5,391.1 L261.0,391.6 L261.5,391.6 L262.0,391.5 L262.5,391.5 L263.0,391.9 L263.5,391.9 L264.0,392.0 L264.5,392.2 L265.0,392.1 L265.5,392.3 L266.0,392.3 L266.5,392.3 L267.0,392.7 L267.5,393.0 L268.0,393.1 L268.5,393.7 L269.0,394.3 L269.5,395.4 L270.0,396.3 L270.5,396.9 L271.0,397.8 L271.5,399.0 L272.0,400.5 L272.5,401.9 L273.0,401.4 L273.5,400.8 L274.0,400.2 L274.5,399.5 L275.0,398.9 L275.5,398.7 L276.0,398.6 L276.5,398.5 L277.0,398.5 L277.5,398.5 L278.0,397.9 L278.5,397.9 L279.0,397.7 L279.5,398.0 L280.0,397.8 L280.5,397.4 L281.0,397.4 L281.5,397.2 L282.0,397.3 L282.5,397.0 L283.0,397.0 L283.5,396.9 L284.0,396.9 L284.5,396.7 L285.0,396.4 L285.5,396.6 L286.0,396.7 L286.5,396.6 L287.0,396.4 L287.5,396.4 L288.0,396.5 L288.5,396.4 L289.0,396.4 L289.5,396.6 L290.0,396.3 L290.5,396.3 L291.0,396.0 L291.5,396.0 L292.0,396.0 L292.5,396.0 L293.0,396.0 L293.5,396.4 L294.0,396.3 L294.5,396.2 L295.0,396.5 L295.5,396.3 L296.0,396.0 L296.5,396.1 L297.0,396.0 L297.5,396.3 L298.0,396.0 L298.5,395.9 L299.0,395.7 L299.5,395.9 L300.0,395.8 L300.5,395.8 L301.0,395.5 L301.5,395.1 L302.0,396.6 L302.5,397.4 L303.0,396.9 L303.5,395.6 L304.0,394.6 L304.5,395.6 L305.0,398.5 L305.5,397.0 L306.0,395.8 L306.5,395.2 L307.0,394.5 L307.5,394.2 L308.0,394.9 L308.5,397.1 L309.0,396.7 L309.5,396.0 L310.0,394.4 L310.5,395.5 L311.0,395.9 L311.5,394.7 L312.0,394.3 L312.5,395.2 L313.0,396.9 L313.5,397.4 L314.0,397.2 L314.5,396.5 L315.0,396.9 L315.5,396.7 L316.0,399.0 L316.5,398.3 L317.0,399.4 L317.5,402.6 L318.0,403.4 L318.5,405.1 L319.0,404.5 L319.5,404.5 L320.0,404.1 L320.5,402.9 L320.9,402.8 L321.4,406.4 L321.9,406.7 L322.4,407.0 L322.9,407.7 L323.4,407.7 L323.9,408.3 L324.4,407.2 L324.9,406.7 L325.4,407.8 L325.9,407.0 L326.4,405.6 L326.9,406.0 L327.4,406.0 L328.0,407.3 L328.5,406.6 L329.0,405.9 L329.5,406.4 L330.0,408.8 L330.5,408.4 L331.0,408.5 L331.5,408.4 L332.0,408.8 L332.5,409.5 L333.0,410.5 L333.5,407.6 L334.0,409.3 L334.5,408.7 L335.0,408.0 L335.5,410.6 L336.0,409.2 L336.5,410.8 L337.0,410.5 L337.5,408.1 L338.0,408.5 L338.5,409.0 L339.0,408.2 L339.5,405.4 L340.0,406.0 L340.5,406.5 L341.0,405.7 L341.5,408.5 L342.0,407.7 L342.5,407.1 L343.0,406.9 L343.5,406.2 L344.0,405.8 L344.4,406.5 L344.9,407.1 L345.4,406.6 L345.9,406.7 L346.4,405.3 L346.9,406.6 L347.4,405.9 L347.9,406.6 L348.4,405.7 L348.9,405.6 L349.4,406.3 L349.8,405.2 L350.3,408.5 L350.8,407.6 L351.3,407.0 L351.8,406.0 L352.3,407.9 L352.8,408.8 L353.3,408.1 L353.8,405.8 L354.3,405.5 L354.8,406.6 L355.4,405.9 L355.9,404.8 L356.4,404.1 L356.9,404.2 L357.4,405.2 L357.9,404.9 L358.4,405.5 L358.9,408.9 L359.4,409.6 L359.9,406.9 L360.5,406.9 L361.0,406.6 L361.5,406.2 L362.0,407.3 L362.5,406.3 L363.0,405.8 L363.5,405.7 L364.0,406.1 L364.5,407.9 L365.0,408.5 L365.5,406.5 L365.9,406.6 L366.4,406.3 L366.9,408.1 L367.4,408.5 L367.9,409.5 L368.4,409.2 L368.9,410.0 L369.5,414.5 L370.0,415.0 L370.5,415.5 L371.0,413.9 L371.5,412.6 L372.0,410.3 L372.5,408.2 L373.0,407.3 L373.5,406.0 L374.0,403.1 L374.5,401.5 L375.0,399.7 L375.5,400.8 L376.0,403.2 L376.5,403.1 L377.0,400.6 L377.5,400.7 L378.0,402.2 L378.5,404.2 L379.0,404.8 L379.5,404.2 L380.0,403.6 L380.5,402.0 L381.0,401.9 L381.5,402.0 L382.0,401.6 L382.5,402.3 L383.0,402.3 L383.5,403.1 L384.0,404.8 L384.5,405.0 L385.0,404.8 L385.5,404.0 L386.0,402.2 L386.5,402.8 L387.0,403.9 L387.5,402.9 L388.0,404.8 L388.5,405.1 L389.0,406.4 L389.5,406.9 L390.0,406.6 L390.5,410.5 L391.0,409.5 L391.5,412.0 L392.1,412.3 L392.6,413.9 L393.1,414.2 L393.6,414.1 L394.1,415.6 L394.6,417.5 L395.1,415.5 L395.6,415.3 L396.1,416.3 L396.6,415.1 L397.1,415.9 L397.6,414.7 L398.1,415.6 L398.6,415.9 L399.1,417.0 L399.6,416.6 L400.0,414.7 L400.5,415.7 L401.0,414.3 L401.5,415.6 L402.0,417.2 L402.5,417.0 L403.0,415.7 L403.5,416.9 L404.0,416.4 L404.5,414.6 L405.0,414.6 L405.5,416.6 L406.0,415.8 L406.5,415.8 L407.0,415.3 L407.5,413.6 L408.0,414.0 L408.5,415.2 L409.0,415.7 L409.5,415.5 L410.0,413.3 L410.6,415.8 L411.1,416.6 L411.6,417.4 L412.1,418.2 L412.6,416.7 L413.1,415.8 L413.6,416.2 L414.1,418.0 L414.6,415.3 L415.1,415.8 L415.6,415.8 L416.1,417.3 L416.6,419.4 L417.1,418.7 L417.6,417.5 L418.1,418.5 L418.6,418.8 L419.1,417.8 L419.6,420.1 L420.1,420.0 L420.6,421.5 L421.1,420.3 L421.6,422.8 L422.1,421.6 L422.5,424.1 L423.0,422.6 L423.5,425.7 L424.0,425.7 L424.4,424.8 L424.9,426.0 L425.4,427.7 L425.9,426.7 L426.4,426.6 L426.9,427.4 L427.4,427.3 L427.9,424.0 L428.4,425.0 L428.8,426.5 L429.3,427.2 L429.8,428.3 L430.3,427.0 L430.8,429.8 L431.3,429.4 L431.8,428.5 L432.3,428.8 L432.8,428.7 L433.3,427.7 L433.8,426.2 L434.3,427.1 L434.8,426.9 L435.3,424.1 L435.8,423.4 L436.4,424.6 L436.9,424.8 L437.4,425.0 L437.9,425.5 L438.4,425.1 L438.9,426.3 L439.4,424.6 L439.9,423.7 L440.4,424.0 L440.9,424.6 L441.4,425.0 L441.9,425.9 L442.4,424.2 L442.9,425.1 L443.4,424.8 L443.9,422.9 L444.4,422.8 L445.0,425.2 L445.5,425.1 L446.0,423.6 L446.5,420.6 L447.0,420.8 L447.5,420.9 L448.0,421.8 L448.5,424.7 L449.0,424.5 L449.5,424.7 L450.0,423.7 L450.5,423.1 L451.0,424.2 L451.5,424.8 L452.0,429.3 L452.5,428.3 L453.0,427.8 L453.5,429.7 L454.0,430.0 L454.5,428.9 L455.0,431.4 L455.5,431.3 L456.0,429.9 L456.5,430.9 L457.0,431.6 L457.5,431.1 L458.0,432.0 L458.5,432.7 L459.0,431.2 L459.5,429.1 L460.0,427.6 L460.5,429.2 L461.0,431.7 L461.5,432.8 L462.0,433.8 L462.5,434.9 L463.0,433.5 L463.5,433.9 L464.0,431.3 L464.5,432.3 L465.0,432.6 L465.5,432.2 L466.0,431.6 L466.5,430.6 L467.0,431.4 L467.5,433.1 L468.0,432.3 L468.5,432.8 L469.0,431.8 L469.5,432.3 L470.0,431.2 L470.5,432.1 L471.0,432.0 L471.5,432.5 L472.0,431.8 L472.5,430.8 L473.0,431.2 L473.5,432.9 L474.0,434.4 L474.5,433.2 L475.0,433.8 L475.5,434.1 L476.0,433.8 L476.5,431.5 L477.0,432.4 L477.5,431.4 L478.0,433.3 L478.5,433.9 L479.0,434.0 L479.5,430.6 L480.0,431.7 L480.5,432.2 L481.0,432.1 L481.5,432.4 L482.0,432.4 L482.5,432.3 L482.9,432.2 L483.4,432.0 L483.9,432.0 L484.4,432.4 L484.9,432.2 L485.4,432.1 L485.9,431.9 L486.4,431.7 L486.9,431.6 L487.4,431.5 L487.9,431.6 L488.3,431.5 L488.8,431.6 L489.3,431.3 L489.8,431.4 L490.3,431.3 L490.8,431.3 L491.3,431.3 L491.8,431.2 L492.3,431.5 L492.8,431.5 L493.3,431.5 L493.9,431.5 L494.4,431.7 L494.9,431.7 L495.4,431.8 L495.9,432.0 L496.4,431.9 L496.9,431.8 L497.4,432.1 L497.9,432.3 L498.4,432.4 L499.0,432.3 L499.5,432.5 L500.0,432.6 L500.5,432.6 L501.0,432.7 L501.5,432.7 L502.0,432.8 L502.5,432.9 L503.0,432.8 L503.5,432.6 L504.0,432.8 L504.5,432.9 L505.0,432.7 L505.5,432.7 L506.0,433.0 L506.5,433.0 L507.0,433.1 L507.5,433.0 L508.0,433.2 L508.5,433.5 L509.0,433.4 L509.5,433.3 L510.0,433.2 L510.5,433.4 L511.0,433.5 L511.5,433.4 L512.0,433.7 L512.5,433.8 L513.0,433.8 L513.5,433.5 L514.0,433.6 L514.5,433.8 L515.0,433.6 L515.5,433.9 L516.0,434.1 L516.5,434.2 L517.0,434.0 L517.5,433.9 L518.0,434.1 L518.5,434.2 L519.0,434.4 L519.5,434.5 L520.0,434.3 L520.5,434.2 L521.0,434.0 L521.5,434.3 L522.0,434.6 L522.5,434.5 L523.0,434.4 L523.5,434.6 L524.0,434.8 L524.5,434.7 L525.0,434.8 L525.5,434.8 L526.0,435.4 L526.5,435.4 L527.0,435.7 L527.5,436.0 L528.0,436.3 L528.5,436.5 L529.0,436.6 L529.5,436.4 L530.0,436.4 L530.5,436.4 L531.1,436.6 L531.6,437.2 L532.1,436.9 L532.6,437.2 L533.1,437.1 L533.6,437.5 L534.1,437.8 L534.6,437.8 L535.1,438.2 L535.6,438.2 L536.1,438.4 L536.6,438.5 L537.1,438.4 L537.6,438.5 L538.1,438.7 L538.6,438.8 L539.1,438.8 L539.6,439.1 L540.1,438.9 L540.6,438.7 L541.1,438.6 L541.6,438.5 L542.1,438.4 L542.7,438.4 L543.2,438.7 L543.7,438.7 L544.2,438.7 L544.7,438.7 L545.2,438.9 L545.7,438.9 L546.2,438.9 L546.7,438.7 L547.2,438.7 L547.7,438.6 L548.2,438.6 L548.7,438.5 L549.2,438.6 L549.7,438.6 L550.2,438.6 L550.7,438.6 L551.3,438.6 L551.8,438.8 L552.3,438.7 L552.8,438.6 L553.3,438.7 L553.8,438.5 L554.3,438.4 L554.8,438.6 L555.3,438.4 L555.8,438.1 L556.3,438.4 L556.8,438.8 L557.3,438.5 L557.8,438.5 L558.3,438.8 L558.8,438.5 L559.3,438.6 L559.8,438.6 L560.3,438.7 L560.8,438.6 L561.3,438.9 L561.8,439.0 L562.3,439.1 L562.8,439.0 L563.3,438.8 L563.8,438.9 L564.3,438.8 L564.8,439.0 L565.3,439.0 L565.8,439.1 L566.3,439.1 L566.8,439.3 L567.3,439.5 L567.8,439.3 L568.3,439.3 L568.8,439.6 L569.3,439.6 L569.8,439.4 L570.3,439.4 L570.8,439.4 L571.3,439.6 L571.8,439.6 L572.3,439.7 L572.8,440.0 L573.3,439.6 L573.8,439.5 L574.3,439.3 L574.8,439.3 L575.3,439.6 L575.8,439.7 L576.3,440.0 L576.8,439.6 L577.3,439.6 L577.8,439.9 L578.3,440.1 L578.8,440.1 L579.3,440.2 L579.8,440.1 L580.3,440.1 L580.8,440.1 L581.3,440.2 L581.8,440.1 L582.3,440.2 L582.8,440.4 L583.3,440.1 L583.8,440.0 L584.3,440.2 L584.8,440.2 L585.3,440.2 L585.8,440.6 L586.3,440.5 L586.8,440.4 L587.3,440.5 L587.8,440.8 L588.3,440.5 L588.8,440.4 L589.3,440.4 L589.8,440.4 L590.3,440.8 L590.8,440.7 L591.3,440.6 L591.8,440.7 L592.3,440.5 L592.8,440.5 L593.3,440.6 L593.8,441.0 L594.3,440.5 L594.8,440.7 L595.3,440.9 L595.8,441.0 L596.3,441.2 L596.8,441.1 L597.3,441.0 L597.8,441.0 L598.3,440.8 L598.8,441.1 L599.3,440.9 L599.8,441.0 L600.3,440.9 L600.8,440.9 L601.3,440.7 L601.8,440.9 L602.3,441.1 L602.8,441.2 L603.3,441.4 L603.8,441.4 L604.3,441.3 L604.8,441.4 L605.3,441.6 L605.8,441.4 L606.3,441.3 L606.8,441.3 L607.3,441.6 L607.8,441.8 L608.3,441.6 L608.8,441.7 L609.3,441.9 L609.8,442.1 L610.3,441.9 L610.8,441.9 L611.3,442.1 L611.8,442.4 L612.3,442.5 L612.8,442.1 L613.3,442.2 L613.8,442.1 L614.3,442.2 L614.8,442.1 L615.3,442.1 L615.8,442.2 L616.3,442.6 L616.8,442.6 L617.3,442.6 L617.8,442.6 L618.3,442.4 L618.8,442.5 L619.3,442.7 L619.8,442.8 L620.3,443.0 L620.8,442.9 L621.3,442.8 L621.8,442.5 L622.3,442.6 L622.8,442.4 L623.3,442.7 L623.8,442.6 L624.3,442.7 L624.8,442.5 L625.3,442.5 L625.8,442.5 L626.3,442.8 L626.8,442.8 L627.3,442.6 L627.8,442.4 L628.3,442.5 L628.8,442.6 L629.3,442.5 L629.8,442.7 L630.3,442.7 L630.8,442.8 L631.3,442.7 L631.8,442.7 L632.3,442.7 L632.8,442.5 L633.3,442.8 L633.8,442.9 L634.3,442.6 L634.8,442.8 L635.3,443.0 L635.8,443.0 L636.3,443.2 L636.8,443.0 L637.3,443.0 L637.8,442.8 L638.3,442.7 L638.8,442.6 L639.3,442.6 L639.8,442.8 L640.3,443.0 L640.8,443.2 L641.3,443.1 L641.8,442.9 L642.3,443.0 L642.8,443.0 L643.3,443.2 L643.8,443.4 L644.3,443.3 L644.8,443.0 L645.3,442.9 L645.8,442.9 L646.3,442.8 L646.9,442.9 L647.4,443.0 L647.9,443.1 L648.4,443.0 L648.9,442.8 L649.4,442.7 L649.9,442.8 L650.4,443.0 L650.9,443.2 L651.4,443.2 L651.9,443.1 L652.4,443.1 L652.9,443.1 L653.4,443.2 L653.9,443.1 L654.4,442.7 L654.9,442.9 L655.4,442.9 L655.9,442.8 L656.5,442.9 L657.0,442.9 L657.5,442.8 L658.0,442.5 L658.5,442.6 L659.0,442.8 L659.5,442.7 L660.0,442.5 L660.5,442.7 L661.0,442.8 L661.5,442.8 L662.0,442.9 L662.5,442.8 L663.0,442.8 L663.5,443.0 L664.0,443.0 L664.5,443.1 L665.0,443.6 L665.5,443.6 L666.0,443.5 L666.5,443.2 L667.0,443.4 L667.5,443.6 L668.0,443.5 L668.5,443.5 L669.0,443.3 L669.5,443.6 L670.0,443.6 L670.5,443.9 L671.0,444.2 L671.5,444.1 L672.0,444.3 L672.5,444.3 L673.0,444.2 L673.5,444.2 L674.0,444.2 L674.5,444.5 L675.0,444.7 L675.5,444.5 L676.0,444.7 L676.5,444.6 L677.0,444.5 L677.5,444.8 L678.0,444.7 L678.5,445.0 L679.0,445.1 L679.5,445.2 L680.0,445.3 L680.5,445.4 L681.0,445.4 L681.5,445.5 L682.0,445.5 L682.5,445.7 L683.0,445.6 L683.5,445.9 L684.0,446.3 L684.5,446.3 L685.0,446.5 L685.5,446.6 L686.0,446.7 L686.5,447.0 L687.0,447.2 L687.6,447.3 L688.1,447.5 L688.6,447.8 L689.1,448.1 L689.6,448.4 L690.1,448.3 L690.6,448.8 L691.1,448.9 L691.6,449.0 L692.1,449.6 L692.6,450.3 L693.1,451.0 L693.6,451.5 L694.1,452.1 L694.6,452.4 L695.1,453.3 L695.6,453.7 L696.1,453.8 L696.6,455.6 L697.1,457.9 L697.6,458.5 L698.1,457.2 L698.6,459.1 L699.1,458.4 L699.6,458.5 L700.1,458.2 L700.6,459.4 L701.1,460.4 L701.5,460.7 L702.0,460.7 L702.5,461.0 L703.0,461.1 L703.5,462.9 L704.0,462.5 L704.5,462.9 L705.0,464.4 L705.6,465.3 L706.2,467.2 L706.7,467.5 L707.2,468.9 L707.7,469.7 L708.2,469.2 L708.7,470.9 L709.2,469.3 L709.7,469.8 L710.2,470.0 L710.7,469.0 L711.3,468.7 L711.8,469.7 L712.3,469.4 L712.8,469.4 L713.3,470.6 L713.8,470.0 L714.3,467.5 L714.8,467.1 L715.3,468.6 L715.8,468.9 L716.3,468.2 L716.7,467.1 L717.2,469.2 L717.7,471.9 L718.2,470.5 L718.6,469.0 L719.1,471.3 L719.6,471.7 L720.1,471.9 L720.6,472.1 L721.1,471.6 L721.6,472.8 L722.1,474.0 L722.6,474.2 L723.0,473.3 L723.5,474.5 L724.0,474.0 L724.5,474.5 L725.0,474.1 L725.5,474.1 L726.0,474.2 L726.5,474.4 L727.0,474.4 L727.5,474.5 L728.0,474.5 L728.5,474.8 L728.9,475.0 L729.4,475.2 L729.9,475.2 L730.4,475.1 L730.9,475.3 L731.4,475.4 L731.9,475.5 L732.4,475.8 L732.9,476.1 L733.4,476.2 L733.9,476.5 L734.3,476.6 L734.8,476.5 L735.3,476.6 L735.8,476.7 L736.3,477.0 L736.8,477.3 L737.3,477.3 L737.8,477.4 L738.3,477.3 L738.8,477.3 L739.3,477.6 L739.9,477.6 L740.4,477.7 L740.9,477.4 L741.4,477.2 L741.9,477.3 L742.4,477.7 L742.9,478.0 L743.4,477.8 L743.9,477.7 L744.4,477.7 L745.0,477.7 L745.5,477.9 L746.0,478.0 L746.5,478.3 L747.0,478.4 L747.5,478.2 L748.0,478.4 L748.5,478.5 L749.0,478.7 L749.5,478.9 L750.0,478.9 L750.5,479.1 L751.0,479.2 L751.5,479.3 L752.1,479.4 L752.6,479.6 L753.1,479.6 L753.6,479.6 L754.1,479.9 L754.6,480.0 L755.1,480.0 L755.6,480.2 L756.1,480.1 L756.6,480.5 L757.1,480.7 L757.6,481.1 L758.1,481.2 L758.6,481.6 L759.1,482.2 L759.6,482.5 L760.1,482.6 L760.7,483.3 L761.2,483.5 L761.7,484.0 L762.2,484.2 L762.7,484.2 L763.2,484.9 L763.7,485.1 L764.2,485.5 L764.7,485.9 L765.2,485.7 L765.7,485.8 L766.2,485.8 L766.7,486.1 L767.3,486.1 L767.8,486.0 L768.3,486.2 L768.8,486.4 L769.3,486.4 L769.8,486.6 L770.3,486.5 L770.8,486.6 L771.3,486.8 L771.8,486.8 L772.4,487.1 L772.9,487.2 L773.4,487.3 L773.9,487.4 L774.4,487.4" fill="none" stroke="#ff0000" stroke-width="2.8" stroke-dasharray="3 2.7" stroke-linecap="butt" stroke-linejoin="round"/>
<path d="M54.3,393.3 L54.8,393.9 L55.3,393.9 L55.8,393.8 L56.3,394.6 L56.8,394.5 L57.3,394.3 L57.8,395.4 L58.3,394.7 L58.8,393.8 L59.3,393.3 L59.8,393.5 L60.3,394.4 L60.9,395.0 L61.4,395.5 L61.9,396.2 L62.4,396.5 L62.9,396.1 L63.4,396.3 L63.9,396.0 L64.4,395.1 L64.9,395.5 L65.4,395.2 L65.9,394.9 L66.4,396.1 L66.9,396.1 L67.4,395.3 L67.9,395.1 L68.4,396.5 L68.9,395.7 L69.4,395.9 L69.9,395.9 L70.4,395.9 L70.9,395.9 L71.4,395.3 L71.9,395.0 L72.4,395.0 L72.9,394.9 L73.4,395.6 L74.0,396.4 L74.5,395.4 L75.0,395.7 L75.5,395.0 L76.0,394.7 L76.5,394.9 L77.0,395.2 L77.5,395.1 L78.0,393.7 L78.5,395.4 L79.0,395.3 L79.5,395.0 L80.0,395.7 L80.5,395.4 L81.0,394.7 L81.5,395.5 L82.0,396.0 L82.5,395.5 L83.0,396.3 L83.5,396.4 L84.0,395.6 L84.5,397.0 L85.0,396.9 L85.5,396.0 L86.0,396.5 L86.5,396.6 L87.0,397.2 L87.5,396.2 L88.0,397.1 L88.5,397.5 L89.0,397.7 L89.5,397.7 L90.0,398.2 L90.5,398.2 L91.0,397.8 L91.5,397.0 L92.1,397.9 L92.6,398.2 L93.1,398.1 L93.6,397.9 L94.1,398.2 L94.6,396.4 L95.1,397.2 L95.6,396.0 L96.1,397.0 L96.6,398.1 L97.1,399.2 L97.6,398.4 L98.1,398.6 L98.6,398.4 L99.1,397.0 L99.6,398.0 L100.1,398.2 L100.6,398.4 L101.1,397.9 L101.6,398.2 L102.1,398.5 L102.6,399.4 L103.1,399.3 L103.6,401.7 L104.1,400.9 L104.6,400.7 L105.2,401.0 L105.7,401.0 L106.2,402.6 L106.7,403.1 L107.2,402.5 L107.7,403.3 L108.2,404.5 L108.8,403.9 L109.3,404.7 L109.8,405.2 L110.3,407.2 L110.8,407.4 L111.3,407.3 L111.9,407.3 L112.4,409.1 L112.9,408.8 L113.4,410.6 L113.9,409.5 L114.4,409.9 L115.0,410.4 L115.5,410.6 L116.0,411.2 L116.5,412.9 L117.0,413.4 L117.4,413.7 L117.9,416.0 L118.4,417.9 L118.9,418.0 L119.3,419.2 L119.8,418.5 L120.3,420.8 L120.8,420.3 L121.3,420.6 L121.8,422.5 L122.4,421.6 L122.9,422.0 L123.4,421.6 L123.9,421.1 L124.4,421.3 L124.9,422.4 L125.4,422.1 L126.0,422.6 L126.5,423.7 L127.0,423.9 L127.5,423.4 L128.0,424.8 L128.5,424.8 L129.1,425.6 L129.6,424.6 L130.1,425.7 L130.6,424.5 L131.1,423.7 L131.6,424.1 L132.2,424.3 L132.7,424.9 L133.2,424.8 L133.7,425.7 L134.2,426.9 L134.6,426.4 L135.1,425.9 L135.6,426.4 L136.1,427.5 L136.6,428.3 L137.1,428.2 L137.6,427.9 L138.0,428.5 L138.5,429.6 L139.0,429.4 L139.5,430.2 L140.0,430.1 L140.5,430.0 L141.0,429.4 L141.5,430.3 L142.0,430.0 L142.5,428.9 L143.0,429.7 L143.5,429.4 L144.0,430.1 L144.5,430.0 L144.9,429.4 L145.4,429.6 L145.9,429.3 L146.4,428.9 L146.9,429.2 L147.4,429.9 L147.9,429.8 L148.4,429.6 L148.9,429.3 L149.4,429.7 L149.9,429.8 L150.4,430.3 L150.9,430.5 L151.4,431.8 L151.8,430.5 L152.3,430.8 L152.8,431.5 L153.3,432.2 L153.7,431.3 L154.2,431.1 L154.7,431.9 L155.2,432.9 L155.7,433.5 L156.1,432.4 L156.6,432.8 L157.1,433.7 L157.6,433.5 L158.1,432.9 L158.6,432.7 L159.0,432.3 L159.5,433.7 L160.0,433.6 L160.5,433.5 L161.0,433.1 L161.5,433.3 L162.0,433.0 L162.6,432.8 L163.1,433.3 L163.6,433.4 L164.1,433.9 L164.6,434.0 L165.1,434.7 L165.6,434.4 L166.1,434.4 L166.6,434.4 L167.1,433.8 L167.7,434.6 L168.2,434.1 L168.7,433.1 L169.2,434.4 L169.7,434.7 L170.2,435.3 L170.8,437.2 L171.3,438.8 L171.8,440.1 L172.4,440.2 L172.9,441.6 L173.4,442.2 L173.9,443.3 L174.3,444.5 L174.8,445.5 L175.3,447.4 L175.8,448.3 L176.2,450.1 L176.7,451.4 L177.2,452.2 L177.7,452.8 L178.2,453.7 L178.6,454.6 L179.1,454.5 L179.6,455.8 L180.1,456.0 L180.5,456.7 L181.0,455.7 L181.5,455.6 L182.0,456.7 L182.5,456.5 L183.0,456.9 L183.5,457.6 L184.0,456.5 L184.5,457.0 L185.0,458.3 L185.5,458.3 L186.0,458.0 L186.5,458.1 L187.0,457.9 L187.5,458.3 L188.0,458.9 L188.5,458.8 L189.1,459.5 L189.6,459.9 L190.1,460.7 L190.7,461.4 L191.2,460.9 L191.7,463.3 L192.2,465.1 L192.8,465.7 L193.3,467.2 L193.8,466.4 L194.3,466.6 L194.8,467.1 L195.3,466.4 L195.9,466.2 L196.4,466.1 L196.9,466.1 L197.4,466.0 L197.9,465.7 L198.4,466.6 L198.9,466.5 L199.4,466.1 L199.9,466.9 L200.4,466.4 L201.0,467.0 L201.5,466.0 L202.0,467.0 L202.5,466.5 L203.0,465.8 L203.5,466.4 L204.0,465.7 L204.5,465.6 L205.0,466.3 L205.5,466.4 L206.0,467.0 L206.5,467.2 L207.0,467.5 L207.5,467.6 L208.0,468.0 L208.5,467.9 L209.0,468.6 L209.5,468.9 L210.0,467.2 L210.5,466.4 L211.0,468.0 L211.5,467.6 L212.0,467.8 L212.6,467.7 L213.1,467.9 L213.6,469.1 L214.1,468.0 L214.6,467.9 L215.1,467.8 L215.6,467.0 L216.1,466.8 L216.6,467.0 L217.1,467.2 L217.7,467.6 L218.2,466.4 L218.7,465.9 L219.2,467.6 L219.7,467.4 L220.2,467.9 L220.7,467.3 L221.2,466.6 L221.7,467.9 L222.2,466.5 L222.7,465.9 L223.2,466.4 L223.7,466.2 L224.2,465.0 L224.8,465.3 L225.3,465.8 L225.8,464.6 L226.3,464.4 L226.8,465.0 L227.3,466.0 L227.8,463.9 L228.3,463.6 L228.8,463.8 L229.3,463.6 L229.8,463.5 L230.3,463.8 L230.8,464.6 L231.3,464.1 L231.8,465.1 L232.3,465.7 L232.8,466.1 L233.4,466.7 L233.9,465.9 L234.4,465.8 L234.9,466.5 L235.4,467.0 L235.9,467.2 L236.4,466.5 L236.9,466.1 L237.4,465.5 L237.9,465.7 L238.4,465.6 L238.9,465.8 L239.4,466.1 L239.9,467.0 L240.3,467.5 L240.8,467.3 L241.3,466.6 L241.8,466.9 L242.3,467.4 L242.8,468.0 L243.3,468.0 L243.8,468.4 L244.3,467.8 L244.8,468.2 L245.3,468.6 L245.7,468.2 L246.2,467.8 L246.7,468.8 L247.2,468.0 L247.7,468.7 L248.2,468.5 L248.7,468.1 L249.2,467.8 L249.7,467.4 L250.2,467.3 L250.7,468.2 L251.2,468.5 L251.6,467.5 L252.1,467.2 L252.6,467.2 L253.1,466.3 L253.6,467.1 L254.1,466.3 L254.6,466.1 L255.1,465.6 L255.6,465.3 L256.1,465.4 L256.6,465.8 L257.1,467.3 L257.6,467.4 L258.1,468.3 L258.6,468.2 L259.1,468.0 L259.6,468.7 L260.1,469.0 L260.6,468.5 L261.1,469.4 L261.6,470.7 L262.1,470.8 L262.6,470.3 L263.1,470.5 L263.6,470.5 L264.1,471.2 L264.6,471.3 L265.1,472.0 L265.6,472.7 L266.1,474.0 L266.6,473.3 L267.1,472.6 L267.6,474.5 L268.1,475.0 L268.6,474.9 L269.1,474.7 L269.5,473.5 L270.0,472.9 L270.5,473.0 L270.9,472.2 L271.4,471.8 L271.9,463.4 L272.3,454.8 L272.8,449.2 L273.3,444.1 L273.9,449.6 L274.4,454.7 L275.0,454.7 L275.5,456.2 L276.1,455.9 L276.6,455.0 L277.1,455.4 L277.6,455.6 L278.1,455.9 L278.6,454.1 L279.1,454.6 L279.6,453.7 L280.1,453.1 L280.6,453.1 L281.1,453.5 L281.6,452.1 L282.1,450.7 L282.6,450.4 L283.1,450.4 L283.6,451.1 L284.1,450.8 L284.6,450.1 L285.1,449.4 L285.6,448.9 L286.0,449.4 L286.5,447.9 L287.0,447.5 L287.5,447.0 L288.0,447.8 L288.5,447.5 L289.0,446.7 L289.5,447.8 L289.9,449.3 L290.4,449.8 L290.9,448.8 L291.4,449.2 L291.8,450.4 L292.3,449.5 L292.8,448.3 L293.4,447.8 L293.9,447.7 L294.4,446.5 L294.9,447.3 L295.4,447.8 L295.9,448.6 L296.4,448.3 L296.9,447.8 L297.3,447.8 L297.8,449.3 L298.3,450.9 L298.8,451.7 L299.3,451.1 L299.8,450.9 L300.3,451.5 L300.8,451.5 L301.3,451.0 L301.8,451.5 L302.3,451.6 L302.8,452.2 L303.2,452.8 L303.7,453.1 L304.2,453.2 L304.7,453.6 L305.2,453.4 L305.7,453.2 L306.2,453.1 L306.7,454.2 L307.2,454.0 L307.7,454.6 L308.2,455.5 L308.7,456.2 L309.1,454.3 L309.6,454.7 L310.1,455.6 L310.6,455.3 L311.1,455.0 L311.6,454.5 L312.1,455.5 L312.6,456.7 L313.0,456.7 L313.5,458.2 L314.0,458.9 L314.5,460.1 L314.9,460.5 L315.4,461.8 L315.9,463.0 L316.4,466.9 L316.9,471.0 L317.4,476.2 L318.0,489.4 L318.5,489.6 L318.9,491.5 L319.4,491.6 L319.9,492.7 L320.4,491.6 L320.8,493.8 L321.3,496.8 L321.8,497.6 L322.4,499.4 L322.9,499.7 L323.4,501.1 L324.0,501.9 L324.5,501.9 L325.0,504.1 L325.5,502.2 L326.0,500.5 L326.6,500.9 L327.1,501.3 L327.6,501.2 L328.1,500.5 L328.6,500.6 L329.1,502.1 L329.6,503.1 L330.1,502.0 L330.6,504.9 L331.1,505.2 L331.5,503.7 L332.0,506.1 L332.5,506.9 L333.0,508.1 L333.5,510.9 L334.0,510.3 L334.5,508.7 L335.1,507.2 L335.6,507.1 L336.1,507.3 L336.7,506.8 L337.2,505.9 L337.7,503.9 L338.2,505.4 L338.6,507.2 L339.1,506.7 L339.6,506.6 L340.1,506.2 L340.5,507.4 L341.0,506.4 L341.5,509.5 L342.0,508.7 L342.5,507.7 L343.0,506.4 L343.5,507.4 L344.0,508.2 L344.5,507.0 L345.0,507.0 L345.5,507.0 L346.0,507.6 L346.5,507.4 L347.0,507.8 L347.5,505.3 L348.0,507.8 L348.5,504.1 L349.0,500.5 L349.4,502.3 L349.9,505.7 L350.4,509.0 L350.8,513.6 L351.3,510.6 L351.8,505.7 L352.3,502.1 L352.9,498.7 L353.4,495.4 L353.9,492.6 L354.4,489.4 L354.9,490.5 L355.5,490.0 L356.1,489.8 L356.6,488.6 L357.1,487.5 L357.6,488.6 L358.0,488.5 L358.5,490.9 L359.0,491.6 L359.5,489.6 L359.9,488.9 L360.4,489.0 L360.9,489.5 L361.4,490.7 L361.9,489.8 L362.3,489.8 L362.8,488.9 L363.3,488.3 L363.8,489.3 L364.2,488.5 L364.7,489.8 L365.2,488.4 L365.7,488.4 L366.3,488.5 L366.8,488.9 L367.3,490.5 L367.9,488.8 L368.4,488.1 L368.9,488.8 L369.4,492.7 L370.0,494.2 L370.5,495.7 L371.1,498.4 L371.6,498.8 L372.1,502.8 L372.7,505.6 L373.2,509.6 L373.8,513.3 L374.4,509.1 L374.9,505.0 L375.5,500.6 L376.0,498.0 L376.5,496.3 L377.1,491.5 L377.6,490.6 L378.1,488.8 L378.6,487.3 L379.2,488.0 L379.7,488.0 L380.2,487.2 L380.8,488.8 L381.3,488.1 L381.8,486.3 L382.4,483.6 L382.9,485.0 L383.4,483.2 L384.0,481.8 L384.5,479.9 L385.0,481.7 L385.6,480.3 L386.1,481.3 L386.6,481.2 L387.2,480.9 L387.7,480.4 L388.2,478.7 L388.6,475.6 L389.1,471.1 L389.6,467.0 L390.1,467.7 L390.5,464.0 L391.0,464.5 L391.5,467.3 L392.0,463.6 L392.4,464.0 L392.9,463.9 L393.4,462.5 L393.9,460.3 L394.3,460.8 L394.8,462.7 L395.3,461.8 L395.8,461.2 L396.3,460.8 L396.7,460.4 L397.2,460.3 L397.7,462.1 L398.2,459.7 L398.6,457.3 L399.1,458.5 L399.6,457.6 L400.1,457.4 L400.6,456.3 L401.0,457.0 L401.5,457.1 L402.0,458.0 L402.5,457.7 L402.9,456.4 L403.4,457.7 L403.9,457.8 L404.4,454.9 L404.9,454.3 L405.3,454.5 L405.8,453.2 L406.3,451.8 L406.8,451.3 L407.2,449.3 L407.7,447.6 L408.2,447.4 L408.7,446.5 L409.2,445.2 L409.6,445.0 L410.1,444.7 L410.6,444.8 L411.1,444.6 L411.5,443.3 L412.0,442.2 L412.5,440.3 L413.0,440.1 L413.6,439.1 L414.1,439.4 L414.6,439.2 L415.2,438.6 L415.7,437.3 L416.2,437.9 L416.8,439.6 L417.3,441.0 L417.8,439.7 L418.4,437.0 L418.9,439.2 L419.4,438.1 L419.9,439.1 L420.4,440.1 L420.9,441.7 L421.4,441.0 L421.8,440.7 L422.3,440.1 L422.8,440.7 L423.3,439.6 L423.8,440.8 L424.3,441.2 L424.9,440.3 L425.4,437.2 L425.9,435.1 L426.5,432.9 L427.0,428.3 L427.6,422.9 L428.1,418.4 L428.6,414.6 L429.1,413.1 L429.7,411.9 L430.2,408.7 L430.7,406.8 L431.3,405.1 L431.8,403.5 L432.4,400.6 L433.0,397.8 L433.5,396.8 L434.0,396.4 L434.5,395.9 L435.0,393.9 L435.5,393.7 L436.0,391.7 L436.5,392.9 L437.0,393.5 L437.5,392.2 L438.0,391.7 L438.5,391.0 L439.0,389.9 L439.5,390.6 L440.0,389.0 L440.5,388.1 L441.0,387.0 L441.5,387.2 L442.0,384.8 L442.5,384.2 L443.0,382.5 L443.5,381.5 L444.0,380.5 L444.5,380.5 L445.0,379.1 L445.5,377.9 L446.0,377.3 L446.5,376.4 L447.0,375.5 L447.5,376.2 L448.0,375.0 L448.5,373.9 L449.0,374.3 L449.6,373.4 L450.1,373.2 L450.6,371.2 L451.1,370.5 L451.6,370.3 L452.1,369.7 L452.6,369.2 L453.1,369.3 L453.6,368.6 L454.1,368.4 L454.5,367.7 L455.0,366.3 L455.5,365.8 L456.0,365.9 L456.5,364.1 L457.0,363.6 L457.6,363.0 L458.1,362.8 L458.6,360.4 L459.1,361.2 L459.7,358.9 L460.2,358.1 L460.7,358.9 L461.2,357.1 L461.7,358.2 L462.2,357.4 L462.7,357.9 L463.2,357.7 L463.7,356.7 L464.2,355.5 L464.8,354.9 L465.3,353.9 L465.8,353.2 L466.3,353.7 L466.8,352.7 L467.3,353.1 L467.8,353.0 L468.3,352.7 L468.8,351.9 L469.3,350.7 L469.8,350.8 L470.3,349.5 L470.8,348.7 L471.2,348.0 L471.7,347.9 L472.2,348.2 L472.7,347.9 L473.2,346.8 L473.7,345.7 L474.2,345.5 L474.7,345.0 L475.2,344.7 L475.7,343.6 L476.2,344.4 L476.7,344.2 L477.2,344.7 L477.7,346.1 L478.2,346.0 L478.7,346.2 L479.2,346.1 L479.6,345.2 L480.1,344.7 L480.6,344.0 L481.1,344.1 L481.6,344.6 L482.1,345.2 L482.6,345.5 L483.1,345.1 L483.6,344.5 L484.1,344.8 L484.6,345.2 L485.1,344.1 L485.6,344.3 L486.1,343.4 L486.6,343.4 L487.1,343.4 L487.6,342.8 L488.1,342.6 L488.6,342.7 L489.1,341.9 L489.7,342.4 L490.2,342.5 L490.7,342.4 L491.2,341.2 L491.7,341.0 L492.2,340.6 L492.7,340.5 L493.2,340.7 L493.7,339.7 L494.2,339.3 L494.6,339.3 L495.1,338.4 L495.6,338.3 L496.1,337.6 L496.5,336.1 L497.0,335.9 L497.5,335.7 L498.0,335.4 L498.5,336.5 L499.0,335.8 L499.5,334.6 L500.0,334.7 L500.5,334.7 L501.0,335.0 L501.6,336.4 L502.1,335.6 L502.6,335.6 L503.1,334.6 L503.6,333.8 L504.1,333.5 L504.6,333.6 L505.1,333.4 L505.6,333.5 L506.1,333.1 L506.6,332.5 L507.1,332.3 L507.6,333.0 L508.1,332.2 L508.6,332.8 L509.2,333.6 L509.7,332.4 L510.2,332.8 L510.7,332.9 L511.2,330.8 L511.7,331.6 L512.2,331.9 L512.7,331.2 L513.2,332.2 L513.8,330.7 L514.3,331.6 L514.8,331.4 L515.3,330.5 L515.8,330.6 L516.3,329.6 L516.8,330.3 L517.3,330.6 L517.9,331.1 L518.4,331.4 L518.9,330.3 L519.4,330.3 L519.9,329.6 L520.4,328.1 L520.9,329.6 L521.4,330.6 L521.9,330.6 L522.4,331.6 L522.9,331.1 L523.4,329.9 L523.9,330.1 L524.4,329.9 L524.9,329.9 L525.4,329.4 L526.0,327.8 L526.5,327.4 L527.0,327.7 L527.5,328.5 L528.0,327.7 L528.5,326.7 L529.0,326.5 L529.5,327.0 L530.0,327.4 L530.6,326.1 L531.1,326.2 L531.6,326.5 L532.1,326.2 L532.6,325.3 L533.1,325.8 L533.6,325.5 L534.1,325.4 L534.6,326.9 L535.1,326.6 L535.7,326.8 L536.2,327.5 L536.7,328.1 L537.2,327.7 L537.7,327.1 L538.2,327.1 L538.7,326.8 L539.2,327.0 L539.7,326.8 L540.2,325.6 L540.7,325.3 L541.2,324.6 L541.8,324.9 L542.3,325.4 L542.8,325.5 L543.3,325.0 L543.8,324.0 L544.3,323.8 L544.8,322.9 L545.3,323.5 L545.8,322.5 L546.3,322.5 L546.8,323.8 L547.3,323.7 L547.8,322.7 L548.3,322.5 L548.9,321.9 L549.4,321.6 L549.9,321.6 L550.4,321.3 L550.9,321.7 L551.4,322.3 L551.9,321.5 L552.4,320.9 L552.9,320.2 L553.4,319.7 L553.9,319.7 L554.5,318.9 L555.0,318.2 L555.5,317.7 L556.0,318.1 L556.5,318.2 L557.0,317.5 L557.5,316.1 L558.0,314.3 L558.5,314.2 L559.0,314.2 L559.5,312.0 L560.0,311.5 L560.5,312.3 L561.0,312.5 L561.6,312.5 L562.1,313.6 L562.6,312.9 L563.1,312.2 L563.6,312.1 L564.1,312.4 L564.6,312.7 L565.2,313.5 L565.7,313.7 L566.2,313.0 L566.7,313.5 L567.2,313.0 L567.7,313.7 L568.2,313.8 L568.7,312.8 L569.2,312.9 L569.8,311.7 L570.3,312.1 L570.8,312.0 L571.3,312.1 L571.8,311.1 L572.3,310.7 L572.8,310.6 L573.3,310.1 L573.8,310.0 L574.3,308.7 L574.8,307.0 L575.3,306.5 L575.8,306.8 L576.3,307.2 L576.8,306.2 L577.3,306.7 L577.8,306.6 L578.3,306.8 L578.8,306.6 L579.3,307.1 L579.9,306.1 L580.4,307.2 L580.9,307.2 L581.4,305.7 L581.9,304.6 L582.4,305.5 L582.9,304.4 L583.4,304.4 L583.9,305.2 L584.4,305.3 L584.9,305.6 L585.5,304.4 L586.0,304.6 L586.5,305.5 L587.0,307.0 L587.5,306.9 L588.0,306.6 L588.5,306.5 L589.0,307.1 L589.5,307.2 L590.0,306.3 L590.5,305.3 L591.1,305.8 L591.6,306.0 L592.1,307.5 L592.6,306.7 L593.1,307.3 L593.6,305.5 L594.1,306.0 L594.6,304.9 L595.2,304.9 L595.7,304.5 L596.2,304.4 L596.7,304.0 L597.2,303.0 L597.7,303.5 L598.2,302.9 L598.7,303.0 L599.2,302.5 L599.7,302.7 L600.2,302.6 L600.8,302.5 L601.3,302.0 L601.8,302.9 L602.3,302.5 L602.8,302.4 L603.3,300.9 L603.8,301.6 L604.3,300.5 L604.7,300.7 L605.2,299.5 L605.7,301.2 L606.2,299.7 L606.7,299.7 L607.1,299.0 L607.6,298.5 L608.1,297.8 L608.6,299.3 L609.1,300.4 L609.6,299.5 L610.1,299.5 L610.7,298.5 L611.2,297.6 L611.7,298.6 L612.2,298.4 L612.7,297.1 L613.2,296.9 L613.7,296.7 L614.2,296.3 L614.8,296.1 L615.3,295.6 L615.8,295.5 L616.3,295.1 L616.8,295.0 L617.3,294.7 L617.8,295.9 L618.3,295.3 L618.8,295.1 L619.3,295.2 L619.9,295.1 L620.4,294.3 L620.9,295.1 L621.4,294.2 L621.9,294.0 L622.4,294.6 L622.9,294.5 L623.4,294.1 L623.9,294.2 L624.4,293.8 L624.9,293.7 L625.5,293.2 L626.0,292.9 L626.5,292.9 L627.0,293.4 L627.5,293.4 L628.0,293.5 L628.5,294.2 L629.0,293.9 L629.5,292.9 L630.0,293.6 L630.5,295.1 L631.0,293.1 L631.5,293.6 L632.1,293.4 L632.6,293.2 L633.1,294.4 L633.6,294.7 L634.1,294.9 L634.6,294.2 L635.1,295.3 L635.6,296.0 L636.1,298.5 L636.6,299.3 L637.1,299.1 L637.6,300.4 L638.1,301.5 L638.6,300.6 L639.1,300.4 L639.7,300.3 L640.2,300.5 L640.7,300.5 L641.2,299.8 L641.7,299.4 L642.2,299.8 L642.7,298.9 L643.3,298.7 L643.8,298.9 L644.3,298.6 L644.8,297.9 L645.3,299.1 L645.8,298.7 L646.3,298.2 L646.8,296.3 L647.3,297.6 L647.8,298.1 L648.3,297.7 L648.8,297.5 L649.3,296.8 L649.8,298.0 L650.4,298.0 L650.9,298.7 L651.4,299.0 L651.9,296.7 L652.4,296.8 L652.9,295.2 L653.4,295.7 L653.9,295.7 L654.4,295.3 L654.9,295.7 L655.4,295.5 L655.9,294.9 L656.4,294.6 L657.0,295.0 L657.5,294.8 L658.0,294.8 L658.5,294.4 L659.0,293.6 L659.5,293.0 L660.0,293.1 L660.5,292.4 L661.0,291.9 L661.6,292.4 L662.1,292.3 L662.6,291.8 L663.1,291.7 L663.6,291.1 L664.1,291.6 L664.6,290.9 L665.1,290.5 L665.6,289.4 L666.2,288.9 L666.7,288.2 L667.2,288.7 L667.7,288.9 L668.2,288.9 L668.7,288.2 L669.2,287.9 L669.7,288.3 L670.2,288.2 L670.7,287.4 L671.2,289.3 L671.7,289.5 L672.2,289.9 L672.7,290.2 L673.2,289.6 L673.7,289.2 L674.2,288.6 L674.7,289.1 L675.2,288.7 L675.8,287.8 L676.3,287.8 L676.8,289.2 L677.3,288.1 L677.8,287.7 L678.3,288.4 L678.8,286.8 L679.4,286.5 L679.9,286.8 L680.4,286.4 L680.9,285.4 L681.4,285.0 L681.9,285.1 L682.4,285.7 L682.9,286.0 L683.4,284.4 L683.9,284.8 L684.4,284.5 L684.9,285.0 L685.5,284.9 L686.0,285.3 L686.5,284.4 L687.0,285.0 L687.5,285.5 L688.0,286.2 L688.5,286.8 L689.0,286.2 L689.5,285.5 L690.0,286.8 L690.5,287.2 L691.0,287.6 L691.5,288.1 L692.0,287.5 L692.6,287.7 L693.1,288.0 L693.6,288.3 L694.1,290.2 L694.6,289.5 L695.1,288.3 L695.6,287.1 L696.2,285.2 L696.7,284.2 L697.2,282.3 L697.7,280.2 L698.2,279.6 L698.7,280.6 L699.2,280.0 L699.7,279.8 L700.2,279.8 L700.7,279.5 L701.2,278.5 L701.7,278.7 L702.2,279.5 L702.7,278.7 L703.2,279.7 L703.8,280.3 L704.3,281.1 L704.8,281.5 L705.3,281.4 L705.8,281.1 L706.3,284.2 L706.8,286.9 L707.3,289.5 L707.8,291.5 L708.3,287.7 L708.8,283.3 L709.4,279.0 L709.9,273.5 L710.4,277.2 L710.9,281.0 L711.5,283.3 L712.0,286.4 L712.5,290.3 L713.0,286.5 L713.5,283.8 L714.0,281.1 L714.5,277.3 L715.0,275.1 L715.5,272.1 L716.0,269.9 L716.5,266.5 L717.0,263.0 L717.5,260.0 L718.0,257.2 L718.5,253.3 L719.0,250.9 L719.5,248.9 L720.1,246.6 L720.6,243.9 L721.1,240.3 L721.6,240.0 L722.1,240.0 L722.6,239.6 L723.1,239.2 L723.6,239.9 L724.1,240.1 L724.6,238.6 L725.1,237.3 L725.6,236.9 L726.1,237.4 L726.6,236.2 L727.1,235.4 L727.6,234.7 L728.1,235.7 L728.7,235.1 L729.2,234.9 L729.7,235.7 L730.2,235.5 L730.7,234.7 L731.2,233.5 L731.7,234.2 L732.2,233.9 L732.8,233.3 L733.3,233.2 L733.8,232.5 L734.3,232.5 L734.8,232.3 L735.3,231.2 L735.8,231.3 L736.3,231.3 L736.9,231.7 L737.4,231.4 L737.9,231.8 L738.4,231.1 L738.9,230.6 L739.4,230.7 L739.9,230.7 L740.4,230.2 L740.9,230.5 L741.4,230.9 L741.9,230.6 L742.4,231.1 L742.9,231.0 L743.4,231.4 L743.9,230.2 L744.5,229.1 L745.0,228.1 L745.5,226.6 L746.0,226.9 L746.5,226.1 L747.0,225.6 L747.5,225.0 L748.0,226.1 L748.5,226.5 L749.0,226.1 L749.5,225.2 L750.0,224.2 L750.5,222.9 L751.1,222.9 L751.6,222.8 L752.1,223.9 L752.6,223.4 L753.1,222.2 L753.6,223.2 L754.1,223.2 L754.6,222.5 L755.1,222.1 L755.6,221.9 L756.1,220.8 L756.6,219.8 L757.1,219.5 L757.7,219.4 L758.2,219.1 L758.7,217.7 L759.2,216.8 L759.7,216.6 L760.2,215.9 L760.7,215.4 L761.2,217.4 L761.7,216.6 L762.2,217.3 L762.8,217.5 L763.3,218.6 L763.8,220.5 L764.3,220.9 L764.8,222.0 L765.3,220.2 L765.8,219.6 L766.3,219.6 L766.8,218.3 L767.3,217.0 L767.8,215.5 L768.4,216.1 L768.9,215.2 L769.4,215.2 L769.9,214.2 L770.4,213.3 L770.9,212.9 L771.4,212.4 L771.9,212.6 L772.4,211.5 L772.9,210.8 L773.4,210.7 L773.9,210.1 L774.4,209.9 L774.9,210.2 L775.4,210.0" fill="none" stroke="#8b0000" stroke-width="1.45" stroke-dasharray="1.9 0.9" stroke-linecap="butt" stroke-linejoin="round"/>
<path d="M54.3,394.1 L54.8,395.4 L55.3,394.2 L55.8,392.8 L56.3,393.6 L56.8,394.4 L57.3,394.6 L57.8,394.9 L58.3,394.5 L58.8,393.9 L59.3,393.5 L59.8,393.6 L60.3,393.6 L60.8,394.6 L61.3,395.0 L61.8,393.6 L62.3,394.5 L62.8,394.3 L63.3,395.2 L63.8,396.0 L64.3,395.6 L64.8,393.6 L65.3,394.4 L65.9,393.0 L66.4,394.8 L66.9,394.0 L67.4,393.9 L67.9,395.5 L68.4,393.5 L68.9,393.8 L69.4,393.1 L69.9,393.2 L70.4,393.0 L70.9,394.0 L71.4,393.8 L71.9,394.2 L72.4,394.7 L72.9,393.0 L73.4,394.7 L73.9,394.2 L74.4,392.8 L74.9,392.8 L75.4,394.1 L75.9,394.9 L76.4,394.0 L76.9,394.1 L77.4,394.3 L77.9,395.0 L78.4,394.4 L78.9,395.0 L79.4,393.9 L79.9,393.3 L80.4,394.2 L80.9,394.7 L81.4,394.3 L81.9,394.7 L82.4,394.5 L82.9,394.9 L83.4,395.4 L83.9,395.2 L84.4,395.3 L84.9,394.4 L85.4,393.7 L85.9,391.9 L86.4,393.1 L86.9,393.5 L87.4,394.1 L87.9,392.5 L88.4,392.7 L89.0,392.8 L89.5,391.8 L90.0,393.5 L90.5,394.6 L91.0,393.2 L91.5,393.9 L92.0,395.3 L92.5,393.6 L93.0,394.5 L93.5,395.5 L94.0,396.2 L94.5,394.0 L95.0,393.0 L95.5,393.5 L96.0,394.6 L96.5,393.2 L97.0,392.8 L97.5,392.3 L98.0,393.9 L98.5,393.3 L99.0,394.0 L99.5,394.4 L100.0,395.0 L100.5,394.5 L101.0,394.1 L101.5,394.4 L102.0,393.9 L102.5,392.2 L102.9,391.7 L103.4,392.5 L103.9,392.2 L104.4,391.5 L104.9,391.5 L105.4,393.9 L105.9,392.4 L106.4,391.9 L106.9,391.5 L107.4,390.6 L107.8,391.1 L108.3,391.1 L108.8,390.6 L109.3,388.8 L109.8,389.8 L110.3,389.8 L110.8,388.8 L111.3,385.8 L111.9,386.1 L112.4,385.1 L112.9,385.1 L113.4,384.7 L113.9,383.9 L114.4,384.8 L115.0,384.3 L115.5,384.7 L116.0,382.9 L116.5,382.6 L117.0,383.6 L117.6,383.1 L118.1,381.9 L118.6,381.0 L119.1,380.6 L119.6,380.7 L120.1,381.2 L120.7,381.0 L121.2,381.2 L121.7,381.3 L122.2,380.8 L122.7,381.4 L123.2,381.2 L123.7,380.3 L124.2,379.8 L124.7,379.6 L125.2,378.8 L125.7,377.8 L126.3,378.4 L126.8,378.1 L127.3,378.9 L127.8,378.2 L128.3,378.4 L128.8,378.5 L129.3,378.0 L129.8,378.2 L130.3,377.5 L130.8,377.2 L131.3,378.0 L131.8,378.0 L132.2,377.6 L132.7,376.7 L133.2,377.3 L133.7,378.6 L134.2,375.8 L134.7,376.9 L135.1,376.7 L135.6,377.2 L136.1,377.5 L136.6,376.0 L137.1,377.4 L137.6,376.3 L138.1,376.0 L138.6,376.5 L139.1,376.3 L139.6,376.4 L140.0,375.9 L140.5,375.2 L141.0,375.6 L141.5,375.0 L142.0,376.7 L142.5,376.7 L143.0,377.7 L143.5,376.1 L144.0,374.5 L144.5,373.5 L145.0,374.5 L145.5,374.3 L146.0,375.6 L146.5,374.8 L146.9,374.4 L147.4,375.6 L147.9,375.7 L148.4,376.7 L148.9,377.3 L149.4,377.3 L149.9,376.0 L150.4,375.6 L150.9,377.9 L151.4,377.1 L151.9,377.1 L152.4,376.9 L152.9,376.6 L153.4,376.3 L153.9,375.8 L154.4,375.6 L154.9,374.2 L155.4,376.4 L155.9,376.2 L156.4,375.0 L156.9,375.9 L157.4,376.4 L157.8,375.0 L158.3,374.9 L158.8,376.5 L159.3,376.6 L159.8,376.5 L160.3,376.9 L160.8,376.2 L161.3,375.6 L161.8,376.9 L162.3,376.0 L162.8,375.7 L163.3,376.0 L163.8,375.7 L164.3,374.4 L164.8,376.3 L165.3,375.5 L165.8,376.5 L166.3,375.8 L166.9,374.2 L167.4,375.2 L167.9,374.2 L168.4,373.0 L168.9,372.9 L169.4,371.0 L169.9,371.9 L170.5,371.4 L171.0,371.4 L171.5,370.7 L172.0,371.5 L172.5,371.4 L173.0,371.7 L173.5,372.2 L174.0,371.1 L174.5,370.1 L175.0,369.6 L175.5,368.1 L176.0,367.4 L176.5,367.8 L177.0,366.5 L177.5,364.7 L178.0,364.9 L178.5,365.4 L179.0,366.5 L179.5,365.3 L180.0,364.2 L180.5,364.4 L181.0,364.1 L181.5,364.2 L182.0,363.5 L182.5,363.6 L183.0,362.8 L183.5,363.6 L184.0,363.3 L184.5,363.2 L185.0,362.2 L185.5,360.8 L186.0,361.2 L186.5,361.2 L187.0,362.1 L187.5,362.4 L188.0,361.6 L188.5,361.1 L189.0,359.9 L189.5,360.0 L190.0,360.1 L190.5,359.6 L191.0,358.7 L191.5,360.0 L192.0,358.9 L192.5,360.3 L193.0,360.5 L193.5,360.9 L194.0,359.1 L194.5,359.1 L195.0,357.5 L195.5,357.3 L196.0,356.2 L196.5,356.1 L197.0,356.2 L197.6,357.3 L198.1,358.0 L198.6,357.1 L199.1,356.5 L199.6,355.6 L200.1,354.9 L200.6,353.9 L201.1,354.5 L201.6,355.4 L202.2,354.7 L202.7,355.2 L203.2,354.1 L203.7,353.6 L204.2,353.6 L204.7,354.0 L205.2,352.8 L205.7,352.7 L206.2,351.5 L206.6,349.8 L207.1,347.8 L207.6,347.5 L208.1,346.6 L208.6,347.3 L209.1,346.9 L209.6,346.2 L210.1,348.1 L210.6,349.3 L211.1,347.5 L211.6,348.3 L212.0,350.1 L212.5,350.0 L213.0,350.9 L213.5,352.8 L214.0,353.9 L214.5,354.3 L215.0,354.7 L215.5,353.7 L216.0,355.9 L216.6,355.5 L217.1,356.7 L217.6,355.4 L218.1,355.4 L218.6,355.2 L219.1,354.7 L219.6,354.9 L220.1,354.9 L220.6,355.4 L221.1,355.3 L221.7,355.0 L222.2,355.3 L222.7,356.2 L223.2,355.6 L223.7,355.7 L224.2,355.5 L224.7,353.7 L225.2,353.7 L225.7,353.7 L226.2,353.3 L226.7,353.8 L227.2,353.2 L227.7,354.6 L228.2,354.7 L228.7,356.3 L229.2,356.5 L229.6,355.3 L230.1,355.6 L230.6,356.0 L231.1,355.7 L231.6,355.8 L232.1,355.3 L232.6,355.4 L233.1,356.3 L233.6,356.4 L234.1,357.7 L234.6,355.8 L235.1,355.9 L235.6,356.0 L236.1,357.5 L236.6,358.0 L237.1,357.9 L237.6,357.9 L238.1,358.4 L238.6,357.8 L239.1,356.7 L239.7,356.4 L240.2,355.4 L240.7,355.2 L241.2,355.5 L241.7,354.8 L242.2,354.9 L242.7,354.5 L243.2,353.4 L243.7,352.8 L244.2,354.1 L244.7,354.3 L245.2,355.0 L245.8,354.7 L246.3,354.5 L246.8,354.6 L247.3,354.2 L247.8,355.3 L248.3,355.6 L248.8,355.2 L249.3,353.9 L249.9,353.5 L250.4,353.9 L250.9,354.8 L251.4,354.3 L251.9,353.8 L252.4,353.9 L252.9,353.5 L253.3,352.9 L253.8,351.7 L254.3,352.8 L254.8,352.2 L255.3,351.3 L255.8,351.0 L256.2,349.6 L256.7,348.5 L257.2,347.6 L257.7,348.7 L258.2,347.7 L258.7,348.2 L259.1,347.3 L259.6,346.1 L260.1,346.3 L260.6,345.6 L261.1,344.9 L261.7,346.0 L262.2,345.1 L262.7,343.5 L263.2,343.5 L263.7,342.1 L264.2,342.2 L264.8,339.6 L265.3,340.0 L265.8,338.0 L266.3,336.8 L266.8,336.4 L267.2,334.7 L267.7,332.9 L268.2,332.5 L268.7,331.9 L269.2,330.7 L269.7,331.9 L270.2,330.9 L270.7,330.3 L271.2,330.2 L271.7,330.1 L272.2,330.7 L272.8,326.2 L273.3,324.3 L273.8,322.8 L274.4,320.4 L274.9,326.3 L275.3,331.6 L275.8,338.4 L276.3,339.2 L276.8,340.5 L277.2,340.8 L277.7,342.0 L278.2,343.2 L278.7,343.3 L279.1,345.8 L279.6,346.8 L280.1,346.8 L280.6,347.9 L281.1,349.2 L281.6,349.9 L282.0,350.2 L282.5,351.3 L283.0,351.4 L283.5,351.9 L284.0,354.9 L284.4,357.5 L284.9,359.6 L285.4,361.5 L285.9,362.4 L286.3,361.5 L286.8,361.8 L287.3,363.9 L287.8,362.9 L288.3,362.3 L288.9,362.2 L289.4,362.4 L289.9,360.9 L290.4,361.2 L291.0,361.6 L291.5,359.6 L292.0,361.0 L292.5,361.4 L293.0,360.3 L293.4,361.7 L293.9,361.2 L294.4,360.9 L294.9,361.5 L295.4,358.4 L295.9,358.7 L296.3,359.6 L296.8,360.3 L297.3,359.5 L297.8,358.5 L298.3,357.3 L298.7,356.7 L299.2,355.8 L299.7,353.9 L300.2,354.0 L300.6,353.5 L301.1,353.4 L301.6,353.2 L302.1,353.8 L302.6,354.7 L303.0,355.3 L303.5,355.5 L304.0,355.6 L304.5,356.3 L304.9,356.7 L305.4,357.2 L305.9,358.9 L306.4,357.0 L306.8,354.7 L307.3,351.4 L307.8,350.1 L308.3,347.8 L308.8,349.3 L309.2,349.8 L309.7,348.6 L310.2,347.5 L310.7,347.2 L311.2,346.8 L311.7,344.3 L312.1,343.8 L312.6,343.0 L313.1,341.5 L313.6,342.1 L314.0,341.3 L314.5,339.3 L315.0,338.1 L315.4,336.5 L315.9,335.1 L316.3,331.6 L316.8,329.1 L317.2,325.4 L317.7,321.4 L318.2,319.6 L318.7,319.8 L319.2,317.8 L319.7,315.1 L320.2,315.7 L320.7,318.4 L321.2,315.9 L321.7,315.6 L322.2,315.5 L322.7,317.8 L323.2,318.0 L323.8,315.4 L324.3,319.0 L324.8,318.2 L325.3,316.5 L325.8,316.3 L326.3,317.3 L326.8,319.6 L327.3,318.9 L327.9,318.0 L328.4,320.9 L328.9,323.1 L329.4,321.4 L329.9,321.4 L330.4,321.3 L330.9,320.0 L331.4,318.1 L331.9,320.1 L332.4,317.6 L332.9,314.9 L333.5,317.1 L334.0,319.1 L334.5,319.5 L335.0,317.0 L335.5,316.4 L336.0,314.5 L336.5,314.1 L337.0,310.6 L337.5,311.1 L338.0,314.7 L338.5,312.5 L339.1,315.7 L339.6,314.7 L340.1,310.6 L340.6,312.8 L341.1,310.8 L341.6,311.9 L342.1,311.2 L342.6,311.2 L343.1,311.8 L343.6,310.4 L344.1,310.9 L344.6,311.9 L345.1,316.2 L345.7,315.0 L346.2,316.0 L346.7,317.0 L347.2,319.0 L347.7,318.0 L348.2,318.4 L348.7,314.0 L349.2,315.9 L349.7,309.4 L350.2,307.5 L350.8,304.3 L351.3,302.2 L351.8,298.8 L352.3,295.9 L352.8,301.6 L353.3,306.3 L353.8,308.9 L354.3,311.8 L354.8,312.2 L355.3,312.1 L355.8,313.0 L356.3,314.1 L356.8,314.4 L357.3,311.4 L357.8,312.2 L358.4,311.2 L358.9,313.2 L359.4,313.2 L359.9,314.3 L360.4,314.4 L360.9,316.2 L361.4,318.0 L361.9,317.2 L362.4,314.2 L362.9,313.5 L363.4,315.8 L363.9,312.2 L364.4,310.6 L365.0,313.2 L365.5,312.8 L366.0,310.4 L366.5,307.8 L367.0,300.2 L367.5,298.9 L368.0,295.1 L368.6,286.8 L369.1,282.9 L369.6,278.7 L370.1,274.6 L370.6,269.4 L371.1,271.6 L371.6,266.4 L372.1,266.2 L372.6,263.7 L373.1,260.2 L373.6,257.9 L374.1,267.1 L374.6,273.6 L375.1,281.7 L375.6,292.6 L376.1,297.5 L376.6,301.2 L377.2,302.4 L377.7,304.3 L378.2,308.9 L378.7,311.7 L379.2,312.1 L379.7,312.6 L380.2,312.0 L380.8,313.4 L381.3,315.6 L381.8,316.6 L382.3,315.3 L382.8,316.5 L383.3,315.0 L383.8,314.7 L384.3,312.9 L384.8,309.7 L385.3,309.9 L385.8,311.9 L386.3,311.3 L386.8,313.0 L387.3,315.4 L387.9,319.4 L388.4,321.8 L388.9,327.5 L389.4,325.9 L389.9,325.6 L390.4,327.2 L390.9,328.5 L391.4,324.9 L391.9,327.1 L392.5,324.1 L393.0,322.6 L393.5,321.9 L394.0,324.4 L394.5,322.3 L395.0,323.8 L395.5,325.2 L396.0,325.3 L396.5,326.8 L397.0,330.5 L397.5,332.2 L398.0,329.5 L398.5,330.1 L399.0,329.8 L399.5,329.3 L400.0,328.3 L400.5,329.4 L401.1,327.6 L401.6,325.9 L402.1,326.9 L402.6,327.8 L403.1,329.6 L403.6,330.4 L404.1,328.6 L404.6,327.7 L405.2,329.5 L405.7,330.6 L406.2,332.1 L406.7,334.2 L407.2,329.8 L407.7,330.3 L408.2,332.6 L408.7,331.5 L409.2,335.5 L409.8,335.2 L410.3,336.3 L410.8,335.8 L411.3,336.7 L411.8,336.4 L412.3,336.1 L412.9,332.6 L413.4,329.5 L413.9,330.5 L414.4,332.1 L415.0,331.0 L415.5,330.3 L416.0,331.6 L416.5,331.0 L417.0,327.8 L417.5,327.3 L418.0,326.1 L418.4,325.4 L418.9,324.4 L419.4,324.4 L419.9,323.1 L420.4,322.5 L420.9,320.3 L421.4,317.9 L421.8,315.1 L422.3,314.0 L422.8,312.9 L423.3,313.2 L423.7,313.9 L424.2,308.4 L424.7,304.6 L425.2,313.3 L425.8,318.8 L426.3,325.9 L426.9,330.7 L427.5,338.5 L428.1,342.2 L428.7,347.6 L429.2,348.9 L429.8,352.5 L430.3,355.8 L430.9,355.4 L431.4,357.1 L431.9,362.3 L432.5,360.3 L433.0,362.4 L433.5,360.7 L434.0,364.2 L434.5,365.9 L435.0,366.0 L435.4,366.6 L435.9,371.5 L436.4,373.9 L436.9,373.0 L437.4,376.3 L437.9,376.0 L438.4,376.2 L438.8,378.6 L439.3,379.5 L439.8,381.5 L440.3,383.0 L440.7,382.8 L441.2,384.1 L441.7,384.6 L442.2,383.6 L442.7,385.2 L443.2,386.4 L443.7,385.5 L444.2,386.0 L444.7,387.6 L445.2,388.6 L445.8,388.4 L446.3,388.6 L446.8,388.9 L447.3,388.5 L447.8,389.6 L448.3,392.1 L448.8,390.8 L449.3,391.5 L449.8,389.9 L450.2,390.5 L450.7,388.0 L451.2,388.2 L451.7,387.5 L452.1,385.7 L452.6,384.7 L453.1,384.8 L453.6,386.0 L454.1,385.5 L454.6,385.8 L455.1,385.8 L455.6,385.0 L456.1,384.3 L456.6,383.8 L457.1,386.6 L457.6,388.7 L458.1,390.2 L458.6,390.5 L459.1,391.7 L459.6,393.0 L460.1,393.2 L460.5,392.7 L461.0,392.6 L461.5,394.3 L462.0,395.9 L462.5,396.8 L462.9,398.4 L463.4,397.1 L463.9,396.5 L464.4,397.7 L464.9,399.1 L465.4,398.6 L465.9,399.4 L466.4,400.0 L466.8,399.9 L467.3,399.7 L467.8,400.1 L468.3,400.7 L468.8,401.8 L469.3,401.7 L469.8,401.3 L470.3,401.1 L470.8,401.7 L471.2,402.9 L471.7,402.6 L472.2,403.0 L472.7,404.0 L473.2,404.6 L473.7,406.4 L474.2,405.3 L474.6,404.5 L475.1,405.0 L475.6,401.7 L476.1,399.7 L476.5,399.1 L477.0,399.2 L477.5,400.8 L478.0,401.5 L478.5,401.1 L479.0,400.3 L479.4,401.5 L479.9,401.8 L480.4,401.6 L480.9,401.5 L481.4,403.1 L481.9,403.4 L482.4,403.5 L482.9,403.2 L483.4,402.5 L483.9,402.1 L484.4,401.8 L484.9,401.9 L485.4,401.3 L485.9,402.8 L486.4,402.6 L486.9,403.7 L487.4,404.5 L487.9,405.6 L488.3,403.5 L488.8,405.6 L489.3,406.7 L489.8,407.0 L490.3,407.5 L490.8,408.0 L491.3,407.7 L491.8,411.4 L492.3,411.2 L492.8,411.9 L493.3,411.3 L493.8,411.8 L494.2,410.9 L494.7,412.5 L495.2,413.0 L495.7,414.3 L496.2,415.6 L496.7,417.4 L497.2,417.7 L497.7,416.9 L498.2,417.1 L498.7,418.3 L499.2,420.1 L499.7,417.9 L500.1,417.7 L500.6,418.3 L501.1,419.2 L501.6,420.5 L502.1,422.0 L502.6,422.4 L503.1,422.7 L503.6,421.0 L504.1,419.7 L504.6,418.2 L505.1,417.9 L505.5,418.7 L506.0,418.4 L506.5,419.7 L507.0,418.3 L507.5,416.9 L508.0,417.1 L508.5,415.1 L509.0,416.2 L509.5,416.2 L510.0,414.7 L510.5,415.2 L511.0,415.2 L511.4,415.9 L511.9,414.9 L512.4,414.0 L512.9,413.8 L513.4,413.4 L513.9,412.4 L514.4,413.2 L514.9,414.1 L515.4,413.4 L515.9,413.2 L516.4,412.8 L516.9,413.2 L517.3,413.4 L517.8,414.1 L518.3,415.2 L518.8,416.6 L519.3,415.5 L519.8,415.1 L520.3,413.9 L520.8,413.8 L521.2,414.2 L521.7,412.8 L522.2,412.4 L522.7,411.2 L523.1,409.9 L523.6,409.7 L524.1,410.3 L524.6,410.6 L525.1,409.8 L525.6,410.2 L526.1,411.2 L526.6,413.7 L527.0,412.9 L527.5,415.8 L528.0,416.1 L528.5,416.8 L529.0,417.1 L529.5,414.7 L530.0,415.4 L530.5,415.9 L530.9,416.5 L531.4,417.5 L531.9,417.0 L532.4,416.2 L532.8,416.8 L533.3,417.0 L533.8,417.3 L534.3,416.0 L534.8,415.3 L535.2,412.2 L535.7,412.8 L536.2,413.5 L536.7,412.8 L537.1,411.9 L537.6,411.7 L538.1,410.5 L538.7,407.5 L539.2,406.1 L539.8,404.0 L540.3,403.5 L540.8,405.1 L541.4,407.6 L541.9,410.1 L542.4,410.9 L542.9,410.8 L543.4,411.9 L543.8,412.9 L544.3,411.8 L544.8,411.8 L545.3,411.9 L545.7,413.1 L546.2,413.3 L546.7,413.4 L547.2,415.0 L547.7,415.1 L548.1,414.8 L548.6,416.0 L549.1,416.8 L549.6,417.3 L550.0,418.1 L550.5,417.5 L551.0,415.3 L551.5,415.3 L552.1,415.8 L552.6,415.8 L553.1,416.5 L553.7,416.5 L554.2,417.9 L554.7,418.9 L555.3,420.5 L555.8,422.2 L556.3,424.0 L556.9,424.0 L557.4,426.3 L557.9,425.9 L558.4,424.2 L558.8,426.5 L559.3,426.8 L559.8,427.9 L560.3,426.8 L560.7,427.7 L561.2,427.3 L561.7,429.7 L562.2,430.2 L562.7,429.1 L563.2,426.7 L563.7,427.3 L564.2,427.9 L564.7,427.8 L565.2,428.2 L565.7,427.9 L566.3,428.4 L566.8,428.6 L567.3,427.7 L567.8,428.5 L568.3,428.7 L568.8,428.3 L569.3,427.6 L569.8,427.0 L570.3,429.3 L570.8,431.1 L571.3,431.0 L571.7,430.2 L572.2,430.9 L572.7,430.3 L573.2,430.0 L573.6,429.2 L574.1,430.2 L574.6,430.8 L575.1,432.7 L575.6,433.3 L576.1,432.9 L576.6,433.1 L577.1,433.5 L577.6,434.0 L578.1,434.4 L578.6,435.8 L579.1,434.5 L579.6,435.3 L580.1,435.9 L580.6,436.9 L581.1,436.9 L581.6,435.8 L582.1,436.5 L582.5,437.0 L583.0,435.6 L583.5,436.2 L584.0,437.7 L584.4,435.9 L584.9,435.7 L585.4,432.9 L585.9,433.3 L586.4,432.4 L586.8,432.8 L587.3,432.2 L587.8,432.1 L588.3,432.5 L588.7,432.4 L589.2,432.1 L589.7,430.4 L590.2,430.3 L590.8,430.5 L591.3,430.3 L591.8,430.0 L592.4,430.6 L592.9,431.4 L593.4,430.7 L593.9,429.3 L594.3,430.1 L594.8,429.0 L595.3,430.1 L595.8,429.3 L596.2,428.6 L596.7,428.8 L597.2,427.8 L597.7,426.8 L598.2,427.5 L598.7,426.4 L599.2,427.8 L599.7,428.6 L600.1,429.5 L600.6,429.8 L601.1,431.6 L601.6,431.5 L602.1,431.0 L602.6,433.7 L603.1,432.8 L603.6,432.9 L604.1,432.3 L604.6,432.0 L605.1,432.0 L605.6,431.7 L606.0,432.0 L606.5,432.1 L607.0,432.0 L607.5,431.8 L608.0,432.1 L608.5,430.7 L609.0,432.2 L609.5,430.5 L610.0,431.5 L610.5,432.2 L611.0,432.1 L611.5,432.6 L612.0,434.4 L612.5,434.0 L613.0,433.2 L613.6,433.5 L614.1,432.8 L614.6,431.5 L615.1,431.6 L615.6,432.8 L616.1,432.8 L616.6,433.4 L617.1,433.9 L617.6,432.0 L618.1,431.8 L618.6,432.4 L619.0,432.6 L619.5,434.4 L620.0,434.4 L620.5,434.5 L620.9,436.7 L621.4,436.0 L621.9,435.8 L622.4,437.5 L622.9,437.5 L623.4,437.3 L623.9,437.8 L624.4,437.1 L624.9,437.0 L625.4,436.9 L625.9,438.1 L626.4,437.7 L626.9,436.5 L627.4,435.8 L627.9,436.9 L628.4,436.0 L628.9,435.2 L629.4,435.2 L629.9,434.3 L630.4,435.2 L630.9,437.0 L631.3,437.8 L631.8,436.7 L632.3,437.0 L632.8,436.0 L633.3,435.2 L633.8,435.1 L634.3,433.0 L634.7,430.6 L635.2,428.8 L635.7,426.8 L636.1,425.4 L636.6,424.5 L637.1,425.0 L637.6,426.7 L638.1,428.0 L638.6,431.8 L639.1,434.0 L639.6,434.2 L640.1,433.4 L640.5,434.8 L641.0,434.0 L641.5,433.3 L642.0,433.8 L642.4,435.9 L642.9,436.1 L643.4,436.1 L643.9,435.8 L644.4,437.0 L644.9,436.3 L645.4,436.1 L645.9,437.0 L646.4,437.7 L646.9,437.5 L647.4,437.9 L648.0,438.1 L648.5,436.4 L649.0,437.1 L649.5,437.0 L650.0,437.5 L650.5,437.8 L651.0,438.3 L651.5,439.1 L652.0,438.1 L652.5,437.9 L653.0,438.0 L653.5,438.5 L654.0,437.6 L654.5,438.5 L655.0,439.6 L655.5,439.2 L656.0,438.1 L656.5,439.6 L657.0,441.0 L657.5,441.1 L658.0,442.1 L658.5,442.4 L659.0,441.6 L659.5,441.2 L660.0,443.1 L660.5,442.9 L661.0,441.9 L661.5,442.9 L662.0,441.9 L662.5,441.7 L663.0,443.2 L663.5,443.8 L664.0,443.1 L664.5,444.0 L665.0,444.4 L665.5,442.4 L666.1,443.1 L666.6,444.4 L667.1,444.7 L667.6,443.9 L668.1,445.1 L668.6,444.8 L669.1,445.8 L669.6,446.1 L670.1,447.0 L670.6,445.3 L671.1,446.2 L671.5,444.7 L672.0,443.6 L672.5,442.5 L673.0,441.9 L673.4,441.6 L673.9,440.8 L674.4,440.8 L674.9,441.3 L675.4,441.0 L675.9,441.1 L676.4,441.4 L676.9,442.2 L677.4,443.1 L677.9,441.9 L678.4,442.6 L679.0,443.1 L679.5,441.8 L680.0,442.6 L680.5,444.1 L681.0,443.3 L681.5,442.4 L682.0,441.2 L682.5,442.4 L683.0,442.9 L683.5,442.6 L684.0,443.1 L684.5,441.4 L685.0,441.2 L685.5,442.3 L686.0,442.6 L686.5,440.7 L687.0,438.5 L687.5,438.8 L688.0,438.8 L688.5,438.4 L689.0,437.1 L689.5,437.4 L690.0,435.5 L690.5,433.2 L690.9,431.6 L691.4,431.3 L691.9,430.5 L692.4,428.2 L692.8,428.3 L693.3,428.9 L693.8,425.2 L694.4,424.2 L694.9,421.1 L695.5,416.1 L696.0,420.2 L696.5,421.9 L697.1,424.7 L697.6,426.8 L698.1,426.4 L698.6,428.6 L699.2,432.6 L699.7,435.4 L700.2,435.0 L700.8,438.0 L701.3,440.1 L701.8,439.7 L702.4,439.4 L702.9,438.0 L703.4,436.0 L704.0,433.4 L704.5,430.3 L705.0,424.9 L705.5,422.0 L706.0,420.3 L706.5,417.9 L706.9,413.3 L707.4,407.4 L707.9,404.4 L708.4,400.3 L708.9,406.9 L709.4,410.5 L709.9,415.1 L710.4,413.3 L710.8,411.0 L711.3,409.2 L711.8,407.8 L712.2,405.1 L712.7,403.7 L713.2,407.3 L713.7,413.2 L714.2,421.8 L714.7,424.3 L715.2,426.1 L715.8,429.6 L716.3,432.9 L716.8,434.4 L717.2,438.2 L717.7,441.6 L718.2,441.5 L718.7,441.9 L719.1,445.2 L719.6,447.9 L720.2,452.8 L720.7,459.1 L721.3,463.7 L721.8,466.4 L722.3,466.8 L722.9,468.0 L723.4,469.7 L723.9,469.2 L724.4,469.5 L724.9,469.6 L725.4,470.1 L725.9,469.0 L726.4,467.1 L726.9,467.2 L727.3,468.0 L727.8,468.1 L728.3,468.3 L728.8,469.2 L729.3,469.2 L729.8,469.1 L730.3,468.4 L730.8,467.0 L731.3,466.8 L731.8,466.6 L732.3,465.8 L732.8,466.2 L733.3,465.8 L733.8,465.2 L734.3,464.6 L734.8,463.7 L735.3,465.9 L735.8,465.1 L736.3,464.6 L736.8,462.9 L737.3,464.6 L737.8,466.2 L738.2,467.6 L738.7,467.8 L739.2,468.0 L739.7,471.2 L740.1,471.3 L740.6,472.3 L741.1,473.0 L741.6,473.2 L742.1,474.7 L742.5,474.9 L743.0,475.4 L743.5,476.4 L744.0,476.6 L744.4,476.2 L744.9,475.3 L745.4,476.5 L745.9,475.1 L746.5,472.8 L747.0,472.7 L747.5,473.2 L748.1,472.3 L748.6,470.8 L749.1,472.1 L749.6,472.3 L750.1,471.3 L750.6,472.1 L751.1,473.1 L751.5,473.2 L752.0,473.0 L752.5,472.9 L753.0,475.3 L753.5,476.3 L754.0,475.8 L754.5,476.5 L755.0,475.6 L755.5,474.1 L756.0,473.2 L756.5,473.6 L756.9,473.9 L757.4,473.6 L757.9,472.4 L758.4,469.7 L758.9,469.1 L759.4,469.9 L759.9,468.7 L760.4,467.7 L760.8,466.8 L761.3,465.4 L761.8,467.2 L762.3,465.1 L762.7,464.5 L763.2,465.1 L763.7,465.4 L764.2,466.7 L764.7,466.2 L765.1,466.8 L765.6,469.0 L766.1,468.3 L766.6,469.1 L767.1,468.9 L767.6,468.3 L768.0,468.9 L768.5,469.4 L769.0,471.4 L769.5,472.8 L770.0,474.9 L770.5,473.8 L771.0,473.9 L771.5,475.0 L771.9,474.9 L772.4,474.8 L772.9,475.7 L773.4,477.4 L773.9,477.2 L774.4,479.4" fill="none" stroke="#d2691e" stroke-width="1.45" stroke-dasharray="1.9 0.9" stroke-linecap="butt" stroke-linejoin="round"/>
<path d="M54.3,395.2 L54.8,395.5 L55.3,393.8 L55.8,392.5 L56.3,393.2 L56.8,394.2 L57.3,394.1 L57.8,393.0 L58.3,393.2 L58.8,394.8 L59.3,393.4 L59.8,394.6 L60.3,394.9 L60.8,395.0 L61.3,395.3 L61.8,394.4 L62.3,394.2 L62.8,395.7 L63.3,394.7 L63.8,394.2 L64.3,393.1 L64.8,393.3 L65.3,394.3 L65.9,395.3 L66.4,395.4 L66.9,395.4 L67.4,395.4 L67.9,395.1 L68.4,395.6 L68.9,394.9 L69.4,395.5 L69.9,394.9 L70.4,393.4 L70.9,392.8 L71.4,393.3 L71.9,393.4 L72.4,392.9 L72.9,392.9 L73.4,393.7 L73.9,394.3 L74.4,395.0 L74.9,394.0 L75.4,394.5 L75.9,395.2 L76.4,395.1 L76.9,396.2 L77.4,395.0 L77.9,394.7 L78.4,394.7 L78.9,394.2 L79.4,394.3 L79.9,394.5 L80.4,394.4 L80.9,394.0 L81.4,393.8 L81.9,394.0 L82.4,393.0 L82.9,393.8 L83.4,393.2 L83.9,393.5 L84.4,393.1 L84.9,393.8 L85.4,393.8 L85.9,393.8 L86.4,393.5 L86.9,394.0 L87.4,395.5 L87.9,393.6 L88.4,394.4 L89.0,394.6 L89.5,394.2 L90.0,393.3 L90.5,395.1 L91.0,394.9 L91.5,395.5 L92.0,394.7 L92.5,394.0 L93.0,395.1 L93.5,395.4 L94.0,394.7 L94.5,394.4 L95.0,394.9 L95.5,394.1 L96.0,393.6 L96.5,394.0 L97.0,395.0 L97.5,395.4 L98.0,395.2 L98.5,395.9 L99.0,395.2 L99.5,394.5 L100.0,396.3 L100.5,395.4 L101.0,395.8 L101.5,396.1 L102.0,396.1 L102.5,396.2 L103.0,396.8 L103.5,397.1 L104.0,396.5 L104.5,396.7 L105.0,398.0 L105.5,398.4 L106.0,397.7 L106.5,397.9 L107.1,397.3 L107.6,396.8 L108.1,397.2 L108.6,399.2 L109.1,398.7 L109.6,397.5 L110.1,398.4 L110.6,398.5 L111.1,399.8 L111.6,401.0 L112.1,400.6 L112.6,400.8 L113.1,400.3 L113.6,401.7 L114.1,401.1 L114.5,401.4 L115.0,403.6 L115.5,402.3 L116.0,402.5 L116.5,402.6 L117.0,403.2 L117.5,403.6 L117.9,404.7 L118.4,404.7 L118.9,404.9 L119.4,403.5 L119.9,404.1 L120.4,403.2 L120.9,404.7 L121.4,404.6 L121.9,405.5 L122.4,404.8 L122.9,405.1 L123.4,405.2 L123.9,405.7 L124.4,405.5 L124.9,405.1 L125.4,405.1 L125.9,405.0 L126.4,404.8 L126.9,404.5 L127.4,404.2 L127.9,406.7 L128.4,406.1 L128.9,405.6 L129.4,407.0 L129.9,407.2 L130.4,407.2 L131.0,408.2 L131.5,409.3 L132.0,407.9 L132.5,409.0 L133.0,409.0 L133.5,409.5 L134.0,408.6 L134.6,409.8 L135.1,410.2 L135.6,407.5 L136.1,409.1 L136.6,410.3 L137.1,408.9 L137.6,409.6 L138.2,409.6 L138.7,410.1 L139.2,409.7 L139.7,410.7 L140.2,411.5 L140.7,411.3 L141.2,411.4 L141.8,410.3 L142.3,411.5 L142.8,410.9 L143.3,411.7 L143.8,411.5 L144.3,414.0 L144.8,413.5 L145.3,414.4 L145.8,413.8 L146.3,413.4 L146.8,413.9 L147.3,413.6 L147.8,415.4 L148.3,414.4 L148.8,415.3 L149.3,413.7 L149.8,413.1 L150.3,414.0 L150.8,413.0 L151.3,415.1 L151.8,415.2 L152.3,414.9 L152.8,416.1 L153.3,415.1 L153.8,414.2 L154.3,412.3 L154.8,411.7 L155.3,412.7 L155.8,411.8 L156.3,413.5 L156.8,414.6 L157.3,414.8 L157.8,413.3 L158.3,413.0 L158.8,412.4 L159.3,413.8 L159.8,414.7 L160.3,414.2 L160.8,414.2 L161.3,414.3 L161.8,414.7 L162.3,413.7 L162.8,413.0 L163.3,414.0 L163.8,414.3 L164.3,414.5 L164.8,414.2 L165.3,414.4 L165.8,414.1 L166.3,412.9 L166.8,414.0 L167.3,414.0 L167.8,412.8 L168.3,412.1 L168.8,411.2 L169.3,410.0 L169.8,409.4 L170.3,408.7 L170.8,408.8 L171.3,410.6 L171.9,411.7 L172.4,411.5 L172.9,412.8 L173.4,413.5 L173.9,413.9 L174.5,416.2 L175.0,416.2 L175.5,417.5 L176.0,416.4 L176.5,417.5 L177.0,417.5 L177.5,418.9 L178.0,419.4 L178.5,418.9 L179.0,419.9 L179.5,421.1 L180.0,421.9 L180.5,422.7 L181.0,421.8 L181.5,423.4 L182.0,422.1 L182.5,421.9 L183.0,420.7 L183.5,421.2 L184.0,420.6 L184.4,421.6 L184.9,420.8 L185.4,423.2 L185.9,423.8 L186.4,424.9 L186.9,425.2 L187.4,423.3 L187.9,422.0 L188.3,420.5 L188.8,417.5 L189.3,415.9 L189.8,415.0 L190.2,415.1 L190.7,412.8 L191.2,412.2 L191.7,415.2 L192.2,419.3 L192.8,423.0 L193.3,425.1 L193.8,424.9 L194.2,427.1 L194.7,428.2 L195.2,428.2 L195.7,429.1 L196.1,429.2 L196.6,429.8 L197.1,429.0 L197.6,429.2 L198.1,430.0 L198.6,430.2 L199.1,430.1 L199.6,429.0 L200.0,429.0 L200.5,427.8 L201.0,427.1 L201.5,427.0 L202.0,425.8 L202.5,426.1 L203.0,424.6 L203.5,426.3 L204.0,426.5 L204.5,426.0 L205.0,424.8 L205.5,424.1 L206.0,423.8 L206.5,422.4 L207.0,422.6 L207.5,422.1 L208.0,423.1 L208.5,423.9 L209.0,424.3 L209.5,422.2 L210.0,422.1 L210.6,424.6 L211.1,425.9 L211.6,427.2 L212.2,428.0 L212.7,428.5 L213.2,429.9 L213.7,429.6 L214.2,429.4 L214.7,427.9 L215.3,428.1 L215.8,429.2 L216.3,429.1 L216.8,429.4 L217.3,428.7 L217.8,429.1 L218.3,428.3 L218.8,428.2 L219.3,429.2 L219.8,430.2 L220.4,429.2 L220.9,428.8 L221.4,428.6 L221.9,428.5 L222.4,428.7 L222.9,429.2 L223.4,428.9 L223.9,428.3 L224.4,428.3 L224.9,426.4 L225.4,426.5 L225.8,428.2 L226.3,426.6 L226.8,426.0 L227.3,426.2 L227.8,426.8 L228.3,426.0 L228.8,424.8 L229.3,426.7 L229.8,424.8 L230.3,425.0 L230.8,425.4 L231.3,424.5 L231.7,427.1 L232.2,429.2 L232.7,427.7 L233.2,427.9 L233.7,428.3 L234.2,429.4 L234.7,429.0 L235.2,429.3 L235.7,429.3 L236.2,428.8 L236.7,428.5 L237.1,429.4 L237.6,428.9 L238.1,428.9 L238.6,428.3 L239.1,428.5 L239.6,429.2 L240.1,428.4 L240.6,427.4 L241.1,426.5 L241.6,427.4 L242.1,426.4 L242.6,426.8 L243.1,428.6 L243.5,427.6 L244.0,428.3 L244.5,427.2 L245.0,426.4 L245.5,426.5 L246.0,425.3 L246.5,423.5 L247.0,424.5 L247.5,424.5 L248.0,425.4 L248.5,427.2 L249.0,427.2 L249.5,425.6 L250.0,426.2 L250.5,424.9 L251.0,423.9 L251.5,426.8 L252.0,426.0 L252.5,424.5 L253.0,425.2 L253.5,425.3 L254.0,425.8 L254.5,425.4 L255.0,425.1 L255.5,425.6 L255.9,425.0 L256.4,424.1 L256.9,424.4 L257.4,423.6 L257.9,424.5 L258.4,424.0 L258.9,423.4 L259.4,422.3 L259.9,422.2 L260.3,422.2 L260.8,420.8 L261.3,418.2 L261.8,418.8 L262.2,417.6 L262.7,417.7 L263.2,416.5 L263.7,416.9 L264.2,416.5 L264.6,415.8 L265.1,415.0 L265.6,415.4 L266.1,415.8 L266.5,414.6 L267.0,413.2 L267.5,414.5 L268.0,416.3 L268.4,414.5 L268.9,413.7 L269.4,412.4 L269.9,411.2 L270.3,412.5 L270.8,410.4 L271.3,407.5 L271.8,403.6 L272.3,400.9 L272.9,398.9 L273.5,395.2 L274.0,395.5 L274.6,397.2 L275.1,397.4 L275.6,396.7 L276.1,399.3 L276.7,399.7 L277.2,400.9 L277.7,403.7 L278.3,404.7 L278.8,405.3 L279.3,407.1 L279.9,406.6 L280.4,406.1 L280.9,406.3 L281.4,407.7 L281.8,408.8 L282.3,409.0 L282.8,411.6 L283.3,412.3 L283.7,412.4 L284.2,412.0 L284.7,412.6 L285.2,413.4 L285.7,413.7 L286.1,416.7 L286.6,417.7 L287.1,417.6 L287.6,417.4 L288.0,416.1 L288.5,417.9 L289.0,417.7 L289.5,418.4 L290.0,418.1 L290.4,416.3 L290.9,416.3 L291.4,415.9 L291.9,415.5 L292.3,415.2 L292.8,415.1 L293.3,414.6 L293.8,415.6 L294.3,416.0 L294.7,415.8 L295.2,415.8 L295.7,415.7 L296.2,415.8 L296.6,416.1 L297.1,416.7 L297.6,416.7 L298.1,414.8 L298.6,415.2 L299.0,414.3 L299.5,414.4 L300.0,416.2 L300.5,415.8 L300.9,412.6 L301.4,411.1 L301.9,412.4 L302.4,412.2 L302.9,411.6 L303.3,411.4 L303.8,412.6 L304.3,413.0 L304.8,414.0 L305.2,414.4 L305.7,415.1 L306.2,415.3 L306.7,414.4 L307.2,414.9 L307.6,415.7 L308.1,413.9 L308.6,413.3 L309.1,414.6 L309.5,412.5 L310.0,411.1 L310.5,411.5 L311.0,411.9 L311.5,411.2 L311.9,411.6 L312.4,410.6 L312.9,410.2 L313.4,409.6 L313.8,409.4 L314.3,408.9 L314.8,409.6 L315.4,408.8 L315.9,408.7 L316.4,406.9 L317.0,405.0 L317.5,413.1 L318.0,421.7 L318.5,422.4 L319.0,422.1 L319.5,422.6 L320.0,423.1 L320.5,422.0 L320.9,421.3 L321.4,423.2 L321.9,422.7 L322.4,424.5 L322.9,423.7 L323.4,422.5 L323.9,422.5 L324.4,423.1 L324.8,426.5 L325.3,425.0 L325.8,424.0 L326.3,424.9 L326.7,426.5 L327.2,429.4 L327.7,430.2 L328.2,428.9 L328.7,430.3 L329.1,430.9 L329.6,429.7 L330.1,430.1 L330.6,430.2 L331.0,429.9 L331.5,429.5 L332.0,429.2 L332.4,427.5 L332.9,424.6 L333.4,423.0 L333.8,421.0 L334.3,420.6 L334.8,422.6 L335.3,423.8 L335.8,425.9 L336.3,426.6 L336.8,427.5 L337.3,427.6 L337.8,427.7 L338.3,427.4 L338.8,425.6 L339.3,425.6 L339.8,426.5 L340.2,426.8 L340.7,426.6 L341.2,426.0 L341.7,425.5 L342.2,424.2 L342.7,423.0 L343.2,423.6 L343.7,424.7 L344.2,424.9 L344.7,425.0 L345.1,425.5 L345.6,427.1 L346.1,426.7 L346.6,427.0 L347.1,427.7 L347.6,428.9 L348.0,429.1 L348.5,428.7 L349.0,428.7 L349.6,424.4 L350.1,421.3 L350.6,418.9 L351.2,415.4 L351.8,412.2 L352.3,408.8 L352.8,409.1 L353.3,410.2 L353.8,410.8 L354.3,411.1 L354.8,411.6 L355.3,412.3 L355.7,411.9 L356.2,412.1 L356.7,410.3 L357.2,411.4 L357.7,411.3 L358.2,411.8 L358.7,411.1 L359.2,411.0 L359.7,410.1 L360.2,410.3 L360.7,408.8 L361.2,411.2 L361.7,410.2 L362.2,410.3 L362.7,409.0 L363.2,409.0 L363.7,407.9 L364.2,407.0 L364.7,408.5 L365.2,407.4 L365.7,405.3 L366.1,405.1 L366.6,408.9 L367.1,408.7 L367.5,407.0 L368.0,405.7 L368.5,404.0 L369.0,402.6 L369.5,404.1 L370.0,403.1 L370.5,397.9 L371.0,390.5 L371.5,386.3 L372.0,384.4 L372.5,380.7 L373.0,378.6 L373.5,374.7 L374.0,384.0 L374.5,392.9 L375.0,400.0 L375.5,398.2 L376.0,398.9 L376.5,398.7 L377.0,398.4 L377.5,399.9 L378.0,402.6 L378.5,401.7 L379.0,401.2 L379.5,399.9 L380.0,401.5 L380.5,402.1 L381.0,402.3 L381.5,404.6 L382.0,403.7 L382.5,404.4 L383.0,402.5 L383.5,402.6 L384.0,400.7 L384.5,402.2 L385.0,404.0 L385.5,401.2 L386.0,399.7 L386.5,400.6 L387.0,400.7 L387.5,402.0 L388.0,397.1 L388.5,397.6 L389.0,399.7 L389.5,400.3 L390.0,398.5 L390.5,400.3 L391.0,400.3 L391.5,400.1 L392.0,399.6 L392.5,399.4 L393.0,400.4 L393.5,397.7 L394.0,392.9 L394.5,396.8 L395.0,393.9 L395.5,396.5 L396.0,397.6 L396.5,398.4 L397.0,396.4 L397.5,397.7 L398.0,396.9 L398.5,396.0 L399.0,395.8 L399.5,394.5 L400.0,397.6 L400.5,395.5 L401.0,395.2 L401.5,394.4 L402.0,394.6 L402.5,394.3 L403.0,393.5 L403.5,393.4 L404.0,393.3 L404.5,393.2 L405.0,394.3 L405.5,392.8 L406.0,391.8 L406.5,392.0 L407.0,390.9 L407.4,391.0 L407.9,391.1 L408.4,386.5 L408.9,387.4 L409.4,387.0 L409.9,384.6 L410.4,383.6 L410.9,382.2 L411.4,384.9 L412.0,386.2 L412.5,384.7 L413.0,383.2 L413.5,380.4 L414.0,383.6 L414.5,384.0 L415.1,381.8 L415.6,378.5 L416.1,377.3 L416.6,375.7 L417.1,373.6 L417.6,372.3 L418.1,371.6 L418.5,371.3 L419.0,372.6 L419.5,370.8 L420.0,371.8 L420.5,371.0 L421.0,371.3 L421.5,371.5 L422.0,372.6 L422.5,370.5 L423.0,366.5 L423.5,364.1 L424.0,367.0 L424.5,368.9 L425.0,374.3 L425.5,381.7 L426.0,386.5 L426.5,387.3 L427.0,390.1 L427.5,390.5 L428.0,389.7 L428.5,390.4 L429.0,390.6 L429.5,391.6 L430.0,392.2 L430.5,390.0 L431.0,389.0 L431.5,388.4 L432.0,387.0 L432.5,385.3 L433.0,386.3 L433.5,381.7 L434.0,382.0 L434.5,383.9 L435.0,383.6 L435.5,380.7 L436.0,379.2 L436.5,382.8 L437.0,382.4 L437.5,380.7 L438.0,379.8 L438.5,378.4 L439.0,378.4 L439.5,376.1 L440.0,376.7 L440.5,376.8 L441.0,377.1 L441.5,377.8 L442.0,376.1 L442.5,376.5 L443.0,376.9 L443.5,377.1 L444.0,377.1 L444.5,377.4 L445.0,378.1 L445.5,377.3 L446.0,377.4 L446.5,377.5 L447.0,376.7 L447.5,377.0 L448.0,375.6 L448.5,376.2 L449.0,375.6 L449.6,376.0 L450.1,376.0 L450.6,374.1 L451.1,374.3 L451.6,373.9 L452.1,373.2 L452.6,372.2 L453.1,369.6 L453.6,366.3 L454.0,363.4 L454.5,360.5 L455.0,357.6 L455.5,357.7 L456.0,356.9 L456.6,357.9 L457.1,355.8 L457.6,357.6 L458.1,358.4 L458.6,359.0 L459.1,359.2 L459.7,360.0 L460.2,360.8 L460.7,360.6 L461.2,360.1 L461.7,359.6 L462.2,359.1 L462.7,360.1 L463.2,360.2 L463.7,361.4 L464.2,359.7 L464.8,359.1 L465.3,359.7 L465.8,359.6 L466.3,360.1 L466.8,359.4 L467.3,360.7 L467.8,360.2 L468.3,360.4 L468.8,361.0 L469.3,359.1 L469.8,358.5 L470.3,357.4 L470.8,358.1 L471.2,356.1 L471.7,355.9 L472.2,355.4 L472.7,356.1 L473.2,356.9 L473.7,355.9 L474.2,356.9 L474.7,356.5 L475.2,354.7 L475.7,354.5 L476.2,353.8 L476.7,354.8 L477.2,355.0 L477.7,355.0 L478.2,354.0 L478.7,354.0 L479.2,353.1 L479.6,353.5 L480.1,354.9 L480.6,354.3 L481.1,355.3 L481.6,354.8 L482.1,354.1 L482.6,354.4 L483.1,352.9 L483.6,354.5 L484.1,354.2 L484.6,353.0 L485.1,353.8 L485.6,353.0 L486.1,354.0 L486.6,355.0 L487.1,355.3 L487.6,353.8 L488.1,353.7 L488.6,354.8 L489.1,355.0 L489.7,355.2 L490.2,356.8 L490.7,356.6 L491.2,355.6 L491.7,354.3 L492.2,354.1 L492.7,353.4 L493.2,353.6 L493.7,354.6 L494.2,354.2 L494.7,355.2 L495.2,355.4 L495.8,356.5 L496.3,355.8 L496.8,356.0 L497.3,356.9 L497.8,357.9 L498.3,358.2 L498.8,356.1 L499.3,357.2 L499.9,356.7 L500.4,357.9 L500.9,358.1 L501.4,358.3 L501.9,358.4 L502.4,359.1 L502.9,359.0 L503.4,359.4 L503.9,359.0 L504.4,358.4 L504.9,359.3 L505.4,360.2 L506.0,358.6 L506.5,358.2 L507.0,356.7 L507.5,356.9 L508.0,356.3 L508.5,357.5 L509.0,357.4 L509.5,357.1 L510.0,357.4 L510.5,356.9 L511.0,354.0 L511.6,355.7 L512.1,356.5 L512.6,355.7 L513.1,355.9 L513.6,355.3 L514.1,353.3 L514.6,352.0 L515.1,353.6 L515.7,353.8 L516.2,354.4 L516.7,354.8 L517.2,353.3 L517.7,353.0 L518.2,352.8 L518.7,352.7 L519.2,352.4 L519.7,351.3 L520.2,351.4 L520.7,349.6 L521.2,350.3 L521.8,350.0 L522.3,349.5 L522.8,350.0 L523.3,350.2 L523.8,350.2 L524.3,349.4 L524.8,348.9 L525.3,348.9 L525.8,348.9 L526.3,348.6 L526.8,347.8 L527.3,348.4 L527.8,347.9 L528.3,348.1 L528.8,347.3 L529.3,345.8 L529.8,346.8 L530.4,347.6 L530.9,347.5 L531.4,348.2 L531.9,347.9 L532.4,347.4 L532.9,348.2 L533.4,347.9 L533.9,346.8 L534.4,346.1 L534.9,345.0 L535.4,343.6 L535.9,343.7 L536.4,342.7 L537.0,341.5 L537.5,340.9 L538.0,341.8 L538.5,341.5 L539.0,340.8 L539.5,338.2 L540.0,336.1 L540.5,337.3 L541.1,338.5 L541.6,339.9 L542.1,340.7 L542.6,342.0 L543.2,341.7 L543.7,343.2 L544.2,343.1 L544.7,344.0 L545.2,344.2 L545.7,342.7 L546.2,343.2 L546.7,344.7 L547.2,345.4 L547.7,345.7 L548.2,344.9 L548.7,344.5 L549.2,345.4 L549.7,344.4 L550.2,345.5 L550.7,345.0 L551.2,345.5 L551.7,346.1 L552.2,345.1 L552.7,343.9 L553.1,343.2 L553.6,343.4 L554.1,341.0 L554.6,342.3 L555.1,342.3 L555.6,343.5 L556.1,345.1 L556.6,342.8 L557.1,342.4 L557.6,343.2 L558.1,342.6 L558.6,343.5 L559.1,345.7 L559.6,344.6 L560.1,344.2 L560.6,344.6 L561.1,346.0 L561.6,345.2 L562.1,346.0 L562.6,346.1 L563.1,346.0 L563.6,344.7 L564.1,345.4 L564.6,346.0 L565.1,345.1 L565.6,347.6 L566.1,347.2 L566.6,346.3 L567.1,346.7 L567.6,346.5 L568.1,346.6 L568.6,345.8 L569.1,347.0 L569.6,347.0 L570.1,346.7 L570.6,347.5 L571.1,346.6 L571.6,347.3 L572.1,347.7 L572.6,348.4 L573.1,349.1 L573.6,348.8 L574.1,348.7 L574.6,347.7 L575.1,345.7 L575.6,347.3 L576.1,348.2 L576.6,347.0 L577.1,345.6 L577.6,345.7 L578.2,345.7 L578.7,346.9 L579.2,348.0 L579.7,347.6 L580.2,346.8 L580.7,348.0 L581.2,347.9 L581.7,346.9 L582.2,346.7 L582.7,347.3 L583.2,347.4 L583.7,345.8 L584.2,345.5 L584.7,345.7 L585.2,346.7 L585.7,346.6 L586.3,347.4 L586.8,345.4 L587.3,345.1 L587.8,343.9 L588.3,345.1 L588.8,343.3 L589.3,343.1 L589.8,344.1 L590.3,343.2 L590.8,343.3 L591.3,342.3 L591.8,342.2 L592.3,344.1 L592.8,342.1 L593.3,341.6 L593.8,341.7 L594.3,341.7 L594.9,342.7 L595.4,340.7 L595.9,341.5 L596.4,341.2 L596.9,340.1 L597.4,339.6 L597.9,338.7 L598.4,339.5 L598.9,339.0 L599.4,338.4 L599.9,338.8 L600.4,337.1 L600.9,337.5 L601.4,336.9 L601.9,337.9 L602.4,338.1 L602.9,337.9 L603.4,337.9 L603.9,338.1 L604.4,338.4 L604.9,338.8 L605.3,339.5 L605.8,340.7 L606.3,340.7 L606.8,339.9 L607.3,339.5 L607.8,339.2 L608.3,339.8 L608.8,339.0 L609.3,339.6 L609.8,338.4 L610.3,337.4 L610.8,337.5 L611.3,338.7 L611.8,338.9 L612.3,337.7 L612.8,335.8 L613.3,337.3 L613.8,338.5 L614.3,338.0 L614.8,337.1 L615.3,337.5 L615.8,337.4 L616.4,337.6 L616.9,338.8 L617.4,338.2 L617.9,336.6 L618.4,337.4 L618.9,335.9 L619.4,337.1 L619.9,337.0 L620.4,337.3 L620.9,337.2 L621.4,336.9 L621.9,336.0 L622.4,336.5 L622.9,336.4 L623.4,334.4 L623.9,336.0 L624.4,335.4 L624.9,336.8 L625.4,337.6 L625.9,336.0 L626.4,335.8 L626.8,336.8 L627.3,336.7 L627.8,335.5 L628.3,334.1 L628.8,335.9 L629.3,335.9 L629.8,337.2 L630.3,336.0 L630.8,336.9 L631.3,336.5 L631.8,334.5 L632.3,335.4 L632.8,334.7 L633.3,334.1 L633.8,333.4 L634.2,333.2 L634.7,330.8 L635.2,331.1 L635.7,330.7 L636.1,331.1 L636.6,329.6 L637.1,331.5 L637.7,333.0 L638.2,334.5 L638.7,336.1 L639.3,337.9 L639.8,339.7 L640.3,339.7 L640.8,339.9 L641.3,340.2 L641.8,340.0 L642.3,339.6 L642.9,340.5 L643.4,340.1 L643.9,340.6 L644.4,339.2 L644.9,341.2 L645.4,341.4 L645.9,341.0 L646.4,341.0 L646.9,340.8 L647.4,340.5 L648.0,342.2 L648.5,341.8 L649.0,340.7 L649.5,340.5 L650.0,341.3 L650.5,343.0 L651.0,343.1 L651.5,342.3 L652.0,341.8 L652.5,342.5 L653.0,343.0 L653.5,342.9 L654.0,342.5 L654.5,341.4 L655.0,341.2 L655.5,341.9 L656.0,341.5 L656.5,341.9 L657.0,341.8 L657.4,342.1 L657.9,343.6 L658.4,344.1 L658.9,344.2 L659.4,343.6 L659.9,343.2 L660.4,344.5 L660.9,344.3 L661.4,344.4 L661.9,341.9 L662.4,343.7 L662.9,344.5 L663.4,343.1 L663.9,342.6 L664.4,342.9 L664.9,343.4 L665.4,343.0 L665.9,342.8 L666.4,342.3 L666.9,341.7 L667.4,342.8 L668.0,342.9 L668.5,342.3 L669.0,341.4 L669.5,340.7 L670.0,340.8 L670.5,340.2 L671.0,340.9 L671.5,340.4 L672.0,340.9 L672.5,338.7 L673.0,338.8 L673.4,338.3 L673.9,338.2 L674.4,336.7 L674.9,336.4 L675.3,335.8 L675.8,335.7 L676.3,335.5 L676.8,333.6 L677.3,334.7 L677.8,335.1 L678.3,334.3 L678.8,334.1 L679.4,336.7 L679.9,336.7 L680.4,335.9 L680.9,335.2 L681.4,333.8 L681.9,331.9 L682.4,332.0 L682.9,331.7 L683.4,331.4 L683.9,331.7 L684.5,331.2 L685.0,329.7 L685.5,330.3 L686.0,331.4 L686.5,330.9 L687.0,331.2 L687.5,330.8 L688.0,330.5 L688.5,329.4 L689.0,328.6 L689.5,326.5 L690.1,327.7 L690.6,325.4 L691.1,323.9 L691.6,323.3 L692.1,323.1 L692.6,322.4 L693.1,322.2 L693.6,320.5 L694.1,319.2 L694.6,318.3 L695.1,317.3 L695.6,316.4 L696.1,317.0 L696.6,319.6 L697.2,322.0 L697.7,323.2 L698.2,326.2 L698.7,325.6 L699.2,323.3 L699.7,320.8 L700.2,320.6 L700.7,319.8 L701.2,318.7 L701.7,317.5 L702.2,317.1 L702.7,315.4 L703.2,313.8 L703.8,314.5 L704.3,311.1 L704.8,312.2 L705.3,309.6 L705.8,308.9 L706.3,306.7 L706.8,301.1 L707.3,303.7 L707.8,303.7 L708.3,306.2 L708.9,307.2 L709.4,308.0 L709.9,311.0 L710.4,307.9 L711.0,303.5 L711.5,297.1 L712.0,298.6 L712.5,301.6 L712.9,303.0 L713.4,306.4 L713.9,309.3 L714.4,308.0 L715.0,305.4 L715.5,302.4 L716.0,301.4 L716.5,299.8 L717.0,297.4 L717.5,297.4 L718.0,298.0 L718.5,298.9 L719.0,302.2 L719.5,307.2 L720.0,309.4 L720.5,310.7 L721.0,311.7 L721.5,312.1 L722.0,311.2 L722.6,310.7 L723.1,310.9 L723.6,312.4 L724.1,311.7 L724.6,309.4 L725.1,311.4 L725.6,310.4 L726.1,311.1 L726.6,310.4 L727.2,310.0 L727.7,311.8 L728.2,312.5 L728.7,311.2 L729.2,310.6 L729.7,310.5 L730.2,309.8 L730.7,309.0 L731.2,308.9 L731.7,307.9 L732.2,307.4 L732.7,307.4 L733.2,306.9 L733.8,305.8 L734.3,305.8 L734.8,305.9 L735.3,305.2 L735.8,304.7 L736.3,304.6 L736.8,304.2 L737.3,304.7 L737.8,305.6 L738.3,305.9 L738.9,306.1 L739.4,305.7 L739.9,306.6 L740.4,306.6 L740.9,307.6 L741.4,309.0 L741.9,309.7 L742.4,310.6 L742.9,311.0 L743.4,312.4 L743.9,311.7 L744.4,310.7 L744.9,310.9 L745.4,309.7 L746.0,309.2 L746.5,309.1 L747.0,308.8 L747.5,307.7 L748.0,305.8 L748.5,304.9 L749.0,304.1 L749.5,306.1 L750.0,304.9 L750.6,305.4 L751.1,306.2 L751.6,306.3 L752.1,306.7 L752.6,306.7 L753.1,306.0 L753.6,306.1 L754.2,305.6 L754.7,304.2 L755.2,303.6 L755.7,302.2 L756.2,302.5 L756.7,300.9 L757.2,299.1 L757.7,298.3 L758.2,297.7 L758.7,295.7 L759.2,295.5 L759.8,293.7 L760.3,293.0 L760.8,291.2 L761.3,290.7 L761.8,291.2 L762.3,291.1 L762.8,292.4 L763.3,292.7 L763.8,294.2 L764.3,296.1 L764.8,295.5 L765.3,296.5 L765.8,297.3 L766.3,297.0 L766.8,295.9 L767.3,294.9 L767.8,294.4 L768.4,294.2 L768.9,293.2 L769.4,293.3 L769.9,291.8 L770.4,291.9 L770.9,291.8 L771.4,293.1 L771.9,294.7 L772.4,294.3 L772.9,295.5 L773.4,296.0 L773.9,293.9 L774.4,294.9 L774.9,295.7 L775.4,296.4" fill="none" stroke="#a0522d" stroke-width="1.45" stroke-dasharray="1.9 0.9" stroke-linecap="butt" stroke-linejoin="round"/>
<path d="M54.3,394.3 L54.7,394.3 L55.1,394.3 L55.5,394.0 L55.9,394.4 L56.3,394.5 L56.7,395.5 L57.1,394.4 L57.5,396.7 L57.9,393.3 L58.3,394.2 L58.7,395.4 L59.1,395.1 L59.5,394.6 L59.9,394.9 L60.2,395.7 L60.6,396.7 L61.0,394.9 L61.4,395.5 L61.8,395.1 L62.2,396.3 L62.6,395.7 L63.0,396.0 L63.4,396.9 L63.8,396.3 L64.2,396.5 L64.6,395.7 L65.0,395.7 L65.4,394.4 L65.8,394.6 L66.2,395.2 L66.6,395.4 L67.0,398.0 L67.4,395.8 L67.8,394.8 L68.2,396.4 L68.7,397.6 L69.1,398.0 L69.5,399.2 L69.9,400.7 L70.3,399.5 L70.7,398.2 L71.1,398.5 L71.5,400.0 L71.9,400.0 L72.3,399.5 L72.7,399.6 L73.1,399.7 L73.5,398.1 L73.9,399.0 L74.3,398.4 L74.7,398.6 L75.1,398.4 L75.5,398.9 L75.9,399.8 L76.3,399.4 L76.7,399.5 L77.1,400.1 L77.5,400.1 L77.9,399.2 L78.3,399.9 L78.7,399.3 L79.1,399.0 L79.5,399.3 L79.9,400.5 L80.3,399.2 L80.7,398.9 L81.1,399.2 L81.5,398.5 L81.9,398.9 L82.3,400.1 L82.7,398.3 L83.1,398.7 L83.5,398.4 L83.9,400.5 L84.3,400.4 L84.7,400.4 L85.1,399.8 L85.5,398.7 L85.9,399.0 L86.3,399.6 L86.7,399.7 L87.1,401.3 L87.5,401.4 L87.9,400.1 L88.3,400.0 L88.7,400.5 L89.1,399.6 L89.5,400.0 L89.8,400.0 L90.2,400.7 L90.6,401.1 L91.0,400.8 L91.4,402.3 L91.8,401.6 L92.2,402.4 L92.6,401.4 L93.0,401.1 L93.4,400.9 L93.8,400.9 L94.2,401.9 L94.6,400.4 L95.0,402.2 L95.4,400.7 L95.8,402.1 L96.2,401.7 L96.6,400.8 L97.0,401.4 L97.4,400.6 L97.8,400.4 L98.3,400.4 L98.7,402.6 L99.1,400.5 L99.5,401.8 L99.9,400.5 L100.3,399.5 L100.7,399.0 L101.1,400.1 L101.5,399.4 L101.9,398.5 L102.3,399.1 L102.7,399.1 L103.1,399.7 L103.5,398.3 L103.9,399.7 L104.3,400.2 L104.7,399.0 L105.1,398.6 L105.5,399.0 L105.9,398.7 L106.3,399.4 L106.7,399.6 L107.1,399.3 L107.5,398.1 L107.9,396.8 L108.3,398.0 L108.7,397.4 L109.0,399.0 L109.4,400.5 L109.8,399.9 L110.2,400.2 L110.6,400.7 L111.0,400.7 L111.4,399.0 L111.8,398.2 L112.2,398.2 L112.6,398.7 L113.0,398.2 L113.4,398.8 L113.8,400.1 L114.2,399.4 L114.6,399.4 L115.0,398.4 L115.4,398.5 L115.8,399.4 L116.2,400.2 L116.6,399.7 L117.0,398.5 L117.4,400.0 L117.8,397.5 L118.2,397.4 L118.6,397.1 L119.0,397.4 L119.4,398.1 L119.8,397.6 L120.2,400.5 L120.6,400.9 L121.0,400.0 L121.4,398.4 L121.8,396.6 L122.2,397.8 L122.7,398.1 L123.1,397.9 L123.5,398.6 L123.9,398.1 L124.3,396.2 L124.7,394.7 L125.1,395.1 L125.5,395.7 L125.9,396.4 L126.3,396.4 L126.7,396.0 L127.1,395.2 L127.5,395.9 L127.9,396.3 L128.3,395.4 L128.7,394.6 L129.1,394.5 L129.5,393.9 L129.9,394.6 L130.3,393.7 L130.7,394.6 L131.1,394.2 L131.5,395.2 L131.9,397.4 L132.3,395.7 L132.7,395.8 L133.1,397.8 L133.6,397.8 L134.0,397.2 L134.4,397.2 L134.8,396.6 L135.2,395.3 L135.6,393.7 L136.0,394.4 L136.4,395.0 L136.8,396.8 L137.2,397.1 L137.6,395.8 L138.0,396.8 L138.4,396.0 L138.8,397.6 L139.2,396.7 L139.6,397.9 L140.1,397.9 L140.5,397.5 L140.9,398.6 L141.3,398.2 L141.7,396.2 L142.1,397.5 L142.5,397.1 L142.9,397.4 L143.3,398.2 L143.7,399.2 L144.1,399.3 L144.5,398.5 L144.9,398.4 L145.3,398.0 L145.7,398.7 L146.1,398.8 L146.5,400.2 L146.9,399.8 L147.3,401.0 L147.7,402.5 L148.1,402.3 L148.5,401.7 L148.9,402.7 L149.3,401.5 L149.7,401.7 L150.1,403.0 L150.5,403.2 L150.9,402.8 L151.3,402.5 L151.7,402.3 L152.1,403.9 L152.5,405.3 L152.9,405.8 L153.3,404.9 L153.7,404.6 L154.1,403.5 L154.5,402.6 L154.9,403.6 L155.3,404.2 L155.7,402.9 L156.1,402.3 L156.5,403.2 L156.9,402.4 L157.3,403.9 L157.7,404.9 L158.1,403.5 L158.5,403.4 L158.9,404.4 L159.2,405.0 L159.6,404.5 L160.0,404.2 L160.4,403.9 L160.8,404.4 L161.2,404.7 L161.6,404.2 L162.0,403.7 L162.4,403.8 L162.8,403.8 L163.2,403.6 L163.6,402.8 L164.0,403.5 L164.4,404.5 L164.8,404.5 L165.2,405.3 L165.6,405.0 L166.0,405.1 L166.4,405.2 L166.8,402.9 L167.2,403.8 L167.6,404.6 L168.0,403.1 L168.4,401.7 L168.8,401.6 L169.2,402.1 L169.6,402.9 L170.0,401.7 L170.4,402.1 L170.8,401.5 L171.2,402.3 L171.6,402.4 L172.0,402.7 L172.4,401.7 L172.8,401.1 L173.2,401.6 L173.6,400.0 L174.0,399.8 L174.4,398.9 L174.8,398.5 L175.2,398.0 L175.6,399.2 L176.0,399.7 L176.4,398.8 L176.8,400.1 L177.2,399.3 L177.6,399.8 L178.0,397.9 L178.4,397.2 L178.8,396.6 L179.2,398.5 L179.6,398.5 L180.0,397.4 L180.4,397.4 L180.8,397.1 L181.2,397.0 L181.6,396.3 L182.0,397.5 L182.4,397.7 L182.8,396.9 L183.2,397.4 L183.6,398.2 L184.0,398.1 L184.4,397.6 L184.8,398.2 L185.2,398.6 L185.6,399.9 L186.0,398.5 L186.4,398.6 L186.8,398.3 L187.2,397.8 L187.6,398.0 L188.0,396.9 L188.4,396.8 L188.8,396.3 L189.2,397.4 L189.6,397.5 L190.0,397.1 L190.4,397.3 L190.8,398.3 L191.2,398.1 L191.6,396.2 L192.0,399.2 L192.4,398.7 L192.8,399.5 L193.2,398.4 L193.6,398.3 L194.0,398.7 L194.4,399.1 L194.8,398.7 L195.2,400.4 L195.6,399.3 L196.0,399.0 L196.4,401.0 L196.8,400.4 L197.2,398.6 L197.6,399.6 L198.0,400.1 L198.4,401.0 L198.8,402.1 L199.2,401.2 L199.6,401.5 L200.0,400.9 L200.4,399.7 L200.8,399.0 L201.2,398.6 L201.6,397.8 L202.0,400.0 L202.4,399.3 L202.8,398.4 L203.2,398.9 L203.6,398.1 L203.9,399.7 L204.3,401.2 L204.7,400.9 L205.1,400.2 L205.5,399.6 L205.9,400.0 L206.3,400.5 L206.7,400.8 L207.1,399.8 L207.5,399.8 L207.9,398.4 L208.3,399.0 L208.7,399.9 L209.1,400.6 L209.5,399.2 L209.9,398.0 L210.3,400.2 L210.7,399.8 L211.1,399.3 L211.4,399.5 L211.8,399.1 L212.2,399.5 L212.6,399.8 L213.0,398.9 L213.4,397.8 L213.8,397.9 L214.2,395.6 L214.6,397.8 L215.0,397.8 L215.4,397.4 L215.8,398.3 L216.2,399.0 L216.6,398.6 L217.0,397.8 L217.4,396.7 L217.8,396.8 L218.2,396.9 L218.6,396.2 L218.9,397.0 L219.3,397.8 L219.7,397.8 L220.1,399.7 L220.5,399.0 L220.9,399.0 L221.3,401.6 L221.7,401.4 L222.1,399.9 L222.5,399.3 L222.9,398.5 L223.3,398.4 L223.7,398.0 L224.1,396.6 L224.5,396.0 L224.9,397.3 L225.3,398.8 L225.7,398.4 L226.1,397.1 L226.4,396.2 L226.8,398.0 L227.2,399.2 L227.6,399.2 L228.0,398.2 L228.4,397.3 L228.8,398.1 L229.2,397.4 L229.6,396.4 L230.0,394.7 L230.4,395.2 L230.8,395.8 L231.2,395.5 L231.6,397.3 L232.0,396.3 L232.4,397.5 L232.8,397.3 L233.2,396.8 L233.6,397.4 L233.9,396.1 L234.3,397.5 L234.7,396.6 L235.1,396.2 L235.5,396.8 L235.9,396.9 L236.3,396.0 L236.7,397.0 L237.1,395.9 L237.5,396.2 L237.9,395.6 L238.3,395.9 L238.7,396.6 L239.1,396.3 L239.5,395.5 L239.9,396.7 L240.3,397.0 L240.7,396.0 L241.1,395.7 L241.4,395.5 L241.8,397.9 L242.2,397.3 L242.6,398.0 L243.0,397.7 L243.4,397.6 L243.8,397.0 L244.2,394.9 L244.6,395.2 L245.0,395.8 L245.4,395.2 L245.8,396.9 L246.2,396.5 L246.6,396.2 L247.0,394.2 L247.4,395.7 L247.8,396.6 L248.2,395.0 L248.6,394.2 L248.9,395.7 L249.3,394.6 L249.7,395.2 L250.1,395.2 L250.5,396.4 L250.9,396.0 L251.3,396.1 L251.7,395.6 L252.1,393.9 L252.5,394.4 L252.9,396.0 L253.3,395.5 L253.7,395.6 L254.1,395.4 L254.5,395.8 L254.9,396.0 L255.3,396.6 L255.7,395.1 L256.1,393.6 L256.4,395.1 L256.8,394.7 L257.2,394.9 L257.6,396.2 L258.0,395.2 L258.4,396.6 L258.8,395.8 L259.2,393.8 L259.6,394.3 L260.0,394.7 L260.4,394.8 L260.8,394.5 L261.2,396.5 L261.6,396.7 L262.0,396.3 L262.4,394.9 L262.8,394.4 L263.2,394.5 L263.6,395.4 L264.0,393.4 L264.4,394.5 L264.8,395.0 L265.2,394.6 L265.6,394.3 L266.0,393.3 L266.4,392.9 L266.8,393.9 L267.2,393.9 L267.6,394.3 L268.0,394.1 L268.4,393.0 L268.8,393.4 L269.2,394.3 L269.6,394.7 L270.0,393.9 L270.4,390.9 L270.8,390.8 L271.1,388.3 L271.5,389.3 L271.9,387.5 L272.2,385.8 L272.6,386.3 L273.0,385.7 L273.4,386.7 L273.8,389.0 L274.1,389.3 L274.5,390.9 L274.9,392.1 L275.2,393.4 L275.6,394.7 L276.0,396.0 L276.4,394.2 L276.8,394.5 L277.2,395.3 L277.6,395.0 L278.0,396.3 L278.5,396.1 L278.9,395.5 L279.3,396.7 L279.7,396.2 L280.1,396.3 L280.5,396.7 L280.9,396.8 L281.3,397.6 L281.7,398.7 L282.1,398.1 L282.5,398.7 L283.0,398.6 L283.4,398.8 L283.8,398.4 L284.2,399.4 L284.6,399.4 L285.0,399.5 L285.4,399.3 L285.8,399.1 L286.2,400.1 L286.6,400.1 L287.0,399.3 L287.4,400.8 L287.8,402.2 L288.2,401.1 L288.6,401.8 L289.0,401.1 L289.4,401.3 L289.8,402.1 L290.2,401.1 L290.6,400.6 L291.0,400.7 L291.4,401.6 L291.8,402.3 L292.2,401.8 L292.6,402.2 L293.0,403.9 L293.4,403.5 L293.8,402.0 L294.2,402.7 L294.6,401.8 L295.0,401.8 L295.4,401.7 L295.8,403.0 L296.2,404.5 L296.6,404.7 L297.0,404.6 L297.4,403.1 L297.8,403.9 L298.2,404.3 L298.6,402.5 L299.0,403.9 L299.4,403.3 L299.8,402.8 L300.2,403.0 L300.6,404.0 L301.0,402.8 L301.4,403.1 L301.8,403.7 L302.2,402.6 L302.6,403.2 L303.0,402.5 L303.4,401.6 L303.8,401.6 L304.2,401.7 L304.6,402.5 L305.0,403.1 L305.4,402.7 L305.8,401.8 L306.2,401.2 L306.6,400.6 L306.9,398.9 L307.3,399.7 L307.7,400.9 L308.1,399.5 L308.5,399.6 L308.9,399.5 L309.3,399.2 L309.7,398.1 L310.1,397.2 L310.4,397.8 L310.8,398.3 L311.2,397.6 L311.6,398.4 L312.0,398.0 L312.4,397.4 L312.8,396.2 L313.2,396.5 L313.7,395.5 L314.1,394.3 L314.5,392.1 L314.9,393.4 L315.3,392.7 L315.8,392.8 L316.2,390.1 L316.6,389.1 L317.0,388.0 L317.4,389.5 L317.8,391.9 L318.2,394.1 L318.6,396.9 L319.0,399.2 L319.4,397.6 L319.8,398.3 L320.2,397.8 L320.6,398.8 L321.0,398.9 L321.4,398.7 L321.8,397.3 L322.2,397.2 L322.6,398.1 L323.0,397.3 L323.4,397.7 L323.8,396.0 L324.2,395.3 L324.6,395.6 L325.0,395.3 L325.4,390.7 L325.8,390.6 L326.2,387.4 L326.6,385.4 L327.0,382.2 L327.4,381.7 L327.8,373.6 L328.2,367.5 L328.6,368.3 L329.0,369.3 L329.4,368.8 L329.8,369.3 L330.2,367.9 L330.6,369.7 L331.0,369.5 L331.4,366.6 L331.8,370.1 L332.2,367.1 L332.6,362.9 L333.0,366.8 L333.4,368.2 L333.8,370.1 L334.1,368.6 L334.5,372.4 L334.9,374.2 L335.2,375.9 L335.6,381.2 L336.0,381.9 L336.4,383.7 L336.8,381.4 L337.2,381.6 L337.6,380.4 L338.0,382.8 L338.5,384.6 L338.9,384.9 L339.3,384.0 L339.7,380.6 L340.1,381.5 L340.5,386.8 L340.9,386.5 L341.3,387.3 L341.7,390.4 L342.1,387.8 L342.5,386.7 L343.0,387.2 L343.4,389.4 L343.8,391.8 L344.2,391.2 L344.6,388.8 L345.0,389.2 L345.4,388.0 L345.8,389.3 L346.2,383.8 L346.7,383.6 L347.1,382.4 L347.5,382.3 L347.9,380.1 L348.3,380.5 L348.8,378.1 L349.2,376.2 L349.6,379.8 L350.0,373.8 L350.5,369.5 L351.0,360.1 L351.5,367.5 L352.0,379.5 L352.4,377.3 L352.8,377.0 L353.2,375.8 L353.6,378.5 L354.0,375.5 L354.4,375.7 L354.8,375.1 L355.2,378.6 L355.6,381.2 L356.0,382.5 L356.4,379.9 L356.8,378.9 L357.2,376.8 L357.6,379.0 L358.0,378.0 L358.4,379.2 L358.8,377.0 L359.2,379.0 L359.6,384.3 L360.0,382.5 L360.4,382.3 L360.8,379.9 L361.2,378.8 L361.6,380.1 L362.0,377.9 L362.4,377.7 L362.8,381.1 L363.2,376.6 L363.6,379.9 L364.0,377.6 L364.4,378.7 L364.8,381.3 L365.2,380.5 L365.6,384.0 L366.0,381.5 L366.4,383.4 L366.8,390.4 L367.2,388.7 L367.6,386.1 L368.0,387.6 L368.4,388.5 L368.8,386.2 L369.2,387.0 L369.6,386.5 L370.0,386.7 L370.4,383.6 L370.8,376.4 L371.2,374.7 L371.6,371.9 L372.0,372.2 L372.4,373.9 L372.8,374.0 L373.2,379.0 L373.7,384.8 L374.1,389.6 L374.5,386.2 L374.9,392.1 L375.3,391.0 L375.7,388.9 L376.1,393.5 L376.5,394.2 L377.0,392.2 L377.4,394.8 L377.8,395.1 L378.2,396.4 L378.6,394.2 L379.0,397.1 L379.4,399.5 L379.8,399.5 L380.2,399.2 L380.6,398.3 L381.0,404.3 L381.4,403.0 L381.8,400.5 L382.2,399.8 L382.6,401.9 L383.0,402.5 L383.4,400.3 L383.8,401.0 L384.2,401.5 L384.6,404.7 L385.0,404.3 L385.4,401.7 L385.8,396.1 L386.2,399.2 L386.7,399.6 L387.1,396.6 L387.5,397.0 L387.9,396.2 L388.3,397.6 L388.8,397.8 L389.2,399.3 L389.6,396.2 L390.0,393.4 L390.4,395.3 L390.8,393.8 L391.2,391.2 L391.6,387.7 L392.0,389.5 L392.4,393.4 L392.8,393.1 L393.2,394.1 L393.6,395.1 L394.0,397.7 L394.4,394.8 L394.8,395.3 L395.2,394.0 L395.6,392.9 L396.0,391.7 L396.4,393.3 L396.8,392.4 L397.2,393.6 L397.6,393.0 L397.9,391.7 L398.3,392.2 L398.7,392.1 L399.1,393.9 L399.5,393.4 L399.9,394.5 L400.3,393.6 L400.7,391.8 L401.1,394.9 L401.4,397.8 L401.8,398.7 L402.2,396.3 L402.6,394.9 L403.0,395.9 L403.4,393.9 L403.8,399.2 L404.2,399.6 L404.6,400.2 L404.9,399.2 L405.3,400.4 L405.7,402.2 L406.1,399.2 L406.5,397.4 L406.9,399.5 L407.3,401.9 L407.7,399.5 L408.1,402.0 L408.4,403.4 L408.8,401.1 L409.2,406.1 L409.6,403.7 L410.0,403.3 L410.4,404.6 L410.8,403.5 L411.2,402.9 L411.6,400.9 L412.0,400.2 L412.4,400.2 L412.8,396.4 L413.2,401.3 L413.6,399.7 L414.0,400.3 L414.4,397.9 L414.8,399.7 L415.2,398.8 L415.6,402.7 L416.0,398.0 L416.4,397.5 L416.8,392.9 L417.2,395.3 L417.6,398.9 L418.0,397.2 L418.4,397.1 L418.8,398.7 L419.2,398.0 L419.6,395.3 L420.0,391.1 L420.4,388.7 L420.8,384.7 L421.2,381.7 L421.6,374.0 L422.0,370.0 L422.4,379.0 L422.8,379.9 L423.2,382.2 L423.6,387.1 L424.0,389.1 L424.4,385.1 L424.8,389.1 L425.2,392.0 L425.6,391.8 L426.0,394.2 L426.4,393.6 L426.8,395.6 L427.2,396.5 L427.6,398.8 L428.0,401.4 L428.4,399.6 L428.8,403.4 L429.1,400.7 L429.5,400.5 L429.9,399.0 L430.3,399.2 L430.7,404.4 L431.0,402.6 L431.4,402.3 L431.8,402.0 L432.2,402.1 L432.6,403.8 L433.0,401.2 L433.4,404.5 L433.8,403.3 L434.2,407.1 L434.6,409.1 L435.0,409.9 L435.4,410.1 L435.8,414.1 L436.2,413.4 L436.6,408.2 L437.1,410.0 L437.5,413.1 L437.9,413.8 L438.3,417.6 L438.7,420.4 L439.1,417.4 L439.5,415.2 L439.9,416.8 L440.3,417.4 L440.7,416.7 L441.1,418.5 L441.5,418.3 L441.9,418.8 L442.3,417.0 L442.7,418.6 L443.1,418.9 L443.5,420.4 L443.9,420.1 L444.3,421.7 L444.7,420.2 L445.1,421.2 L445.5,419.9 L445.9,420.0 L446.3,417.1 L446.7,418.3 L447.0,419.3 L447.4,419.2 L447.8,419.7 L448.2,421.1 L448.6,420.4 L449.0,419.8 L449.4,419.9 L449.9,418.1 L450.3,417.3 L450.8,417.3 L451.2,415.3 L451.6,413.5 L452.0,412.7 L452.4,412.0 L452.8,411.9 L453.2,413.0 L453.5,412.7 L453.9,411.8 L454.3,412.3 L454.7,412.3 L455.1,410.4 L455.5,409.8 L455.9,410.4 L456.3,410.4 L456.7,410.5 L457.1,411.3 L457.5,413.0 L457.8,414.4 L458.2,417.1 L458.6,417.7 L459.0,419.6 L459.4,420.2 L459.8,419.8 L460.2,419.6 L460.6,419.5 L461.0,418.7 L461.4,418.8 L461.8,419.1 L462.1,418.9 L462.5,418.3 L462.9,418.7 L463.3,418.6 L463.7,418.8 L464.1,419.6 L464.5,419.4 L464.9,419.8 L465.3,423.3 L465.7,422.9 L466.1,423.0 L466.4,423.3 L466.8,424.8 L467.2,425.7 L467.6,426.9 L468.0,427.7 L468.4,428.4 L468.8,428.0 L469.2,427.5 L469.6,427.3 L470.0,428.4 L470.4,430.2 L470.7,429.0 L471.1,428.8 L471.5,430.0 L471.9,431.1 L472.3,429.8 L472.7,428.0 L473.1,428.3 L473.5,428.3 L473.9,429.1 L474.3,428.1 L474.7,428.7 L475.0,426.9 L475.4,428.0 L475.8,427.3 L476.2,426.8 L476.6,426.1 L477.0,426.1 L477.4,426.0 L477.8,425.7 L478.2,425.4 L478.6,425.4 L479.0,424.8 L479.4,423.5 L479.8,425.1 L480.2,425.0 L480.6,424.5 L481.1,425.7 L481.5,425.5 L481.9,425.6 L482.3,424.5 L482.7,425.9 L483.1,425.8 L483.5,426.4 L483.9,425.3 L484.3,426.8 L484.7,426.4 L485.1,427.4 L485.5,427.6 L485.9,428.4 L486.3,430.0 L486.6,428.3 L487.0,429.4 L487.4,428.8 L487.8,429.3 L488.2,431.3 L488.6,430.9 L489.0,431.0 L489.4,430.7 L489.8,429.8 L490.2,430.6 L490.6,430.8 L491.0,433.2 L491.4,432.6 L491.9,432.4 L492.3,432.2 L492.7,433.2 L493.1,435.0 L493.5,434.4 L493.9,434.6 L494.3,434.2 L494.7,435.8 L495.1,436.0 L495.5,433.9 L495.9,435.5 L496.3,434.7 L496.7,434.1 L497.1,434.1 L497.5,433.1 L497.9,433.9 L498.3,435.1 L498.7,436.3 L499.1,436.8 L499.5,436.2 L499.9,437.7 L500.3,437.5 L500.7,437.5 L501.1,437.8 L501.5,437.9 L501.9,438.1 L502.3,438.2 L502.7,437.7 L503.1,436.7 L503.5,434.9 L503.8,436.7 L504.2,436.7 L504.6,435.1 L505.0,434.7 L505.4,437.0 L505.8,436.2 L506.2,435.0 L506.6,434.2 L507.0,433.4 L507.4,433.6 L507.8,433.5 L508.3,433.8 L508.7,434.6 L509.1,433.9 L509.5,434.0 L509.9,434.1 L510.3,432.2 L510.7,434.8 L511.1,433.2 L511.5,432.7 L511.9,432.8 L512.4,432.7 L512.8,432.5 L513.2,432.3 L513.6,431.2 L514.0,431.3 L514.4,431.4 L514.8,430.8 L515.2,429.4 L515.6,431.8 L516.0,432.2 L516.4,432.1 L516.7,432.8 L517.1,432.7 L517.5,432.4 L517.9,432.8 L518.3,432.7 L518.7,433.0 L519.1,432.8 L519.5,433.4 L519.9,434.0 L520.3,435.1 L520.7,433.8 L521.0,431.9 L521.4,432.1 L521.8,432.9 L522.2,433.6 L522.6,434.5 L523.0,434.0 L523.4,434.1 L523.8,433.1 L524.2,433.7 L524.6,433.3 L525.0,434.1 L525.4,433.8 L525.8,432.4 L526.2,432.7 L526.7,433.8 L527.1,435.5 L527.5,433.8 L527.9,433.2 L528.3,433.7 L528.7,433.8 L529.1,434.4 L529.5,434.2 L529.9,433.1 L530.3,431.2 L530.7,430.8 L531.1,431.9 L531.5,431.6 L531.9,431.3 L532.4,430.7 L532.8,429.2 L533.2,429.0 L533.6,428.3 L534.0,428.3 L534.4,426.4 L534.8,427.3 L535.2,427.0 L535.6,425.5 L536.0,425.9 L536.4,425.6 L536.9,423.2 L537.3,423.0 L537.7,421.8 L538.1,421.6 L538.5,422.0 L538.9,423.8 L539.3,425.6 L539.7,427.3 L540.1,428.5 L540.5,430.9 L540.9,431.5 L541.3,433.7 L541.7,433.8 L542.1,433.7 L542.5,433.8 L542.8,433.7 L543.2,432.8 L543.6,433.5 L544.0,433.1 L544.4,432.9 L544.8,433.0 L545.2,435.4 L545.5,433.6 L545.9,432.7 L546.3,433.6 L546.7,432.1 L547.1,430.3 L547.5,430.1 L547.9,431.2 L548.3,433.2 L548.7,434.0 L549.0,436.0 L549.4,436.2 L549.8,437.1 L550.2,437.6 L550.6,434.8 L551.0,435.2 L551.4,435.2 L551.8,435.4 L552.2,436.2 L552.6,437.3 L553.0,437.3 L553.3,437.1 L553.7,437.2 L554.1,435.4 L554.5,434.8 L554.9,435.8 L555.3,433.2 L555.7,435.8 L556.1,437.4 L556.6,438.0 L557.0,439.3 L557.4,439.3 L557.8,439.7 L558.2,440.1 L558.6,441.8 L559.0,440.4 L559.4,440.4 L559.7,441.5 L560.1,442.8 L560.5,441.4 L560.9,442.1 L561.3,441.6 L561.7,440.6 L562.1,441.0 L562.5,441.0 L562.9,441.7 L563.3,442.7 L563.7,443.5 L564.2,443.1 L564.6,444.1 L565.0,442.8 L565.4,444.1 L565.8,444.5 L566.2,444.0 L566.6,444.3 L567.0,444.1 L567.4,444.3 L567.8,443.6 L568.3,442.5 L568.7,443.0 L569.1,441.6 L569.5,441.9 L569.9,443.6 L570.3,441.2 L570.7,442.7 L571.1,443.1 L571.5,443.0 L571.9,443.2 L572.3,443.3 L572.7,443.6 L573.1,443.7 L573.5,444.9 L574.0,446.2 L574.4,444.0 L574.8,444.0 L575.2,445.5 L575.6,445.5 L576.0,446.8 L576.4,446.7 L576.8,445.8 L577.2,446.1 L577.6,445.5 L578.0,445.7 L578.4,444.5 L578.8,444.3 L579.1,445.2 L579.5,444.3 L579.9,443.7 L580.3,446.0 L580.7,446.9 L581.1,445.8 L581.5,446.0 L581.9,445.3 L582.3,445.6 L582.7,444.4 L583.1,445.6 L583.4,445.7 L583.8,444.0 L584.2,442.6 L584.6,446.4 L585.0,444.5 L585.4,445.4 L585.8,445.0 L586.2,445.6 L586.6,444.5 L587.0,444.4 L587.4,443.1 L587.8,442.9 L588.2,443.2 L588.6,444.7 L589.0,443.4 L589.4,442.5 L589.8,443.2 L590.2,443.4 L590.6,442.2 L591.0,442.2 L591.4,442.5 L591.8,442.5 L592.2,443.3 L592.6,441.4 L593.0,440.3 L593.3,439.3 L593.7,440.1 L594.1,439.1 L594.5,440.4 L594.9,439.8 L595.3,439.0 L595.7,440.2 L596.0,439.6 L596.4,440.8 L596.8,440.1 L597.2,441.5 L597.6,441.5 L598.0,442.1 L598.4,441.2 L598.9,441.1 L599.3,439.7 L599.7,439.9 L600.1,439.9 L600.5,438.8 L600.9,438.7 L601.4,440.8 L601.8,439.3 L602.2,438.0 L602.6,439.2 L603.0,439.2 L603.4,440.3 L603.8,440.6 L604.2,441.4 L604.6,440.9 L604.9,442.2 L605.3,443.1 L605.7,443.9 L606.1,442.2 L606.5,442.2 L606.9,446.4 L607.3,444.6 L607.7,444.1 L608.1,443.2 L608.5,444.1 L608.9,443.3 L609.3,443.1 L609.7,443.5 L610.1,444.0 L610.5,443.6 L610.9,444.9 L611.3,443.3 L611.7,443.8 L612.1,443.2 L612.5,443.0 L612.9,443.2 L613.3,443.2 L613.7,443.8 L614.1,444.9 L614.5,444.9 L614.9,445.8 L615.3,448.3 L615.6,446.1 L616.0,446.3 L616.4,446.9 L616.8,445.9 L617.2,446.5 L617.6,446.9 L618.0,447.4 L618.4,447.6 L618.8,447.5 L619.2,448.0 L619.6,447.7 L619.9,449.1 L620.3,448.9 L620.7,447.2 L621.1,447.7 L621.5,448.4 L621.9,448.0 L622.3,448.1 L622.7,449.3 L623.1,448.4 L623.5,446.4 L623.9,447.5 L624.2,447.7 L624.6,447.8 L625.0,445.4 L625.4,445.9 L625.8,446.1 L626.2,447.4 L626.6,447.5 L627.0,448.1 L627.4,447.5 L627.8,447.1 L628.2,448.8 L628.5,448.1 L628.9,447.9 L629.3,446.9 L629.7,447.2 L630.1,446.0 L630.5,446.3 L630.9,446.0 L631.3,446.2 L631.7,446.4 L632.1,446.3 L632.5,445.9 L632.9,444.0 L633.3,443.4 L633.8,443.3 L634.2,443.4 L634.6,442.5 L635.0,443.1 L635.4,441.4 L635.8,442.6 L636.2,442.4 L636.6,441.4 L637.0,443.4 L637.4,443.5 L637.9,444.0 L638.3,445.4 L638.7,448.2 L639.1,448.8 L639.5,448.9 L639.9,448.1 L640.3,447.9 L640.7,448.6 L641.2,448.2 L641.6,449.8 L642.0,450.0 L642.4,449.8 L642.8,450.4 L643.2,451.0 L643.6,451.3 L644.0,450.0 L644.4,450.2 L644.9,451.1 L645.3,452.4 L645.7,451.9 L646.1,452.7 L646.5,452.2 L646.9,451.2 L647.3,452.2 L647.7,452.3 L648.1,452.8 L648.5,452.8 L648.9,452.9 L649.3,452.8 L649.7,452.3 L650.1,452.7 L650.5,452.8 L650.9,453.5 L651.3,454.5 L651.7,455.6 L652.1,454.9 L652.5,455.0 L652.9,455.4 L653.3,453.3 L653.7,453.2 L654.1,453.6 L654.5,453.9 L654.9,455.1 L655.2,455.2 L655.6,455.6 L656.0,456.3 L656.4,456.0 L656.8,454.6 L657.2,453.7 L657.6,455.9 L658.0,457.6 L658.4,457.7 L658.8,457.8 L659.2,457.3 L659.5,457.2 L659.9,457.7 L660.3,457.4 L660.7,457.8 L661.1,457.9 L661.5,458.1 L661.9,458.1 L662.3,456.3 L662.7,455.7 L663.1,455.8 L663.5,455.5 L663.9,455.8 L664.3,457.7 L664.7,456.1 L665.1,456.2 L665.5,457.4 L665.9,456.3 L666.3,455.3 L666.7,456.4 L667.1,456.3 L667.5,455.6 L667.9,457.3 L668.3,454.1 L668.7,455.0 L669.1,455.4 L669.5,456.5 L669.9,456.5 L670.3,457.1 L670.7,455.9 L671.1,455.4 L671.5,457.6 L671.9,456.6 L672.3,456.0 L672.7,456.8 L673.1,457.3 L673.5,457.3 L673.9,457.6 L674.3,457.0 L674.6,457.1 L675.0,456.7 L675.4,456.9 L675.8,456.2 L676.2,457.1 L676.6,460.2 L677.0,459.6 L677.4,459.3 L677.8,459.8 L678.2,460.1 L678.6,461.3 L679.0,458.8 L679.4,458.8 L679.8,457.3 L680.2,457.3 L680.6,456.3 L681.0,454.9 L681.4,455.6 L681.8,456.1 L682.2,455.1 L682.6,454.4 L683.0,454.1 L683.4,454.1 L683.8,455.0 L684.2,454.6 L684.6,454.7 L685.0,456.5 L685.4,456.7 L685.8,455.9 L686.2,455.9 L686.7,455.0 L687.1,454.7 L687.5,453.5 L687.9,452.0 L688.3,452.2 L688.7,451.7 L689.1,453.3 L689.5,453.4 L689.9,450.0 L690.3,451.0 L690.7,451.1 L691.1,449.6 L691.5,449.7 L691.8,450.3 L692.2,448.7 L692.6,446.8 L693.0,446.0 L693.4,445.5 L693.8,444.7 L694.2,443.0 L694.6,442.8 L695.0,441.8 L695.4,441.6 L695.8,439.2 L696.2,438.1 L696.6,439.0 L697.0,439.7 L697.4,437.6 L697.8,440.2 L698.2,440.0 L698.6,440.9 L699.0,440.0 L699.3,442.8 L699.7,442.9 L700.1,444.4 L700.5,442.6 L700.9,442.4 L701.3,441.6 L701.7,438.3 L702.1,439.0 L702.5,435.1 L702.9,435.1 L703.3,435.7 L703.7,436.7 L704.1,434.5 L704.5,432.2 L704.9,430.8 L705.2,426.8 L705.6,423.9 L706.0,419.4 L706.4,419.5 L706.7,416.5 L707.1,414.5 L707.5,417.2 L707.9,420.1 L708.4,421.7 L708.8,425.5 L709.2,425.9 L709.6,425.3 L710.1,423.6 L710.5,421.9 L711.0,421.4 L711.4,419.6 L711.8,422.3 L712.2,420.8 L712.6,423.1 L713.0,424.4 L713.4,427.0 L713.8,431.6 L714.2,431.9 L714.6,429.6 L715.0,431.0 L715.5,431.3 L715.9,432.4 L716.3,433.5 L716.7,432.7 L717.0,433.0 L717.4,431.3 L717.8,429.6 L718.1,426.2 L718.5,427.6 L718.9,429.8 L719.2,433.4 L719.6,436.6 L720.0,439.0 L720.4,441.0 L720.9,441.7 L721.3,445.8 L721.7,445.3 L722.1,444.2 L722.5,443.5 L722.9,443.1 L723.3,443.6 L723.7,442.8 L724.0,444.5 L724.4,442.1 L724.8,442.7 L725.2,443.3 L725.6,442.8 L726.0,442.8 L726.4,442.8 L726.8,442.5 L727.2,441.3 L727.6,441.9 L728.0,441.1 L728.4,441.1 L728.8,442.0 L729.2,444.1 L729.7,442.8 L730.1,443.6 L730.5,442.6 L730.9,442.6 L731.3,442.8 L731.7,441.7 L732.1,441.0 L732.5,441.2 L732.9,441.0 L733.3,440.5 L733.7,439.9 L734.1,440.2 L734.5,437.6 L734.8,436.2 L735.2,437.8 L735.6,437.8 L736.0,437.8 L736.4,437.4 L736.8,437.5 L737.2,437.7 L737.6,438.5 L738.0,439.5 L738.4,439.5 L738.8,440.9 L739.1,440.5 L739.5,440.2 L739.9,442.2 L740.3,441.7 L740.7,441.6 L741.1,443.1 L741.5,441.7 L741.9,441.8 L742.3,442.1 L742.7,439.5 L743.1,439.1 L743.5,440.3 L743.9,441.1 L744.3,439.3 L744.7,439.6 L745.1,440.6 L745.5,439.8 L745.9,439.9 L746.3,438.7 L746.7,438.9 L747.1,438.3 L747.5,438.0 L747.9,439.2 L748.3,439.2 L748.7,439.5 L749.1,439.2 L749.5,438.3 L749.9,439.2 L750.3,438.7 L750.8,440.3 L751.2,440.2 L751.6,441.2 L752.0,440.5 L752.4,441.3 L752.8,442.1 L753.2,442.0 L753.6,441.3 L754.0,440.0 L754.4,440.3 L754.8,440.4 L755.2,440.3 L755.7,440.6 L756.1,440.7 L756.5,441.5 L756.9,442.8 L757.3,442.2 L757.7,442.8 L758.2,441.3 L758.6,442.0 L759.0,440.6 L759.4,440.1 L759.8,439.9 L760.2,437.5 L760.6,436.5 L761.0,435.3 L761.4,434.7 L761.8,433.1 L762.2,433.5 L762.6,432.3 L763.0,431.6 L763.4,431.2 L763.9,430.4 L764.3,429.7 L764.7,428.6 L765.1,429.2 L765.5,430.1 L765.9,429.2 L766.3,429.5 L766.7,431.4 L767.0,430.0 L767.4,429.9 L767.8,431.1 L768.2,432.0 L768.6,432.9 L769.0,432.0 L769.4,434.9 L769.8,434.5 L770.2,434.9 L770.6,435.0 L771.1,435.2 L771.5,435.1 L771.9,435.7 L772.3,436.7 L772.7,436.3 L773.1,435.3 L773.5,435.3 L773.8,435.4 L774.2,435.5 L774.6,435.7 L775.0,436.3" fill="none" stroke="#00008b" stroke-width="1.45" stroke-dasharray="1.9 0.9" stroke-linecap="butt" stroke-linejoin="round"/>
<path d="M54.3,393.7 L54.8,394.6 L55.3,394.0 L55.8,394.7 L56.3,393.9 L56.8,394.9 L57.3,394.9 L57.8,396.0 L58.3,396.3 L58.8,396.0 L59.3,395.6 L59.8,396.0 L60.3,395.9 L60.8,395.3 L61.3,396.1 L61.8,394.4 L62.3,395.2 L62.8,397.2 L63.3,397.3 L63.8,396.0 L64.3,397.1 L64.8,397.2 L65.3,396.7 L65.8,396.5 L66.3,397.1 L66.8,398.0 L67.4,398.0 L67.9,399.4 L68.4,398.7 L68.9,399.4 L69.4,398.3 L69.9,397.5 L70.5,398.5 L71.0,399.4 L71.5,401.1 L72.0,400.4 L72.5,400.4 L73.0,399.4 L73.5,399.7 L74.0,400.2 L74.5,399.9 L75.0,400.7 L75.5,401.4 L76.0,401.2 L76.5,400.6 L77.0,400.2 L77.5,400.6 L78.0,399.6 L78.5,400.5 L78.9,399.9 L79.4,400.2 L79.9,399.3 L80.4,399.0 L80.9,398.9 L81.4,399.8 L81.9,399.9 L82.4,400.0 L82.9,400.7 L83.4,399.8 L83.9,400.5 L84.4,399.9 L84.9,399.4 L85.4,399.3 L85.9,400.4 L86.4,401.6 L86.9,400.8 L87.4,400.1 L87.9,399.5 L88.4,400.4 L88.9,401.2 L89.5,401.8 L90.0,402.1 L90.5,403.1 L91.0,402.8 L91.5,403.0 L92.0,402.8 L92.5,402.3 L93.0,401.2 L93.5,401.9 L94.0,401.7 L94.5,401.6 L95.0,401.4 L95.5,401.7 L96.0,401.8 L96.5,400.1 L97.0,400.5 L97.5,401.1 L98.0,401.3 L98.6,401.0 L99.1,401.0 L99.6,399.7 L100.1,400.2 L100.6,400.0 L101.1,400.0 L101.6,400.4 L102.1,400.1 L102.6,399.0 L103.1,397.8 L103.6,398.2 L104.1,398.8 L104.6,399.3 L105.1,400.2 L105.6,400.2 L106.1,400.2 L106.6,398.7 L107.1,399.7 L107.6,399.8 L108.1,401.2 L108.6,401.1 L109.1,400.0 L109.6,400.0 L110.1,400.4 L110.6,399.5 L111.1,398.5 L111.6,399.4 L112.1,399.3 L112.6,399.5 L113.1,399.7 L113.6,399.7 L114.1,400.4 L114.6,400.4 L115.1,400.3 L115.6,400.6 L116.1,400.0 L116.6,398.9 L117.1,399.0 L117.6,398.1 L118.1,398.7 L118.7,397.9 L119.2,398.2 L119.7,399.3 L120.2,399.4 L120.7,398.3 L121.2,397.3 L121.7,397.3 L122.2,398.3 L122.7,398.5 L123.2,397.0 L123.7,397.9 L124.2,397.8 L124.7,398.1 L125.2,398.6 L125.7,397.3 L126.2,397.5 L126.8,397.3 L127.3,397.8 L127.8,397.0 L128.3,395.7 L128.8,396.1 L129.3,396.8 L129.8,396.2 L130.3,395.9 L130.8,396.2 L131.3,396.2 L131.8,396.1 L132.3,396.1 L132.8,397.5 L133.3,396.9 L133.8,397.2 L134.3,398.0 L134.8,398.5 L135.3,396.9 L135.8,396.7 L136.3,396.3 L136.8,397.0 L137.3,395.9 L137.8,396.0 L138.3,396.9 L138.8,397.9 L139.3,397.4 L139.8,398.2 L140.3,399.4 L140.8,398.6 L141.3,399.7 L141.8,399.5 L142.3,397.9 L142.8,398.8 L143.3,399.3 L143.8,400.6 L144.3,400.0 L144.8,401.5 L145.3,401.2 L145.8,401.5 L146.3,401.3 L146.8,401.8 L147.3,402.7 L147.8,402.4 L148.3,402.0 L148.8,402.7 L149.3,402.6 L149.8,403.0 L150.3,403.9 L150.8,403.9 L151.3,404.1 L151.8,404.2 L152.3,404.4 L152.8,405.1 L153.3,405.8 L153.8,405.5 L154.3,403.8 L154.8,403.1 L155.4,404.4 L155.9,405.5 L156.4,406.0 L156.9,405.0 L157.4,405.0 L157.9,404.5 L158.5,404.8 L159.0,404.7 L159.5,404.0 L160.0,404.7 L160.5,404.7 L161.0,406.1 L161.5,406.2 L162.0,404.4 L162.5,405.0 L163.0,404.1 L163.5,403.8 L164.0,403.9 L164.6,403.2 L165.1,405.8 L165.6,405.7 L166.1,404.4 L166.6,405.1 L167.1,403.1 L167.6,404.4 L168.1,404.3 L168.6,404.4 L169.1,404.4 L169.6,403.7 L170.1,403.4 L170.6,401.9 L171.0,401.9 L171.5,401.1 L172.0,401.1 L172.5,400.3 L173.0,400.1 L173.5,399.6 L174.0,398.8 L174.5,398.6 L175.0,399.8 L175.5,399.5 L176.0,399.6 L176.5,399.4 L177.0,400.1 L177.5,399.3 L178.0,397.5 L178.5,397.9 L179.0,398.2 L179.5,399.6 L180.0,398.9 L180.5,398.7 L181.0,399.4 L181.5,399.9 L182.0,399.4 L182.5,400.2 L183.0,399.4 L183.5,399.4 L184.0,398.7 L184.5,397.3 L185.0,397.6 L185.5,397.9 L186.0,397.9 L186.5,400.2 L187.0,398.8 L187.5,399.4 L188.0,400.6 L188.5,400.7 L189.0,400.6 L189.5,399.9 L190.0,399.5 L190.5,400.6 L191.0,401.4 L191.5,400.4 L192.0,400.6 L192.5,400.4 L193.0,400.8 L193.5,400.1 L194.0,400.9 L194.5,400.4 L195.0,400.7 L195.5,400.2 L196.0,401.1 L196.5,400.7 L197.0,401.2 L197.5,401.0 L198.0,401.5 L198.5,401.6 L199.0,403.1 L199.5,401.7 L200.0,402.1 L200.5,401.2 L201.0,401.2 L201.5,399.9 L202.0,401.3 L202.5,399.5 L203.0,400.7 L203.5,399.7 L204.0,400.0 L204.5,400.7 L205.0,400.2 L205.5,400.7 L206.0,400.7 L206.5,400.3 L207.0,400.8 L207.5,401.8 L208.0,401.5 L208.5,401.1 L209.0,401.0 L209.5,400.8 L210.0,401.6 L210.5,401.7 L211.0,401.1 L211.5,401.1 L212.0,400.1 L212.5,400.2 L213.0,400.5 L213.5,400.4 L214.0,400.3 L214.5,401.0 L215.0,401.2 L215.5,401.2 L216.0,399.2 L216.5,399.8 L217.0,399.5 L217.5,399.4 L218.0,399.8 L218.5,400.3 L219.0,398.9 L219.5,400.5 L220.0,400.7 L220.5,400.3 L221.0,399.4 L221.5,398.7 L222.0,400.4 L222.5,399.7 L223.0,399.6 L223.5,399.6 L224.0,399.6 L224.5,401.4 L225.0,402.0 L225.5,400.3 L226.0,399.6 L226.5,400.8 L227.0,400.6 L227.5,399.6 L228.0,399.4 L228.5,400.3 L229.0,400.1 L229.5,400.0 L230.0,402.6 L230.5,401.8 L231.0,400.4 L231.5,400.6 L232.0,399.6 L232.5,399.3 L233.0,399.4 L233.5,398.8 L234.0,399.6 L234.5,399.8 L235.0,399.8 L235.5,400.6 L236.0,401.1 L236.5,400.5 L237.0,401.2 L237.5,401.6 L238.0,400.6 L238.5,401.0 L239.0,399.8 L239.5,399.1 L240.0,399.5 L240.5,400.4 L241.0,401.8 L241.5,401.0 L242.0,401.3 L242.5,399.7 L243.0,399.9 L243.5,400.7 L244.0,399.8 L244.5,399.8 L245.0,400.0 L245.5,401.1 L246.0,399.6 L246.5,398.9 L247.0,399.6 L247.5,400.1 L248.0,400.1 L248.5,399.3 L249.0,399.4 L249.5,400.8 L250.0,399.9 L250.5,400.2 L251.0,400.6 L251.5,399.2 L252.0,398.8 L252.5,399.3 L253.0,399.0 L253.5,399.0 L254.0,398.4 L254.5,398.4 L255.0,398.4 L255.5,399.7 L256.0,399.3 L256.5,399.0 L257.0,399.6 L257.5,399.3 L258.0,398.8 L258.5,399.0 L259.0,397.5 L259.5,397.5 L260.0,398.0 L260.5,397.8 L261.0,397.7 L261.5,397.7 L262.0,397.0 L262.5,398.0 L263.0,397.3 L263.5,397.9 L264.0,396.8 L264.5,398.7 L265.0,398.4 L265.5,396.3 L266.0,395.4 L266.5,394.9 L267.0,395.4 L267.5,395.6 L268.0,397.1 L268.5,397.9 L269.0,396.0 L269.5,395.6 L270.0,394.4 L270.5,393.6 L271.0,393.3 L271.5,393.0 L272.0,392.2 L272.5,392.2 L273.0,390.0 L273.5,390.8 L274.0,392.6 L274.5,394.7 L275.0,395.6 L275.5,397.1 L276.0,399.5 L276.5,398.5 L277.0,398.6 L277.5,397.8 L278.0,398.7 L278.5,397.5 L279.0,398.1 L279.5,400.0 L280.0,399.5 L280.5,398.9 L281.0,399.1 L281.5,399.1 L282.0,398.8 L282.5,398.5 L283.0,398.8 L283.5,399.1 L284.0,398.6 L284.5,399.1 L285.0,398.7 L285.5,398.8 L286.0,398.8 L286.5,398.1 L287.0,397.3 L287.5,399.5 L288.0,398.8 L288.5,398.7 L289.0,399.3 L289.5,400.2 L290.0,400.0 L290.5,399.5 L291.0,400.5 L291.5,401.0 L291.9,400.5 L292.4,400.7 L292.9,400.9 L293.4,402.6 L293.9,402.3 L294.4,401.2 L294.9,401.5 L295.4,400.6 L295.9,401.5 L296.4,402.6 L296.9,403.3 L297.3,403.2 L297.8,402.6 L298.3,402.5 L298.8,402.1 L299.3,402.4 L299.8,401.6 L300.3,400.7 L300.8,402.2 L301.3,402.9 L301.8,402.9 L302.3,403.3 L302.9,404.6 L303.4,404.7 L303.9,405.7 L304.4,406.3 L304.9,405.6 L305.4,407.2 L305.9,407.8 L306.4,407.0 L306.9,407.3 L307.4,406.8 L308.0,407.4 L308.5,408.6 L309.0,408.5 L309.5,408.2 L310.0,409.1 L310.5,408.8 L311.0,408.7 L311.5,409.3 L312.0,409.0 L312.5,407.8 L313.0,407.0 L313.5,407.6 L314.0,408.1 L314.5,406.6 L315.0,405.9 L315.5,405.0 L316.0,404.0 L316.5,401.2 L317.0,399.1 L317.5,397.8 L318.0,396.0 L318.5,396.0 L319.0,393.8 L319.5,391.8 L320.0,391.7 L320.5,389.6 L321.0,388.7 L321.5,389.1 L322.0,388.9 L322.5,389.1 L323.0,387.8 L323.5,388.2 L324.0,388.0 L324.5,387.1 L325.0,387.4 L325.5,389.6 L326.0,387.4 L326.5,390.1 L327.0,389.2 L327.5,387.4 L328.0,383.4 L328.5,383.1 L329.0,383.0 L329.5,382.4 L330.0,384.7 L330.5,386.3 L331.0,385.9 L331.5,385.6 L332.0,385.2 L332.5,384.0 L333.0,384.0 L333.5,387.4 L334.0,385.2 L334.5,386.5 L335.0,387.2 L335.5,386.3 L336.0,387.1 L336.5,385.9 L337.0,385.1 L337.5,384.8 L338.0,386.6 L338.5,385.7 L339.0,381.5 L339.5,383.2 L340.0,383.7 L340.5,384.5 L341.0,384.6 L341.5,385.1 L342.0,388.1 L342.5,387.5 L343.0,387.0 L343.5,383.9 L344.0,383.6 L344.5,383.2 L345.0,383.0 L345.5,383.6 L346.0,382.6 L346.5,382.0 L347.0,382.7 L347.5,384.8 L348.0,384.6 L348.5,386.7 L349.0,389.9 L349.5,388.1 L350.0,388.6 L350.5,390.1 L351.0,388.2 L351.5,389.9 L352.0,390.7 L352.5,394.7 L353.0,394.3 L353.5,395.8 L354.0,397.3 L354.5,395.5 L355.0,395.4 L355.5,399.1 L356.0,399.1 L356.5,402.6 L357.0,401.5 L357.5,400.6 L358.0,401.4 L358.5,403.7 L359.0,403.0 L359.5,406.3 L360.0,401.6 L360.5,400.2 L361.0,401.0 L361.5,400.8 L362.0,399.7 L362.5,400.8 L363.0,399.1 L363.5,401.1 L364.0,400.9 L364.5,400.1 L365.0,400.0 L365.5,399.7 L366.0,400.3 L366.5,397.7 L367.0,398.8 L367.5,398.8 L368.0,398.9 L368.5,402.5 L369.0,403.1 L369.6,402.6 L370.1,402.8 L370.6,406.4 L371.1,405.7 L371.6,404.2 L372.2,407.5 L372.7,410.7 L373.2,412.8 L373.8,418.8 L374.3,417.6 L374.8,417.7 L375.2,419.0 L375.7,420.3 L376.2,420.1 L376.7,421.6 L377.1,423.7 L377.6,425.0 L378.1,425.0 L378.6,423.2 L379.1,424.0 L379.7,421.9 L380.2,419.4 L380.7,419.4 L381.2,422.6 L381.6,421.0 L382.1,424.3 L382.6,423.5 L383.1,424.1 L383.5,423.7 L384.0,425.1 L384.5,426.1 L385.0,425.1 L385.5,424.4 L386.0,423.0 L386.5,423.3 L387.0,425.9 L387.4,427.2 L387.9,427.8 L388.4,428.2 L388.9,428.5 L389.4,430.4 L389.9,430.4 L390.4,422.6 L391.0,417.1 L391.5,415.9 L392.0,415.1 L392.4,414.1 L392.9,413.2 L393.4,412.7 L393.9,413.8 L394.3,411.5 L394.8,411.3 L395.3,411.1 L395.8,408.3 L396.3,412.0 L396.8,411.0 L397.3,412.7 L397.8,414.1 L398.3,413.7 L398.7,413.4 L399.2,418.7 L399.7,417.8 L400.2,416.8 L400.7,416.0 L401.2,416.8 L401.7,416.7 L402.2,415.6 L402.7,418.4 L403.1,417.3 L403.6,419.5 L404.1,421.0 L404.6,421.8 L405.0,422.2 L405.5,420.1 L406.0,421.1 L406.5,421.0 L407.0,421.9 L407.5,421.4 L408.0,423.6 L408.5,423.5 L409.0,424.2 L409.5,427.0 L410.0,423.8 L410.6,423.2 L411.1,421.1 L411.6,420.4 L412.1,420.7 L412.6,423.0 L413.1,422.1 L413.6,425.7 L414.1,425.8 L414.6,425.6 L415.1,427.1 L415.6,425.3 L416.0,422.2 L416.5,420.8 L417.0,422.8 L417.5,421.8 L417.9,418.4 L418.4,418.7 L418.9,418.1 L419.4,417.4 L419.8,414.7 L420.3,411.4 L420.8,408.4 L421.3,407.5 L421.7,407.6 L422.2,406.4 L422.7,406.2 L423.3,407.0 L423.8,405.8 L424.3,406.0 L424.9,403.8 L425.4,404.7 L425.9,410.9 L426.4,413.1 L427.0,414.4 L427.5,415.0 L428.0,417.8 L428.5,418.2 L428.9,418.4 L429.4,416.0 L429.9,416.7 L430.4,415.1 L430.8,414.7 L431.3,410.5 L431.8,411.4 L432.3,413.9 L432.8,417.5 L433.2,420.1 L433.7,421.7 L434.2,422.2 L434.7,422.1 L435.1,422.4 L435.6,425.2 L436.1,423.0 L436.6,423.2 L437.1,421.0 L437.6,421.2 L438.1,423.1 L438.6,424.8 L439.1,422.4 L439.6,422.6 L440.1,422.3 L440.6,424.3 L441.1,424.8 L441.6,426.7 L442.1,425.2 L442.6,425.5 L443.1,427.4 L443.6,427.0 L444.1,427.4 L444.6,426.4 L445.1,426.4 L445.6,428.1 L446.0,427.6 L446.5,427.6 L447.0,429.3 L447.5,430.4 L448.0,430.8 L448.5,428.9 L449.0,429.0 L449.5,429.3 L450.0,427.8 L450.4,427.4 L450.9,427.3 L451.4,428.0 L451.9,426.4 L452.3,424.8 L452.8,424.8 L453.3,424.7 L453.8,425.8 L454.3,427.0 L454.8,428.4 L455.3,428.2 L455.8,428.4 L456.3,428.6 L456.8,429.6 L457.3,429.7 L457.8,428.9 L458.3,429.7 L458.8,430.7 L459.3,431.2 L459.8,433.1 L460.3,431.5 L460.8,432.7 L461.3,432.8 L461.8,434.0 L462.3,434.0 L462.8,433.8 L463.2,433.7 L463.7,433.9 L464.2,434.3 L464.7,435.9 L465.2,436.6 L465.7,435.7 L466.2,435.4 L466.7,435.6 L467.2,436.0 L467.6,436.0 L468.1,437.8 L468.6,438.0 L469.1,438.7 L469.5,439.3 L470.0,439.5 L470.5,439.3 L471.0,438.7 L471.5,437.6 L471.9,437.6 L472.4,437.7 L472.9,438.4 L473.4,437.5 L473.8,437.9 L474.3,436.8 L474.8,436.0 L475.3,436.4 L475.8,435.4 L476.3,435.5 L476.8,435.2 L477.3,435.4 L477.8,436.6 L478.3,435.8 L478.8,435.3 L479.4,436.0 L479.9,435.9 L480.4,434.0 L480.9,434.4 L481.4,434.8 L481.9,436.3 L482.4,435.6 L482.9,434.1 L483.4,434.2 L483.9,435.7 L484.4,436.3 L485.0,435.8 L485.5,436.3 L486.0,436.9 L486.5,438.7 L487.0,439.7 L487.6,439.4 L488.1,441.1 L488.6,442.1 L489.1,441.5 L489.6,441.5 L490.1,440.6 L490.6,439.9 L491.1,440.8 L491.6,441.2 L492.1,441.8 L492.6,442.0 L493.1,441.7 L493.6,442.8 L494.1,440.5 L494.6,440.7 L495.1,441.7 L495.5,441.2 L496.0,441.0 L496.5,441.5 L497.0,442.1 L497.5,442.6 L498.0,442.8 L498.5,442.5 L499.0,441.5 L499.5,441.5 L500.0,441.3 L500.5,442.4 L501.0,442.5 L501.5,440.4 L502.0,439.0 L502.5,438.9 L503.0,438.5 L503.5,438.2 L504.0,439.3 L504.5,439.9 L505.0,439.6 L505.5,439.6 L506.0,439.5 L506.5,438.9 L507.0,439.2 L507.5,438.8 L508.0,439.3 L508.5,438.4 L509.0,438.6 L509.5,438.4 L510.0,440.2 L510.5,440.4 L511.0,441.1 L511.5,440.4 L512.0,440.0 L512.5,438.8 L513.0,440.4 L513.5,440.0 L514.0,440.1 L514.5,440.4 L514.9,440.0 L515.4,439.2 L515.9,439.7 L516.4,442.3 L516.9,441.8 L517.4,441.6 L517.9,441.5 L518.4,441.5 L518.9,441.7 L519.4,441.2 L519.9,440.9 L520.4,440.4 L520.9,441.1 L521.4,441.8 L521.9,441.8 L522.4,442.8 L522.9,441.3 L523.4,440.1 L524.0,439.8 L524.5,440.5 L525.0,438.7 L525.5,439.7 L526.0,439.6 L526.5,440.4 L527.0,439.6 L527.5,438.4 L528.0,437.4 L528.5,438.6 L529.1,438.5 L529.6,437.7 L530.1,437.4 L530.6,437.4 L531.1,437.4 L531.6,436.6 L532.1,436.8 L532.6,435.8 L533.1,435.0 L533.6,435.7 L534.1,434.7 L534.6,434.3 L535.1,434.3 L535.6,434.2 L536.1,433.5 L536.6,435.1 L537.1,435.4 L537.6,437.0 L538.1,435.7 L538.6,436.4 L539.2,438.0 L539.7,440.3 L540.2,440.6 L540.8,442.5 L541.3,444.0 L541.8,443.4 L542.3,443.1 L542.8,443.6 L543.3,443.3 L543.8,443.6 L544.2,443.2 L544.7,443.7 L545.2,443.7 L545.7,444.6 L546.2,444.5 L546.7,443.6 L547.2,443.4 L547.7,443.7 L548.2,443.1 L548.7,443.1 L549.2,443.8 L549.7,442.2 L550.1,442.5 L550.6,443.5 L551.1,442.4 L551.6,443.8 L552.1,443.1 L552.6,443.6 L553.1,444.7 L553.6,443.9 L554.1,444.7 L554.6,444.5 L555.1,445.2 L555.6,446.0 L556.1,445.1 L556.6,444.7 L557.1,444.9 L557.7,446.1 L558.2,446.8 L558.7,447.5 L559.2,447.4 L559.7,446.8 L560.2,447.7 L560.7,447.3 L561.2,447.2 L561.7,447.8 L562.2,448.0 L562.7,447.6 L563.2,448.6 L563.7,448.6 L564.2,448.7 L564.7,449.5 L565.2,448.9 L565.7,449.4 L566.2,447.5 L566.7,447.6 L567.2,447.2 L567.7,446.8 L568.2,447.2 L568.7,446.6 L569.2,447.6 L569.8,448.4 L570.3,447.0 L570.8,447.8 L571.3,448.3 L571.8,448.6 L572.3,447.5 L572.8,447.4 L573.3,448.4 L573.8,448.2 L574.3,447.8 L574.8,448.1 L575.3,447.6 L575.8,446.3 L576.3,446.9 L576.8,446.9 L577.3,447.1 L577.8,446.6 L578.3,446.5 L578.8,446.5 L579.3,445.6 L579.9,445.3 L580.4,446.3 L580.9,447.2 L581.4,447.1 L581.9,444.9 L582.4,445.3 L582.9,447.1 L583.4,446.3 L583.9,446.6 L584.4,446.4 L585.0,447.7 L585.5,446.7 L586.0,447.3 L586.5,446.3 L587.0,446.3 L587.5,446.5 L588.0,444.8 L588.5,445.5 L588.9,445.1 L589.4,445.2 L589.9,442.7 L590.4,441.9 L590.8,442.3 L591.3,440.9 L591.8,441.2 L592.3,441.2 L592.8,441.6 L593.3,443.2 L593.8,444.2 L594.3,446.1 L594.7,446.7 L595.2,446.5 L595.7,448.0 L596.2,446.8 L596.7,447.1 L597.2,448.0 L597.7,447.9 L598.2,449.7 L598.7,448.7 L599.2,447.2 L599.7,447.8 L600.1,447.2 L600.6,446.6 L601.1,447.5 L601.6,445.8 L602.1,445.1 L602.6,445.2 L603.1,447.8 L603.6,447.5 L604.1,446.9 L604.6,447.1 L605.1,447.7 L605.6,448.4 L606.0,447.9 L606.5,448.8 L607.0,448.1 L607.5,448.9 L608.0,449.2 L608.5,449.1 L609.0,449.1 L609.5,450.4 L610.0,450.9 L610.5,451.2 L611.0,450.8 L611.5,452.9 L611.9,451.7 L612.4,450.3 L612.9,450.6 L613.4,450.6 L613.9,452.6 L614.4,453.0 L614.9,451.8 L615.4,451.3 L615.9,452.0 L616.4,453.5 L616.9,453.0 L617.3,452.1 L617.8,451.8 L618.3,453.0 L618.8,453.3 L619.3,454.3 L619.8,453.5 L620.3,453.9 L620.8,454.0 L621.3,455.2 L621.8,454.2 L622.3,453.3 L622.8,452.2 L623.3,451.6 L623.8,451.4 L624.3,450.9 L624.8,451.4 L625.3,452.6 L625.8,451.8 L626.2,452.7 L626.7,452.3 L627.2,452.6 L627.7,451.4 L628.2,451.6 L628.7,450.5 L629.2,449.7 L629.7,451.0 L630.2,451.2 L630.7,451.6 L631.2,453.4 L631.7,452.6 L632.2,451.7 L632.7,452.1 L633.2,452.6 L633.7,452.7 L634.2,452.9 L634.7,454.4 L635.2,453.3 L635.6,454.0 L636.1,455.5 L636.6,455.8 L637.1,456.1 L637.6,456.7 L638.1,454.6 L638.6,455.1 L639.1,455.0 L639.6,455.6 L640.1,454.8 L640.6,455.3 L641.1,454.7 L641.6,453.8 L642.1,454.9 L642.6,454.5 L643.1,455.1 L643.6,454.3 L644.1,454.5 L644.6,455.1 L645.1,454.1 L645.6,454.2 L646.1,453.7 L646.6,452.5 L647.1,452.8 L647.5,455.2 L648.0,455.2 L648.5,454.9 L649.0,456.1 L649.5,456.2 L650.0,457.1 L650.5,456.4 L651.0,455.5 L651.4,456.7 L651.9,456.1 L652.4,455.9 L652.9,455.9 L653.4,456.6 L653.9,456.2 L654.4,458.2 L654.9,458.4 L655.4,457.8 L655.9,457.8 L656.4,458.0 L656.9,459.5 L657.5,459.0 L658.0,459.3 L658.5,457.6 L659.0,457.6 L659.5,458.4 L660.0,459.2 L660.5,459.1 L661.0,458.5 L661.5,459.3 L662.0,457.9 L662.5,458.0 L663.0,457.6 L663.5,457.8 L664.0,457.7 L664.4,458.2 L664.9,458.2 L665.4,457.8 L665.9,458.5 L666.4,460.2 L666.9,461.0 L667.4,459.3 L667.9,458.1 L668.4,458.6 L668.9,457.7 L669.4,457.3 L669.8,458.0 L670.3,457.2 L670.8,458.2 L671.3,459.5 L671.8,458.5 L672.3,458.8 L672.8,458.8 L673.3,459.0 L673.8,459.3 L674.3,458.3 L674.8,458.8 L675.4,458.2 L675.9,459.1 L676.4,459.7 L676.9,459.6 L677.4,458.3 L677.9,458.5 L678.4,458.7 L678.9,460.2 L679.4,460.5 L679.9,461.0 L680.5,461.3 L681.0,461.7 L681.5,461.8 L682.0,462.1 L682.5,463.5 L683.0,463.5 L683.5,462.0 L684.0,462.5 L684.5,462.2 L685.0,463.7 L685.5,461.2 L686.0,461.2 L686.5,460.9 L687.0,460.3 L687.6,461.0 L688.1,461.6 L688.6,461.0 L689.1,459.9 L689.6,460.2 L690.1,460.2 L690.6,460.8 L691.1,459.5 L691.6,459.5 L692.1,457.5 L692.6,458.1 L693.0,457.5 L693.5,455.7 L694.0,455.2 L694.5,453.0 L694.9,452.0 L695.4,453.3 L695.9,451.8 L696.4,450.4 L696.9,450.0 L697.4,451.5 L697.9,450.0 L698.4,449.7 L698.9,450.6 L699.4,452.5 L699.9,452.0 L700.4,451.6 L700.9,451.3 L701.4,450.8 L701.9,449.5 L702.4,449.2 L702.9,447.6 L703.4,446.0 L703.8,445.6 L704.3,443.5 L704.8,444.6 L705.3,444.4 L705.7,442.9 L706.2,441.2 L706.7,442.2 L707.2,441.7 L707.8,440.1 L708.3,438.6 L708.8,438.0 L709.3,440.2 L709.9,443.7 L710.4,444.6 L710.9,448.5 L711.5,450.5 L712.0,452.9 L712.5,450.6 L712.9,449.6 L713.4,451.4 L713.9,452.4 L714.4,451.8 L714.8,452.5 L715.3,452.6 L715.8,452.1 L716.4,450.4 L716.9,450.3 L717.4,447.1 L718.0,444.9 L718.5,446.0 L719.0,447.9 L719.6,446.0 L720.1,448.1 L720.6,446.5 L721.2,447.6 L721.7,447.4 L722.2,448.0 L722.7,448.6 L723.2,446.9 L723.7,447.3 L724.2,449.2 L724.7,445.6 L725.2,445.8 L725.7,446.1 L726.3,447.0 L726.8,445.6 L727.3,444.9 L727.8,445.7 L728.3,446.1 L728.8,445.3 L729.3,445.9 L729.8,445.8 L730.3,444.5 L730.8,442.7 L731.3,443.4 L731.8,444.2 L732.3,443.4 L732.8,443.2 L733.3,444.5 L733.8,444.1 L734.3,442.4 L734.8,441.0 L735.3,442.0 L735.8,443.5 L736.3,443.2 L736.8,441.7 L737.3,441.3 L737.8,441.9 L738.3,441.8 L738.8,442.4 L739.3,442.9 L739.8,442.2 L740.2,442.3 L740.7,441.9 L741.2,441.9 L741.7,442.4 L742.2,442.9 L742.7,442.7 L743.2,443.2 L743.7,440.7 L744.2,442.1 L744.7,442.5 L745.2,443.0 L745.7,443.8 L746.2,444.8 L746.7,444.4 L747.2,444.1 L747.8,445.0 L748.3,444.9 L748.8,444.3 L749.3,444.1 L749.8,444.8 L750.3,444.6 L750.8,445.3 L751.3,444.7 L751.8,443.8 L752.3,444.3 L752.8,443.2 L753.3,445.0 L753.8,445.5 L754.3,446.0 L754.8,446.9 L755.3,446.7 L755.8,446.1 L756.3,445.8 L756.8,445.4 L757.3,444.9 L757.8,445.0 L758.3,446.6 L758.8,446.1 L759.3,445.3 L759.8,445.1 L760.3,443.5 L760.8,441.8 L761.3,442.5 L761.7,443.4 L762.2,444.0 L762.7,441.1 L763.2,441.0 L763.7,439.8 L764.2,440.1 L764.7,439.2 L765.2,439.6 L765.7,438.5 L766.1,438.4 L766.6,439.3 L767.1,439.0 L767.6,439.1 L768.0,440.2 L768.5,439.9 L769.0,441.1 L769.5,439.7 L770.0,440.2 L770.5,439.6 L771.0,440.8 L771.5,439.8 L771.9,440.0 L772.4,440.5 L772.9,441.5 L773.4,441.7 L773.9,441.4 L774.4,442.0" fill="none" stroke="#800080" stroke-width="1.45" stroke-dasharray="1.9 0.9" stroke-linecap="butt" stroke-linejoin="round"/>
<path d="M54.3,394.9 L55.0,395.4 L55.7,394.8 L56.4,394.0 L57.2,393.3 L57.9,393.6 L58.6,393.1 L59.3,392.6 L60.0,393.3 L60.7,393.6 L61.4,394.0 L62.2,393.3 L62.9,393.5 L63.6,393.6 L64.3,392.7 L65.0,392.8 L65.7,392.3 L66.5,393.0 L67.2,391.8 L67.9,390.5 L68.6,391.9 L69.3,392.5 L70.1,393.6 L70.8,393.8 L71.5,394.7 L72.2,395.2 L72.9,395.3 L73.7,395.1 L74.4,394.2 L75.1,394.7 L75.8,394.8 L76.5,395.2 L77.3,395.2 L78.0,395.7 L78.7,395.3 L79.4,395.3 L80.2,395.6 L80.9,394.7 L81.6,394.7 L82.3,394.3 L83.0,395.5 L83.7,394.8 L84.4,394.7 L85.2,394.5 L85.9,393.8 L86.6,392.5 L87.3,393.1 L88.0,393.2 L88.7,394.0 L89.4,393.5 L90.2,393.8 L90.9,395.2 L91.6,396.2 L92.3,395.3 L93.0,394.9 L93.7,395.1 L94.4,395.5 L95.2,395.3 L95.9,395.2 L96.6,394.3 L97.3,394.7 L98.0,395.1 L98.8,394.3 L99.5,393.1 L100.2,392.8 L100.9,393.4 L101.6,392.2 L102.4,392.4 L103.1,391.9 L103.8,392.0 L104.5,391.9 L105.2,391.9 L106.0,392.7 L106.7,392.4 L107.4,392.7 L108.1,392.3 L108.8,392.1 L109.5,392.6 L110.2,391.0 L111.0,392.0 L111.7,392.8 L112.4,392.5 L113.1,393.5 L113.8,393.1 L114.5,391.7 L115.2,392.2 L116.0,392.0 L116.7,392.1 L117.4,392.3 L118.1,393.2 L118.8,393.0 L119.5,392.7 L120.3,392.8 L121.0,391.4 L121.7,392.4 L122.4,391.7 L123.1,392.3 L123.8,391.6 L124.4,391.4 L125.1,391.6 L125.8,393.1 L126.5,393.3 L127.2,392.6 L127.9,392.4 L128.6,391.8 L129.2,392.2 L129.9,392.1 L130.6,392.8 L131.3,392.0 L132.0,392.2 L132.7,392.0 L133.4,392.0 L134.0,392.8 L134.7,393.0 L135.4,393.3 L136.1,393.9 L136.8,394.3 L137.5,393.0 L138.2,393.4 L139.0,392.4 L139.7,392.8 L140.4,394.3 L141.1,393.8 L141.8,393.5 L142.5,393.7 L143.2,393.8 L144.0,393.8 L144.7,393.4 L145.4,394.3 L146.1,394.7 L146.8,394.3 L147.5,394.5 L148.3,394.8 L149.0,395.2 L149.7,395.1 L150.4,395.2 L151.1,394.7 L151.8,393.9 L152.5,393.8 L153.1,394.6 L153.8,395.1 L154.5,394.8 L155.2,394.2 L155.9,394.4 L156.6,395.4 L157.3,395.7 L157.9,394.6 L158.6,394.4 L159.3,393.4 L160.0,393.1 L160.7,393.7 L161.4,393.9 L162.1,394.6 L162.7,395.1 L163.4,395.2 L164.1,395.5 L164.8,394.5 L165.5,393.3 L166.3,393.4 L167.0,394.6 L167.8,393.7 L168.5,392.2 L169.3,392.0 L170.0,392.4 L170.7,391.2 L171.3,391.6 L172.0,390.9 L172.7,391.6 L173.4,391.6 L174.1,391.2 L174.7,391.9 L175.4,390.8 L176.1,390.0 L176.8,391.0 L177.4,389.8 L178.1,391.0 L178.8,390.5 L179.5,389.8 L180.2,390.1 L180.8,390.4 L181.5,390.8 L182.2,390.8 L182.9,391.7 L183.6,390.2 L184.2,390.6 L184.9,391.0 L185.6,392.6 L186.3,391.3 L186.9,390.5 L187.6,389.1 L188.2,388.2 L188.9,388.0 L189.5,387.4 L190.1,387.1 L190.8,385.3 L191.4,384.4 L192.0,383.9 L192.8,386.0 L193.6,387.3 L194.4,389.7 L195.1,389.1 L195.8,390.6 L196.5,390.5 L197.2,390.5 L197.9,390.9 L198.6,391.6 L199.3,392.7 L200.0,391.8 L200.7,391.1 L201.5,391.2 L202.2,390.3 L202.9,389.2 L203.6,390.0 L204.4,389.7 L205.1,390.3 L205.8,389.3 L206.5,387.0 L207.1,387.4 L207.8,387.3 L208.4,387.8 L209.1,387.1 L209.9,388.9 L210.7,390.9 L211.5,392.2 L212.2,392.3 L213.0,391.5 L213.7,392.2 L214.4,391.9 L215.2,391.9 L215.9,392.7 L216.6,393.3 L217.3,392.5 L218.1,393.9 L218.8,393.1 L219.5,393.5 L220.2,393.7 L220.9,393.3 L221.5,393.1 L222.2,393.9 L222.9,393.8 L223.6,393.4 L224.3,391.8 L224.9,391.5 L225.6,392.5 L226.3,392.4 L227.0,391.7 L227.7,391.5 L228.3,391.7 L229.0,392.4 L229.7,392.7 L230.4,393.2 L231.1,392.4 L231.7,393.1 L232.4,392.6 L233.1,392.5 L233.8,393.7 L234.4,393.4 L235.1,393.1 L235.8,392.7 L236.4,392.3 L237.1,393.1 L237.8,393.4 L238.5,393.0 L239.1,392.4 L239.8,392.5 L240.5,391.8 L241.2,391.7 L241.8,391.4 L242.5,391.1 L243.2,391.7 L243.9,392.1 L244.6,392.1 L245.2,390.1 L245.9,391.2 L246.6,391.1 L247.3,390.3 L248.0,390.1 L248.7,390.7 L249.3,390.9 L250.0,390.9 L250.7,390.4 L251.4,390.0 L252.1,390.2 L252.8,389.7 L253.4,388.9 L254.1,388.5 L254.8,388.5 L255.4,388.8 L256.1,390.0 L256.8,388.5 L257.5,388.6 L258.1,388.3 L258.8,388.4 L259.5,388.9 L260.2,388.7 L260.9,387.5 L261.7,386.4 L262.4,385.0 L263.1,384.8 L263.8,385.2 L264.6,384.3 L265.3,384.1 L266.0,383.8 L266.7,383.1 L267.4,382.9 L268.1,381.9 L268.8,380.6 L269.5,379.4 L270.2,379.8 L270.9,378.9 L271.7,371.5 L272.5,364.7 L273.1,363.3 L273.8,363.7 L274.4,371.0 L275.0,377.6 L275.7,377.9 L276.4,379.5 L277.1,379.4 L277.7,380.0 L278.4,381.1 L279.1,382.2 L279.8,383.2 L280.5,384.4 L281.2,385.0 L281.8,385.9 L282.5,387.6 L283.2,388.6 L283.9,389.0 L284.6,390.4 L285.3,389.2 L286.0,389.9 L286.7,390.9 L287.4,391.9 L288.1,392.1 L288.8,392.1 L289.5,392.2 L290.2,391.7 L290.9,391.7 L291.6,389.7 L292.3,390.3 L293.0,389.9 L293.7,390.6 L294.4,390.4 L295.1,390.0 L295.8,388.9 L296.5,388.5 L297.2,387.6 L297.9,387.1 L298.6,386.4 L299.3,385.9 L300.0,387.3 L300.7,387.3 L301.4,385.7 L302.1,386.5 L302.8,385.6 L303.5,385.8 L304.2,385.6 L304.9,385.5 L305.6,385.8 L306.2,385.6 L306.9,384.8 L307.6,385.1 L308.3,385.5 L309.0,386.1 L309.7,385.0 L310.4,383.6 L311.1,383.2 L311.8,383.3 L312.5,382.3 L313.2,381.6 L313.9,381.3 L314.5,380.3 L315.2,379.5 L315.8,378.1 L316.5,376.7 L317.3,363.0 L317.9,370.1 L318.4,376.8 L319.1,377.5 L319.9,378.1 L320.6,378.7 L321.4,378.9 L322.1,376.7 L322.9,375.0 L323.6,377.8 L324.3,378.1 L325.0,378.6 L325.8,376.9 L326.5,377.7 L327.2,377.6 L327.9,377.4 L328.6,377.8 L329.3,375.6 L330.0,376.8 L330.8,378.9 L331.5,376.6 L332.2,376.4 L332.9,373.9 L333.6,376.4 L334.3,379.9 L335.1,376.8 L335.8,377.0 L336.5,380.1 L337.2,379.1 L337.9,377.7 L338.7,373.0 L339.4,373.3 L340.1,375.0 L340.8,377.5 L341.6,377.8 L342.3,376.0 L343.0,375.0 L343.7,371.6 L344.4,370.7 L345.1,373.6 L345.9,372.7 L346.6,369.9 L347.3,372.5 L348.0,371.2 L348.7,376.4 L349.4,377.4 L350.1,380.0 L350.8,379.3 L351.6,377.5 L352.3,377.5 L353.0,374.6 L353.7,373.6 L354.4,372.5 L355.1,370.7 L355.9,371.1 L356.6,374.3 L357.3,375.9 L358.0,377.1 L358.7,379.8 L359.5,377.7 L360.2,376.0 L360.9,371.7 L361.6,371.0 L362.3,374.5 L363.0,373.4 L363.8,371.4 L364.5,370.9 L365.2,366.6 L365.9,365.9 L366.6,363.2 L367.4,359.7 L368.1,359.8 L368.8,359.0 L369.5,354.4 L370.2,350.5 L370.9,344.9 L371.6,344.6 L372.4,344.2 L373.1,344.4 L373.8,346.3 L374.5,346.7 L375.2,346.8 L375.9,353.3 L376.7,360.6 L377.4,364.1 L378.1,367.0 L378.8,369.1 L379.5,372.2 L380.2,373.8 L381.0,374.2 L381.7,374.8 L382.4,375.2 L383.1,373.9 L383.9,373.4 L384.6,375.6 L385.3,375.4 L386.0,376.1 L386.7,377.3 L387.4,374.9 L388.2,375.5 L388.9,372.9 L389.6,378.9 L390.3,382.1 L391.0,377.1 L391.7,379.1 L392.5,377.3 L393.2,372.9 L393.9,373.7 L394.6,373.8 L395.3,371.4 L396.0,371.1 L396.8,372.6 L397.5,374.7 L398.2,375.2 L398.9,375.4 L399.6,375.8 L400.3,370.0 L401.0,370.0 L401.8,371.6 L402.5,367.7 L403.2,371.5 L403.9,374.4 L404.6,373.5 L405.4,374.0 L406.1,373.6 L406.8,375.3 L407.5,376.5 L408.2,375.9 L408.9,373.4 L409.6,374.0 L410.4,372.7 L411.1,373.7 L411.8,372.8 L412.5,369.5 L413.2,367.6 L414.0,369.1 L414.7,368.8 L415.4,370.2 L416.1,371.4 L416.8,370.1 L417.5,366.2 L418.2,364.6 L419.0,366.3 L419.7,364.2 L420.4,365.8 L421.1,363.7 L421.9,362.4 L422.6,359.3 L423.3,357.5 L424.0,352.3 L424.7,351.5 L425.4,350.9 L426.2,348.7 L427.0,346.9 L427.7,352.1 L428.3,357.2 L429.0,361.2 L429.7,364.3 L430.3,364.4 L431.0,368.3 L431.7,368.5 L432.3,370.1 L433.0,374.2 L433.7,374.1 L434.4,373.8 L435.1,376.0 L435.8,376.7 L436.5,377.4 L437.2,378.7 L437.9,379.9 L438.6,380.1 L439.3,380.4 L440.1,383.7 L440.8,383.2 L441.5,384.9 L442.2,383.4 L443.0,385.0 L443.7,384.1 L444.4,384.6 L445.1,386.3 L445.8,386.0 L446.5,384.5 L447.2,385.4 L447.9,386.4 L448.6,388.0 L449.3,387.3 L450.0,386.5 L450.6,386.0 L451.3,383.4 L451.9,383.2 L452.6,381.9 L453.3,382.3 L453.9,381.5 L454.6,380.7 L455.3,377.4 L455.9,377.7 L456.6,377.3 L457.3,377.6 L458.0,378.7 L458.6,378.8 L459.3,380.8 L460.0,382.8 L460.7,384.2 L461.4,383.2 L462.1,385.0 L462.8,385.1 L463.5,383.0 L464.2,382.8 L464.9,380.9 L465.6,381.5 L466.3,383.2 L467.0,384.9 L467.8,384.1 L468.5,382.3 L469.2,383.3 L469.9,385.7 L470.7,385.7 L471.4,386.6 L472.1,387.0 L472.8,387.1 L473.5,386.4 L474.2,385.1 L474.9,384.9 L475.6,385.9 L476.3,384.5 L477.0,382.7 L477.7,384.3 L478.4,384.2 L479.0,383.5 L479.7,383.1 L480.4,382.4 L481.1,383.3 L481.7,383.5 L482.4,383.1 L483.1,383.0 L483.8,383.0 L484.4,383.9 L485.1,383.6 L485.8,384.6 L486.5,384.0 L487.1,383.9 L487.8,384.1 L488.5,384.2 L489.1,384.7 L489.8,385.8 L490.5,386.6 L491.2,385.8 L491.9,386.9 L492.5,386.9 L493.2,387.9 L493.9,387.7 L494.6,387.4 L495.3,388.5 L496.0,389.2 L496.7,389.1 L497.4,389.6 L498.1,390.1 L498.8,390.5 L499.5,389.6 L500.2,389.5 L500.9,390.3 L501.6,390.9 L502.3,391.0 L503.0,390.3 L503.7,391.4 L504.4,390.8 L505.1,389.9 L505.8,390.8 L506.5,390.9 L507.2,390.7 L507.9,390.3 L508.6,389.9 L509.3,388.6 L510.1,388.4 L510.8,388.3 L511.5,388.3 L512.2,388.1 L513.0,387.0 L513.7,386.5 L514.4,386.2 L515.1,386.4 L515.8,386.1 L516.6,385.5 L517.3,385.5 L518.0,386.5 L518.7,386.9 L519.5,387.5 L520.2,386.4 L520.9,386.7 L521.6,387.5 L522.3,386.3 L523.0,386.1 L523.7,385.6 L524.4,387.0 L525.1,387.1 L525.8,386.7 L526.5,386.9 L527.2,386.9 L527.9,387.4 L528.6,387.8 L529.3,387.9 L530.0,387.6 L530.7,387.6 L531.4,387.5 L532.1,387.6 L532.9,385.7 L533.6,386.0 L534.3,385.8 L535.0,385.7 L535.8,385.4 L536.5,385.2 L537.2,385.3 L537.9,383.5 L538.6,381.7 L539.3,379.1 L540.0,376.8 L540.7,378.4 L541.4,379.4 L542.1,381.5 L542.8,381.6 L543.5,381.2 L544.2,380.9 L544.9,381.7 L545.6,382.1 L546.3,384.1 L547.0,384.4 L547.6,383.8 L548.3,383.9 L548.9,383.7 L549.6,383.9 L550.2,384.4 L550.9,384.6 L551.6,384.3 L552.3,384.9 L553.0,385.1 L553.7,386.0 L554.4,384.4 L555.1,384.7 L555.7,385.1 L556.4,385.0 L557.0,386.0 L557.7,386.2 L558.3,387.6 L559.0,389.8 L559.7,390.3 L560.3,390.9 L561.0,391.0 L561.7,389.4 L562.4,389.9 L563.1,390.0 L563.8,390.4 L564.5,389.8 L565.1,389.0 L565.8,391.1 L566.5,391.8 L567.2,391.6 L567.9,391.0 L568.5,391.2 L569.2,390.4 L569.9,391.4 L570.5,391.4 L571.2,391.3 L571.9,391.1 L572.6,391.2 L573.2,391.5 L573.9,391.3 L574.6,392.0 L575.3,392.1 L576.0,392.0 L576.7,391.5 L577.4,392.6 L578.2,393.2 L578.9,393.3 L579.6,391.9 L580.3,392.0 L581.0,393.0 L581.7,393.0 L582.4,393.4 L583.1,392.5 L583.9,392.7 L584.6,392.5 L585.3,390.5 L586.0,390.5 L586.8,390.5 L587.5,390.1 L588.2,389.7 L588.9,390.7 L589.6,390.1 L590.4,390.1 L591.1,388.7 L591.8,387.3 L592.5,387.3 L593.2,387.7 L593.9,387.1 L594.6,387.3 L595.4,387.5 L596.1,386.6 L596.8,386.3 L597.5,386.1 L598.2,387.2 L598.9,388.3 L599.6,388.3 L600.4,387.8 L601.1,387.5 L601.8,387.7 L602.5,388.6 L603.2,388.2 L603.9,389.3 L604.6,388.3 L605.4,388.5 L606.1,389.4 L606.8,390.2 L607.5,389.4 L608.2,389.6 L608.9,390.8 L609.6,390.7 L610.4,388.7 L611.1,389.0 L611.8,390.5 L612.5,389.3 L613.2,389.8 L613.9,388.4 L614.7,389.8 L615.4,389.2 L616.1,389.9 L616.8,390.4 L617.5,388.4 L618.2,388.2 L619.0,389.2 L619.7,388.7 L620.4,389.3 L621.1,389.0 L621.8,390.2 L622.5,389.7 L623.3,389.2 L624.0,389.9 L624.7,390.6 L625.4,390.1 L626.1,390.1 L626.9,390.2 L627.6,389.6 L628.3,388.9 L629.0,389.5 L629.7,389.2 L630.3,388.4 L631.0,389.2 L631.7,389.4 L632.3,389.2 L633.0,388.5 L633.7,388.4 L634.3,388.8 L635.0,388.9 L635.7,385.2 L636.4,381.8 L637.0,383.4 L637.7,384.7 L638.3,386.3 L639.0,386.5 L639.6,388.3 L640.3,389.5 L641.0,389.8 L641.7,389.6 L642.4,390.1 L643.1,389.1 L643.8,389.3 L644.5,390.9 L645.2,389.8 L645.9,389.5 L646.6,390.7 L647.3,390.6 L648.0,390.7 L648.7,390.4 L649.4,392.0 L650.1,391.5 L650.9,391.5 L651.6,390.6 L652.3,391.7 L653.0,391.9 L653.7,392.3 L654.4,393.3 L655.1,393.0 L655.8,392.1 L656.6,391.7 L657.3,392.2 L658.0,393.3 L658.7,392.4 L659.4,392.5 L660.1,392.6 L660.9,393.2 L661.6,392.6 L662.3,393.0 L663.0,393.6 L663.7,393.4 L664.4,393.3 L665.1,393.7 L665.9,393.9 L666.6,394.4 L667.3,393.3 L668.0,393.9 L668.7,393.2 L669.4,392.2 L670.2,391.8 L670.9,391.1 L671.6,391.3 L672.3,392.0 L673.0,390.3 L673.8,389.9 L674.5,390.8 L675.2,390.5 L675.9,390.9 L676.6,389.9 L677.3,390.1 L678.0,388.7 L678.8,388.9 L679.5,390.0 L680.2,390.8 L680.9,391.5 L681.6,390.9 L682.4,390.0 L683.1,389.8 L683.8,388.7 L684.5,390.1 L685.2,390.2 L685.9,388.8 L686.7,389.5 L687.4,387.7 L688.1,387.6 L688.8,386.5 L689.6,385.1 L690.3,385.4 L691.0,384.4 L691.7,384.2 L692.4,382.3 L693.1,381.3 L693.9,379.9 L694.6,378.8 L695.3,377.2 L696.0,379.2 L696.7,380.7 L697.5,381.8 L698.2,382.9 L698.9,385.3 L699.6,385.6 L700.2,384.7 L700.9,384.8 L701.5,384.2 L702.2,382.7 L702.8,382.5 L703.4,379.6 L704.1,376.2 L704.7,373.7 L705.4,370.2 L706.0,367.5 L706.7,366.0 L707.5,366.3 L708.2,364.8 L708.9,366.9 L709.6,368.7 L710.3,370.8 L711.0,368.3 L711.8,366.5 L712.5,364.2 L713.2,365.4 L713.9,369.0 L714.6,371.3 L715.3,372.7 L716.0,373.2 L716.8,373.3 L717.5,372.2 L718.2,372.0 L718.9,372.6 L719.6,377.5 L720.4,381.6 L721.1,387.8 L721.8,388.6 L722.5,389.0 L723.2,389.1 L724.0,389.8 L724.7,390.6 L725.4,391.2 L726.1,391.3 L726.8,391.8 L727.5,390.4 L728.2,390.9 L729.0,391.6 L729.7,390.4 L730.4,390.4 L731.1,390.3 L731.8,389.7 L732.5,390.5 L733.2,390.2 L734.0,390.9 L734.7,390.7 L735.4,390.2 L736.1,390.2 L736.9,389.7 L737.6,388.7 L738.3,389.9 L739.0,390.5 L739.7,391.6 L740.5,390.6 L741.2,392.0 L741.9,392.9 L742.6,393.1 L743.3,391.5 L744.0,391.8 L744.7,391.4 L745.4,391.3 L746.2,391.3 L746.9,390.7 L747.6,390.6 L748.3,390.6 L749.0,391.3 L749.7,391.3 L750.4,392.9 L751.1,391.9 L751.9,392.1 L752.6,393.2 L753.3,392.3 L754.0,392.2 L754.7,391.6 L755.5,390.4 L756.2,389.7 L756.9,390.0 L757.6,388.6 L758.4,388.0 L759.1,387.4 L759.8,387.2 L760.5,385.2 L761.2,384.3 L762.0,383.7 L762.7,383.9 L763.4,384.4 L764.1,384.6 L764.8,384.8 L765.5,386.2 L766.2,386.3 L767.0,387.0 L767.7,386.8 L768.4,387.9 L769.1,387.2 L769.8,388.0 L770.5,388.2 L771.3,389.0 L772.0,388.0 L772.7,387.0 L773.3,388.2 L774.0,388.8 L774.6,388.8 L775.3,388.6 L775.9,390.0" fill="none" stroke="#000000" stroke-width="4.4" stroke-linecap="butt" stroke-linejoin="round"/>
<circle transform="translate(197.1,384.5) scale(1.06,1)" r="21.5" fill="none" stroke="#ff0000" stroke-width="5.2"/>
<circle transform="translate(211.7,340.6) scale(1.06,1)" r="21.5" fill="none" stroke="#ff0000" stroke-width="5.2"/>
<circle transform="translate(269.5,362.4) scale(1.06,1)" r="21.5" fill="none" stroke="#ff0000" stroke-width="5.2"/>
<circle transform="translate(303.1,369.5) scale(1.06,1)" r="21.5" fill="none" stroke="#ff0000" stroke-width="5.2"/>
<circle transform="translate(338.2,304.4) scale(1.06,1)" r="21.5" fill="none" stroke="#ff0000" stroke-width="5.2"/>
<circle transform="translate(374.2,339.6) scale(1.06,1)" r="21.5" fill="none" stroke="#ff0000" stroke-width="5.2"/>
<circle transform="translate(430.0,346.7) scale(1.06,1)" r="21.5" fill="none" stroke="#ff0000" stroke-width="5.2"/>
<circle transform="translate(543.0,375.4) scale(1.06,1)" r="21.5" fill="none" stroke="#ff0000" stroke-width="5.2"/>
<circle transform="translate(665.0,347.55) scale(1.06,1)" r="21.5" fill="none" stroke="#ff0000" stroke-width="5.2"/>
<circle transform="translate(714.7,397.6) scale(1.06,1)" r="21.5" fill="none" stroke="#ff0000" stroke-width="5.2"/>
</g>
<line x1="20.25" y1="14.0" x2="20.25" y2="537.85" stroke="#a6a6a6" stroke-width="1.2"/>
<line x1="811.45" y1="14.0" x2="811.45" y2="537.85" stroke="#555" stroke-width="1"/>
<line x1="19.75" y1="14.5" x2="811.95" y2="14.5" stroke="#2c2c2c" stroke-width="1"/>
<line x1="19.75" y1="537.35" x2="811.95" y2="537.35" stroke="#484848" stroke-width="1.1"/>
<g stroke="#3a3a3a" stroke-width="1"><line x1="91.40" y1="537.35" x2="91.40" y2="540.75"/><line x1="172.54" y1="537.35" x2="172.54" y2="540.75"/><line x1="253.67" y1="537.35" x2="253.67" y2="540.75"/><line x1="334.81" y1="537.35" x2="334.81" y2="540.75"/><line x1="415.94" y1="537.35" x2="415.94" y2="540.75"/><line x1="497.08" y1="537.35" x2="497.08" y2="540.75"/><line x1="578.22" y1="537.35" x2="578.22" y2="540.75"/><line x1="659.35" y1="537.35" x2="659.35" y2="540.75"/><line x1="740.49" y1="537.35" x2="740.49" y2="540.75"/></g>
<g stroke="#6a6a6a" stroke-width="1"><line x1="16.95" y1="476.33" x2="20.25" y2="476.33"/><line x1="16.95" y1="400.56" x2="20.25" y2="400.56"/><line x1="16.95" y1="324.79" x2="20.25" y2="324.79"/><line x1="16.95" y1="249.02" x2="20.25" y2="249.02"/><line x1="16.95" y1="173.24" x2="20.25" y2="173.24"/><line x1="16.95" y1="97.47" x2="20.25" y2="97.47"/><line x1="16.95" y1="21.70" x2="20.25" y2="21.70"/></g>
<g transform="scale(0.945,1)" font-family="'DejaVu Sans','Liberation Sans',sans-serif" font-size="8.2" fill="#000"><text x="96.72" y="549.55" text-anchor="middle">1992</text><text x="182.58" y="549.55" text-anchor="middle">1996</text><text x="268.44" y="549.55" text-anchor="middle">2000</text><text x="354.29" y="549.55" text-anchor="middle">2004</text><text x="440.15" y="549.55" text-anchor="middle">2008</text><text x="526.01" y="549.55" text-anchor="middle">2012</text><text x="611.87" y="549.55" text-anchor="middle">2016</text><text x="697.73" y="549.55" text-anchor="middle">2020</text><text x="783.59" y="549.55" text-anchor="middle">2024</text><text x="14.13" y="479.83" text-anchor="end">−20</text><text x="15.08" y="404.06" text-anchor="end">0</text><text x="15.08" y="328.29" text-anchor="end">20</text><text x="15.08" y="252.52" text-anchor="end">40</text><text x="15.08" y="176.74" text-anchor="end">60</text><text x="15.08" y="100.97" text-anchor="end">80</text><text x="15.08" y="25.20" text-anchor="end">100</text></g>
<text transform="scale(1.03,1)" x="403.74" y="10.05" text-anchor="middle" font-family="'DejaVu Sans','Liberation Sans',sans-serif" font-weight="bold" font-size="12.22" fill="#000">MAPA CONFLUENCIA LAGUEADO</text>
<g stroke="#888" stroke-width="0.7" stroke-opacity="0.7"><line x1="17.9" y1="556.3" x2="17.9" y2="558"/><line x1="75.5" y1="556.3" x2="75.5" y2="558"/><line x1="133.1" y1="556.3" x2="133.1" y2="558"/><line x1="190.7" y1="556.3" x2="190.7" y2="558"/><line x1="248.3" y1="556.3" x2="248.3" y2="558"/><line x1="305.9" y1="556.3" x2="305.9" y2="558"/><line x1="363.5" y1="556.3" x2="363.5" y2="558"/><line x1="421.1" y1="556.3" x2="421.1" y2="558"/><line x1="478.7" y1="556.3" x2="478.7" y2="558"/><line x1="536.3" y1="556.3" x2="536.3" y2="558"/><line x1="593.9" y1="556.3" x2="593.9" y2="558"/><line x1="651.5" y1="556.3" x2="651.5" y2="558"/><line x1="709.1" y1="556.3" x2="709.1" y2="558"/><line x1="766.7" y1="556.3" x2="766.7" y2="558"/><line x1="824.3" y1="556.3" x2="824.3" y2="558"/><line x1="881.9" y1="556.3" x2="881.9" y2="558"/><line x1="939.5" y1="556.3" x2="939.5" y2="558"/></g>
<rect x="823.4" y="18.5" width="157.0" height="191.9" rx="1.6" fill="#fff" fill-opacity="0.8" stroke="#cccccc" stroke-opacity="0.8" stroke-width="0.8"/>
<line x1="826.5" y1="25.10" x2="842.3" y2="25.10" stroke="#000000" stroke-width="4.3" stroke-opacity="1" stroke-linecap="square"/><line x1="826.5" y1="36.94" x2="842.3" y2="36.94" stroke="#d8d8d8" stroke-width="1.2" stroke-opacity="0.7" stroke-dasharray="4.4 1.9"/><line x1="826.5" y1="48.77" x2="842.3" y2="48.77" stroke="#c4c4c4" stroke-width="1.2" stroke-opacity="0.8" stroke-dasharray="4.4 1.9"/><line x1="826.5" y1="60.61" x2="842.3" y2="60.61" stroke="#0000ff" stroke-width="3.2" stroke-opacity="0.9" stroke-linecap="square"/><line x1="826.5" y1="72.45" x2="842.3" y2="72.45" stroke="#ffd700" stroke-width="4.8" stroke-opacity="0.8" stroke-linecap="square"/><line x1="826.5" y1="84.28" x2="842.3" y2="84.28" stroke="#00ffff" stroke-width="1.6" stroke-opacity="1" stroke-linecap="square"/><line x1="826.5" y1="96.12" x2="842.3" y2="96.12" stroke="#ff00ff" stroke-width="1.6" stroke-opacity="1" stroke-linecap="square"/><line x1="826.5" y1="107.96" x2="842.3" y2="107.96" stroke="#ffa500" stroke-width="1.6" stroke-opacity="1" stroke-linecap="square"/><line x1="826.5" y1="119.79" x2="842.3" y2="119.79" stroke="#0000ff" stroke-width="1.6" stroke-opacity="1" stroke-linecap="square"/><line x1="826.5" y1="131.63" x2="842.3" y2="131.63" stroke="#00ff00" stroke-width="2.6" stroke-opacity="1" stroke-dasharray="2.7 4.4"/><line x1="826.5" y1="143.47" x2="842.3" y2="143.47" stroke="#ff0000" stroke-width="2.6" stroke-opacity="1" stroke-dasharray="2.7 4.4"/><line x1="826.5" y1="155.30" x2="842.3" y2="155.30" stroke="#8b0000" stroke-width="1.0" stroke-opacity="1" stroke-dasharray="1.2 1.9"/><line x1="826.5" y1="167.14" x2="842.3" y2="167.14" stroke="#d2691e" stroke-width="1.0" stroke-opacity="1" stroke-dasharray="1.2 1.9"/><line x1="826.5" y1="178.98" x2="842.3" y2="178.98" stroke="#a0522d" stroke-width="1.0" stroke-opacity="1" stroke-dasharray="1.2 1.9"/><line x1="826.5" y1="190.81" x2="842.3" y2="190.81" stroke="#00008b" stroke-width="1.0" stroke-opacity="1" stroke-dasharray="1.2 1.9"/><line x1="826.5" y1="202.65" x2="842.3" y2="202.65" stroke="#800080" stroke-width="1.0" stroke-opacity="1" stroke-dasharray="1.2 1.9"/>
<g transform="scale(0.995,1)" font-family="'DejaVu Sans','Liberation Sans',sans-serif" font-size="7.9" fill="#000"><text x="852.86" y="27.90">PRECIO ACTIVO (MKT)</text><text x="852.86" y="39.74">GAP Acum</text><text x="852.86" y="51.57">MKT Acum</text><text x="852.86" y="63.41">!!! COMBO: COB+TREND LAG !!!</text><text x="852.86" y="75.25">MÁSTER TOTAL</text><text x="852.86" y="87.08">Estrat: PREDICCIÓN</text><text x="852.86" y="98.92">Estrat: COBERTURA</text><text x="852.86" y="110.76">Estrat: TREND</text><text x="852.86" y="122.59">Estrat: REBOUND</text><text x="852.86" y="134.43">PURO: MBI</text><text x="852.86" y="146.27">PURO: RSG</text><text x="852.86" y="158.10">PURO: YNRX (G-M)</text><text x="852.86" y="169.94">PURO: YNRX (TM+M)</text><text x="852.86" y="181.78">PURO: YNRX (TM+G)</text><text x="852.86" y="193.61">PURO: YNRY 1</text><text x="852.86" y="205.45">PURO: YNRY 2</text></g>
</svg>
</body></html>
